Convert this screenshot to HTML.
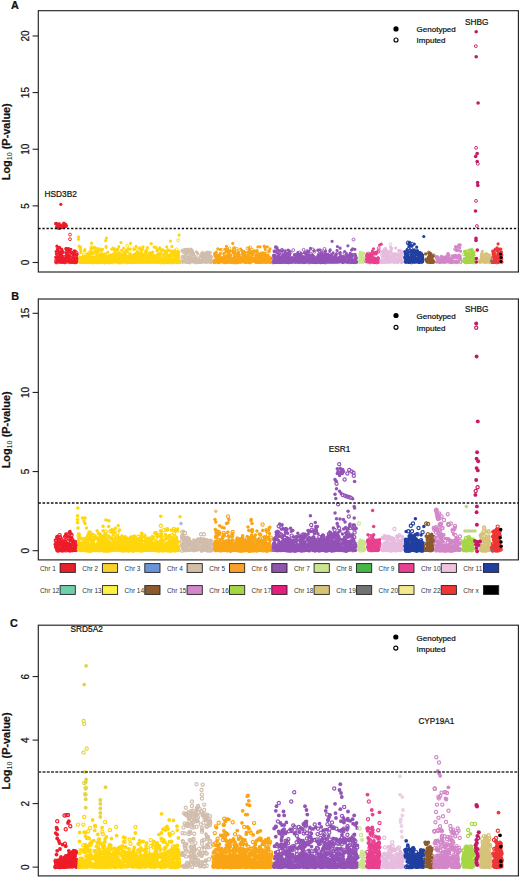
<!DOCTYPE html>
<html><head><meta charset="utf-8"><style>
html,body{margin:0;padding:0;background:#fff;}
svg{display:block;}
text{stroke:#111;stroke-width:0.22px;paint-order:stroke;}
.lg{stroke:none;}
</style></head><body>
<svg width="520" height="878" viewBox="0 0 520 878" font-family="Liberation Sans, sans-serif">
<defs><marker id="r1" markerUnits="userSpaceOnUse" markerWidth="6" markerHeight="6" refX="3" refY="3" overflow="visible"><circle cx="3" cy="3" r="1.45" fill="none" stroke="#ee1c2a" stroke-width="0.9"/></marker><marker id="r1L" markerUnits="userSpaceOnUse" markerWidth="6" markerHeight="6" refX="3" refY="3" overflow="visible"><circle cx="3" cy="3" r="1.6" fill="none" stroke="#ee1c2a" stroke-width="1.15"/></marker><marker id="r2" markerUnits="userSpaceOnUse" markerWidth="6" markerHeight="6" refX="3" refY="3" overflow="visible"><circle cx="3" cy="3" r="1.45" fill="none" stroke="#ffd60c" stroke-width="0.9"/></marker><marker id="r2L" markerUnits="userSpaceOnUse" markerWidth="6" markerHeight="6" refX="3" refY="3" overflow="visible"><circle cx="3" cy="3" r="1.6" fill="none" stroke="#ffd60c" stroke-width="1.15"/></marker><marker id="r3" markerUnits="userSpaceOnUse" markerWidth="6" markerHeight="6" refX="3" refY="3" overflow="visible"><circle cx="3" cy="3" r="1.45" fill="none" stroke="#6a94d8" stroke-width="0.9"/></marker><marker id="r3L" markerUnits="userSpaceOnUse" markerWidth="6" markerHeight="6" refX="3" refY="3" overflow="visible"><circle cx="3" cy="3" r="1.6" fill="none" stroke="#6a94d8" stroke-width="1.15"/></marker><marker id="r4" markerUnits="userSpaceOnUse" markerWidth="6" markerHeight="6" refX="3" refY="3" overflow="visible"><circle cx="3" cy="3" r="1.45" fill="none" stroke="#d1bdac" stroke-width="0.9"/></marker><marker id="r4L" markerUnits="userSpaceOnUse" markerWidth="6" markerHeight="6" refX="3" refY="3" overflow="visible"><circle cx="3" cy="3" r="1.6" fill="none" stroke="#d1bdac" stroke-width="1.15"/></marker><marker id="r5" markerUnits="userSpaceOnUse" markerWidth="6" markerHeight="6" refX="3" refY="3" overflow="visible"><circle cx="3" cy="3" r="1.45" fill="none" stroke="#f9a516" stroke-width="0.9"/></marker><marker id="r5L" markerUnits="userSpaceOnUse" markerWidth="6" markerHeight="6" refX="3" refY="3" overflow="visible"><circle cx="3" cy="3" r="1.6" fill="none" stroke="#f9a516" stroke-width="1.15"/></marker><marker id="r6" markerUnits="userSpaceOnUse" markerWidth="6" markerHeight="6" refX="3" refY="3" overflow="visible"><circle cx="3" cy="3" r="1.45" fill="none" stroke="#9252b6" stroke-width="0.9"/></marker><marker id="r6L" markerUnits="userSpaceOnUse" markerWidth="6" markerHeight="6" refX="3" refY="3" overflow="visible"><circle cx="3" cy="3" r="1.6" fill="none" stroke="#9252b6" stroke-width="1.15"/></marker><marker id="r7" markerUnits="userSpaceOnUse" markerWidth="6" markerHeight="6" refX="3" refY="3" overflow="visible"><circle cx="3" cy="3" r="1.45" fill="none" stroke="#c9e58d" stroke-width="0.9"/></marker><marker id="r7L" markerUnits="userSpaceOnUse" markerWidth="6" markerHeight="6" refX="3" refY="3" overflow="visible"><circle cx="3" cy="3" r="1.6" fill="none" stroke="#c9e58d" stroke-width="1.15"/></marker><marker id="r8" markerUnits="userSpaceOnUse" markerWidth="6" markerHeight="6" refX="3" refY="3" overflow="visible"><circle cx="3" cy="3" r="1.45" fill="none" stroke="#47b648" stroke-width="0.9"/></marker><marker id="r8L" markerUnits="userSpaceOnUse" markerWidth="6" markerHeight="6" refX="3" refY="3" overflow="visible"><circle cx="3" cy="3" r="1.6" fill="none" stroke="#47b648" stroke-width="1.15"/></marker><marker id="r9" markerUnits="userSpaceOnUse" markerWidth="6" markerHeight="6" refX="3" refY="3" overflow="visible"><circle cx="3" cy="3" r="1.45" fill="none" stroke="#e8418f" stroke-width="0.9"/></marker><marker id="r9L" markerUnits="userSpaceOnUse" markerWidth="6" markerHeight="6" refX="3" refY="3" overflow="visible"><circle cx="3" cy="3" r="1.6" fill="none" stroke="#e8418f" stroke-width="1.15"/></marker><marker id="r10" markerUnits="userSpaceOnUse" markerWidth="6" markerHeight="6" refX="3" refY="3" overflow="visible"><circle cx="3" cy="3" r="1.45" fill="none" stroke="#e6bcdf" stroke-width="0.9"/></marker><marker id="r10L" markerUnits="userSpaceOnUse" markerWidth="6" markerHeight="6" refX="3" refY="3" overflow="visible"><circle cx="3" cy="3" r="1.6" fill="none" stroke="#e6bcdf" stroke-width="1.15"/></marker><marker id="r11" markerUnits="userSpaceOnUse" markerWidth="6" markerHeight="6" refX="3" refY="3" overflow="visible"><circle cx="3" cy="3" r="1.45" fill="none" stroke="#213fa0" stroke-width="0.9"/></marker><marker id="r11L" markerUnits="userSpaceOnUse" markerWidth="6" markerHeight="6" refX="3" refY="3" overflow="visible"><circle cx="3" cy="3" r="1.6" fill="none" stroke="#213fa0" stroke-width="1.15"/></marker><marker id="r12" markerUnits="userSpaceOnUse" markerWidth="6" markerHeight="6" refX="3" refY="3" overflow="visible"><circle cx="3" cy="3" r="1.45" fill="none" stroke="#6fcfa8" stroke-width="0.9"/></marker><marker id="r12L" markerUnits="userSpaceOnUse" markerWidth="6" markerHeight="6" refX="3" refY="3" overflow="visible"><circle cx="3" cy="3" r="1.6" fill="none" stroke="#6fcfa8" stroke-width="1.15"/></marker><marker id="r13" markerUnits="userSpaceOnUse" markerWidth="6" markerHeight="6" refX="3" refY="3" overflow="visible"><circle cx="3" cy="3" r="1.45" fill="none" stroke="#fbf142" stroke-width="0.9"/></marker><marker id="r13L" markerUnits="userSpaceOnUse" markerWidth="6" markerHeight="6" refX="3" refY="3" overflow="visible"><circle cx="3" cy="3" r="1.6" fill="none" stroke="#fbf142" stroke-width="1.15"/></marker><marker id="r14" markerUnits="userSpaceOnUse" markerWidth="6" markerHeight="6" refX="3" refY="3" overflow="visible"><circle cx="3" cy="3" r="1.45" fill="none" stroke="#8d5a2c" stroke-width="0.9"/></marker><marker id="r14L" markerUnits="userSpaceOnUse" markerWidth="6" markerHeight="6" refX="3" refY="3" overflow="visible"><circle cx="3" cy="3" r="1.6" fill="none" stroke="#8d5a2c" stroke-width="1.15"/></marker><marker id="r15" markerUnits="userSpaceOnUse" markerWidth="6" markerHeight="6" refX="3" refY="3" overflow="visible"><circle cx="3" cy="3" r="1.45" fill="none" stroke="#d386c8" stroke-width="0.9"/></marker><marker id="r15L" markerUnits="userSpaceOnUse" markerWidth="6" markerHeight="6" refX="3" refY="3" overflow="visible"><circle cx="3" cy="3" r="1.6" fill="none" stroke="#d386c8" stroke-width="1.15"/></marker><marker id="r16" markerUnits="userSpaceOnUse" markerWidth="6" markerHeight="6" refX="3" refY="3" overflow="visible"><circle cx="3" cy="3" r="1.45" fill="none" stroke="#a6d645" stroke-width="0.9"/></marker><marker id="r16L" markerUnits="userSpaceOnUse" markerWidth="6" markerHeight="6" refX="3" refY="3" overflow="visible"><circle cx="3" cy="3" r="1.6" fill="none" stroke="#a6d645" stroke-width="1.15"/></marker><marker id="r17" markerUnits="userSpaceOnUse" markerWidth="6" markerHeight="6" refX="3" refY="3" overflow="visible"><circle cx="3" cy="3" r="1.45" fill="none" stroke="#c41a66" stroke-width="0.9"/></marker><marker id="r17L" markerUnits="userSpaceOnUse" markerWidth="6" markerHeight="6" refX="3" refY="3" overflow="visible"><circle cx="3" cy="3" r="1.6" fill="none" stroke="#c41a66" stroke-width="1.15"/></marker><marker id="r18" markerUnits="userSpaceOnUse" markerWidth="6" markerHeight="6" refX="3" refY="3" overflow="visible"><circle cx="3" cy="3" r="1.45" fill="none" stroke="#d7c27a" stroke-width="0.9"/></marker><marker id="r18L" markerUnits="userSpaceOnUse" markerWidth="6" markerHeight="6" refX="3" refY="3" overflow="visible"><circle cx="3" cy="3" r="1.6" fill="none" stroke="#d7c27a" stroke-width="1.15"/></marker><marker id="r19" markerUnits="userSpaceOnUse" markerWidth="6" markerHeight="6" refX="3" refY="3" overflow="visible"><circle cx="3" cy="3" r="1.45" fill="none" stroke="#727272" stroke-width="0.9"/></marker><marker id="r19L" markerUnits="userSpaceOnUse" markerWidth="6" markerHeight="6" refX="3" refY="3" overflow="visible"><circle cx="3" cy="3" r="1.6" fill="none" stroke="#727272" stroke-width="1.15"/></marker><marker id="r20" markerUnits="userSpaceOnUse" markerWidth="6" markerHeight="6" refX="3" refY="3" overflow="visible"><circle cx="3" cy="3" r="1.45" fill="none" stroke="#f2e98f" stroke-width="0.9"/></marker><marker id="r20L" markerUnits="userSpaceOnUse" markerWidth="6" markerHeight="6" refX="3" refY="3" overflow="visible"><circle cx="3" cy="3" r="1.6" fill="none" stroke="#f2e98f" stroke-width="1.15"/></marker><marker id="r22" markerUnits="userSpaceOnUse" markerWidth="6" markerHeight="6" refX="3" refY="3" overflow="visible"><circle cx="3" cy="3" r="1.45" fill="none" stroke="#ee3636" stroke-width="0.9"/></marker><marker id="r22L" markerUnits="userSpaceOnUse" markerWidth="6" markerHeight="6" refX="3" refY="3" overflow="visible"><circle cx="3" cy="3" r="1.6" fill="none" stroke="#ee3636" stroke-width="1.15"/></marker><marker id="rx" markerUnits="userSpaceOnUse" markerWidth="6" markerHeight="6" refX="3" refY="3" overflow="visible"><circle cx="3" cy="3" r="1.45" fill="none" stroke="#000000" stroke-width="0.9"/></marker><marker id="rxL" markerUnits="userSpaceOnUse" markerWidth="6" markerHeight="6" refX="3" refY="3" overflow="visible"><circle cx="3" cy="3" r="1.6" fill="none" stroke="#000000" stroke-width="1.15"/></marker><marker id="r10p" markerUnits="userSpaceOnUse" markerWidth="6" markerHeight="6" refX="3" refY="3" overflow="visible"><circle cx="3" cy="3" r="1.45" fill="none" stroke="#ebd0e6" stroke-width="0.9"/></marker><marker id="r10pL" markerUnits="userSpaceOnUse" markerWidth="6" markerHeight="6" refX="3" refY="3" overflow="visible"><circle cx="3" cy="3" r="1.6" fill="none" stroke="#ebd0e6" stroke-width="1.15"/></marker><marker id="r2o" markerUnits="userSpaceOnUse" markerWidth="6" markerHeight="6" refX="3" refY="3" overflow="visible"><circle cx="3" cy="3" r="1.45" fill="none" stroke="#e2d444" stroke-width="0.9"/></marker><marker id="r2oL" markerUnits="userSpaceOnUse" markerWidth="6" markerHeight="6" refX="3" refY="3" overflow="visible"><circle cx="3" cy="3" r="1.6" fill="none" stroke="#e2d444" stroke-width="1.15"/></marker><marker id="r16p" markerUnits="userSpaceOnUse" markerWidth="6" markerHeight="6" refX="3" refY="3" overflow="visible"><circle cx="3" cy="3" r="1.45" fill="none" stroke="#bfd585" stroke-width="0.9"/></marker><marker id="r16pL" markerUnits="userSpaceOnUse" markerWidth="6" markerHeight="6" refX="3" refY="3" overflow="visible"><circle cx="3" cy="3" r="1.6" fill="none" stroke="#bfd585" stroke-width="1.15"/></marker><marker id="r3p" markerUnits="userSpaceOnUse" markerWidth="6" markerHeight="6" refX="3" refY="3" overflow="visible"><circle cx="3" cy="3" r="1.45" fill="none" stroke="#b9b3dd" stroke-width="0.9"/></marker><marker id="r3pL" markerUnits="userSpaceOnUse" markerWidth="6" markerHeight="6" refX="3" refY="3" overflow="visible"><circle cx="3" cy="3" r="1.6" fill="none" stroke="#b9b3dd" stroke-width="1.15"/></marker><marker id="r5p" markerUnits="userSpaceOnUse" markerWidth="6" markerHeight="6" refX="3" refY="3" overflow="visible"><circle cx="3" cy="3" r="1.45" fill="none" stroke="#e8c07c" stroke-width="0.9"/></marker><marker id="r5pL" markerUnits="userSpaceOnUse" markerWidth="6" markerHeight="6" refX="3" refY="3" overflow="visible"><circle cx="3" cy="3" r="1.6" fill="none" stroke="#e8c07c" stroke-width="1.15"/></marker></defs>
<rect width="520" height="878" fill="#fff"/>
<path d="M58.4 251.1h0M61 257.9h0M56.1 251.5h0M72 262.5h0M71.2 260.6h0M60.3 258.5h0M73.7 257.5h0M59.5 247.4h0M58.1 259.4h0M70.9 249.3h0M68.3 250.8h0M60.8 253.2h0M59.3 256.9h0M70.1 259h0M66.5 253.6h0M56.4 254.1h0M66.4 248.6h0M66.6 249.4h0M65.5 260.3h0M76.3 262.5h0M73.3 252.2h0M73.1 257.8h0M64.7 262.1h0M67.9 260.8h0M67.2 256h0M59.3 256.5h0M72.8 253.7h0M61 252.4h0M61.4 254.9h0M57.9 249.3h0M60 256.3h0M71.1 261.2h0M76.7 254.6h0M68 259.7h0M56.8 259.7h0M74.5 260.1h0M62.2 250.6h0M74.6 262.2h0M74.3 250.8h0M60 255.2h0M59.7 261.7h0M59.9 259.6h0M70.1 251.6h0M63 252.3h0M75.3 260.9h0M62.9 260.2h0M68.6 248.5h0M56.3 261.9h0M61.3 251.4h0M59.1 260.4h0M76.8 260.3h0M75.3 251.1h0M57.9 260.6h0M76.8 257.9h0M69.9 260.2h0M61.6 249.1h0M69.6 255.5h0M62.4 252.8h0M62.1 259.7h0M69.3 259.9h0M76.1 261.3h0M57.8 257.2h0M75.1 254.3h0M73.7 254.9h0M56.9 246.2h0M67.4 257.2h0M61.1 262.3h0M55.7 257.3h0M69.6 258.3h0M71.4 260.5h0M65.9 260.7h0M67.7 250.3h0M57.1 257.1h0M59 253.2h0M62.3 261.5h0M63.6 261.5h0M68.4 261.2h0M60.9 262.2h0M71.9 262.4h0M71.1 262h0M76.8 261.3h0M61.3 261.2h0M58.5 261.4h0M69.8 261.5h0M62.6 262.3h0M76.3 262.3h0M69.1 261.6h0" stroke="#ee1c2a" stroke-width="3.2" stroke-linecap="round" fill="none"/>
<path d="M69.6,252.7 75.1,262.3 67.2,249.5 60.2,258.7 60.6,260.6 65.5,260.1 73.5,256 66.5,256.6 64,258.3 68.4,258.9 67.2,251.6 66,259.4 65.4,262.3 57.3,262.4 71.9,260.4 69.1,259.4 59,257.2 62.5,258.3 63.9,259 56,262.4 70.2,256.9 60.3,255.7 64.5,260.5 76.4,257.6 66.5,259.2 61.9,257.9 74.4,252.4 72.5,259.6 66,248.8 71.2,261.8 68.5,251.8 58.4,256.8 72.6,253 68.8,253 67.9,260.6 75.6,258.7 72.6,253 70,261.8 74.7,262.2 76.9,259.2 57.7,248.9 76.6,252.7 61,258.1 69.6,262.2 65.3,259.9 62.2,260.5 64,260.1 68.1,256.3 55.9,260.4 67.5,261.9 66.2,252 66.4,253.3 76.9,254.3 61.9,251.6 75.3,262.3 59.4,258.4 71,255.3 65.3,259.1 64.5,257.3 63.2,261.5 61.1,252.7 64.2,256.8 61.5,256 76.3,261.7 59.1,261.4 75.6,261.1 72.9,261.9 64.4,262.3 60.9,261.4 59.6,261.9" stroke="none" fill="none" marker-start="url(#r1)" marker-mid="url(#r1)" marker-end="url(#r1)"/>
<path d="M100.2 260.9h0M106.8 258.4h0M147.7 255.6h0M176.7 258.8h0M164.9 255.9h0M160.1 261.9h0M134 249.4h0M176.7 261.8h0M136.7 260.8h0M123.7 259.7h0M119.4 255.6h0M128.7 257.6h0M99.9 262.5h0M139.2 253.5h0M130.5 243.3h0M162.8 260.1h0M141.4 259.1h0M80 260.3h0M120 253.7h0M152.8 252.1h0M128.7 256.1h0M144.3 258.1h0M142.3 258h0M157.6 254.3h0M160.9 258.3h0M106 256.7h0M133.9 261.7h0M130.5 256.1h0M130.2 249.1h0M119.7 257.2h0M100.4 261.4h0M106.4 262.1h0M131.8 260.4h0M153.1 261.6h0M150.7 254.8h0M140.4 261.3h0M96.8 255.5h0M112.5 261.3h0M169.3 257.9h0M122.6 255.8h0M176.6 259.7h0M152.2 258.2h0M151 260.4h0M103.6 256.5h0M110.1 262h0M85.1 258.4h0M101.2 262.3h0M160.8 249.5h0M148.7 262h0M102.7 254.5h0M137.4 261.4h0M112.5 258.3h0M178.7 262.3h0M165.1 260.7h0M137.5 252.1h0M145.9 262.2h0M92.6 259.6h0M163.4 262.3h0M143.2 256.5h0M163.9 257.6h0M142.5 249.3h0M103.8 262.2h0M138.5 260.6h0M167.3 259.9h0M150.7 256.3h0M154.6 261.1h0M94.7 251.4h0M160.7 259.6h0M177.8 262.3h0M123.8 261.9h0M131.9 262.1h0M88.2 262.3h0M158.8 255.3h0M135.2 260.7h0M157.7 249.8h0M90 257.6h0M178.1 256.5h0M149.5 259h0M160.9 257.8h0M109.3 260.5h0M154.2 259.3h0M94.4 251.6h0M112.3 262.2h0M127.4 251.3h0M176.3 254.6h0M131.8 258.5h0M157.8 257.1h0M115.6 250.5h0M119.7 259.6h0M148.1 258.8h0M98 260.1h0M84.6 262h0M106.1 262h0M86.9 254h0M116.3 254.2h0M107.9 252.2h0M165.9 252.5h0M147 258.9h0M159.2 256.7h0M154.1 255.7h0M128.2 260.1h0M91.6 260.8h0M154.1 247.1h0M136.6 258.9h0M133.6 254.9h0M120.3 258h0M109.7 259.2h0M143.1 246.9h0M136 260.4h0M173 252h0M169.2 250.4h0M117.8 259.6h0M116.8 256.3h0M96.8 261.1h0M138.4 261h0M105.3 259.1h0M148.5 259.9h0M128 256.6h0M82.2 261.2h0M174.5 260.1h0M162.8 262.1h0M178.9 258.7h0M114.2 249.8h0M89.9 258.8h0M146.6 261.9h0M107.4 259.4h0M165.1 255.5h0M88.3 260.2h0M108.9 259.2h0M131.5 260h0M178.5 260.9h0M155.3 260.6h0M80.5 247.2h0M171.9 246.4h0M133.5 259.8h0M163.6 261.3h0M99.1 258.7h0M175.3 258.9h0M94.4 260h0M116.3 259.6h0M140 261.6h0M112.1 257.1h0M160.6 253h0M133.3 257h0M136.2 253.3h0M80 262.4h0M147.5 247.7h0M112.5 261.8h0M82.7 261.8h0M147.4 261h0M111.7 249.1h0M159.7 257.9h0M140 253.8h0M147.3 258.1h0M135.9 259h0M169.2 257.8h0M101 259.8h0M104.6 261h0M116.8 257.7h0M133.9 254.4h0M147.9 262.4h0M147.6 261.7h0M163.5 254.3h0M168.2 261.7h0M139.5 261.1h0M174.5 250.9h0M117.4 258.7h0M125.4 255.5h0M121.7 250.3h0M140 262.3h0M130.3 260.4h0M177.7 251.3h0M160.2 261.2h0M115.3 261.7h0M171 260.7h0M114.1 257.6h0M156.6 262.2h0M117.1 260.9h0M123.6 256.9h0M131.3 262.2h0M168.5 261.6h0M128.2 260.5h0M176.8 262.4h0M151 262h0M176.3 257.5h0M125.6 259.5h0M123.5 258.8h0M87 261.6h0M146.1 255.5h0M95.1 247.9h0M174 262.4h0M142.8 256.6h0M159.7 247.9h0M156.9 250.7h0M97.1 258.5h0M122.2 255.2h0M151.8 256.9h0M157.3 261.9h0M118.2 258.8h0M80.8 250.1h0M107.3 260h0M177.9 256.7h0M132.9 259.7h0M121.2 261.6h0M118.4 261.5h0M115.5 261.7h0M163.8 255.8h0M105 260.5h0M104.8 261.5h0M133.2 261.5h0M166.5 258.5h0M118.6 261.5h0M154 260.3h0M138.5 261.9h0M87 261.2h0M108.1 257.4h0M150.3 260.5h0M125.8 260.9h0M138.7 258.2h0M105 262.2h0M111.1 254.8h0M142.3 262h0M130.2 261.9h0M150.2 254.8h0M171.6 261.8h0M99.7 255.9h0M127.7 258.1h0M143.3 257.5h0M129.7 253.5h0M156.3 260h0M101 254.5h0M147.2 262.3h0M123.6 248.1h0M98.5 259.2h0M99.2 260.4h0M169.9 259.6h0M97.2 261.8h0M108.1 262.3h0M178.4 254h0M178.6 255h0M144 260.2h0M126.5 250.1h0M170.3 259.4h0M138.4 254.3h0M165.8 255.5h0M121 242.6h0M137 261.9h0M81 252.6h0M116.3 258.9h0M137.7 259.5h0M164.1 259.8h0M112 261.4h0M94.4 262h0M130.3 254.5h0M85.9 258h0M106.1 246.3h0M96.6 250.8h0M87.9 261h0M105.8 261.4h0M127.5 256.3h0M166.7 246.8h0M87.1 260.7h0M165.3 261.8h0M111.1 256.1h0M83.7 258.5h0M166.6 259.9h0M138.1 261.9h0M99.2 262.2h0M113 248.1h0M177.5 262.3h0M134.6 262.5h0M132.3 261.4h0M128.5 260.3h0M147.8 260.9h0M81.7 262h0M145.9 250.3h0M121.5 256.9h0M174.5 254.2h0M134.5 259.4h0M147.4 258.6h0M124.5 259.5h0M147 259.1h0M159.9 258.3h0M123.9 256.9h0M149 258h0M123.2 257.7h0M157.9 262.5h0M113.3 258.4h0M91.6 243.2h0M92.4 257h0M140.2 261.3h0M149.4 261.6h0M129.9 258.5h0M108.9 260h0M99.4 250.2h0M178.3 256.1h0M79.7 257.1h0M116.6 258.8h0M130.8 260.7h0M137.8 260.9h0M107.1 262.4h0M88.2 259.4h0M166.4 256.2h0M178.3 261.1h0M102.6 262h0M130.6 261.8h0M85.8 256.6h0M86.2 262.5h0M100.7 261.5h0M135 259.8h0M108.1 260.5h0M123.7 255.1h0M91.5 261.4h0M91.2 248.7h0M101.5 260.9h0M104.7 261.5h0M124.9 252.9h0M141 254h0M122.1 261.2h0M167.1 251.6h0M90.9 262.1h0M167.9 259h0M172.4 255.9h0M125.1 260.5h0M96.4 258.7h0M150.5 261.7h0M140.6 261.3h0M96.7 253.9h0M122.3 258.8h0M171 253.7h0M86.5 261.5h0M115.1 248.9h0M166.4 253.6h0M142.1 257.6h0M106.6 258h0M100.6 261.2h0M112.2 260.1h0M84.5 250.9h0M102.3 260.7h0M169.4 258.9h0M133.6 259.9h0M137.5 259.6h0M100.4 261.7h0M84.5 260.5h0M143.8 261.5h0M136.9 254.6h0M177.8 262.4h0M86.4 260.7h0M136.1 246.4h0M168.4 258.5h0M97.6 260.7h0M162.8 261.2h0M128.2 248.8h0M142.8 262.3h0M172 261.3h0M144.8 258.7h0M140.3 257.5h0M114.7 260.2h0M136.1 253.6h0M124.4 254.2h0M153.5 262.3h0M136.4 257.1h0M158.9 258.8h0M80.9 258.9h0M153.6 261.7h0M84.7 256.7h0M123.2 257.1h0M109.9 262.1h0M115.2 261.7h0M162.6 250.1h0M176.3 261.6h0M80.4 261.3h0M85.5 257.7h0M105.7 240.7h0M97.6 251.8h0M110.3 258.7h0M141 250.3h0M117.5 257.7h0M141.2 259.9h0M151.6 262h0M123.8 261.6h0M176.9 259.7h0M139.2 261.6h0M172.1 261.3h0M85 259.6h0M133.5 259.9h0M94.2 247.5h0M116.9 260.7h0M81 259.5h0M153.5 260.8h0M128.4 259.7h0M133.2 259h0M161.8 250.3h0M143 256.8h0M138.7 259.7h0M103.6 261.4h0M104.1 255.4h0M155.3 260.6h0M113.9 260.4h0M145.5 260.1h0M119.2 257.1h0M97.1 260.2h0M175.3 258.2h0M140.6 260.3h0M108.9 259.8h0M132.8 256.4h0M154.7 261.8h0M133.7 257.9h0M176.1 261.9h0M92.5 261.8h0M158.7 257.1h0M103 259.3h0M171.6 262.1h0M135.9 261.8h0M93.3 252.3h0M86.1 259.5h0M170.2 262.5h0M159.1 255.1h0M151.2 243.7h0M116.6 260.5h0M120.6 260.4h0M81.7 257.5h0M122.5 255.4h0M165.3 257.1h0M169.9 255.4h0M84.3 259.7h0M131.8 258.4h0M163.5 261.2h0M92.6 260.9h0M82.3 262.2h0M177.3 259.9h0M139.7 262h0M146.8 250.8h0M133.9 260.1h0M131.8 259.5h0M123.3 262.2h0M144.8 262.1h0M170.4 261.2h0M140.6 258.7h0M118.7 262.3h0M107.2 257.9h0M106.4 238.1h0M176.4 259.5h0M106.4 261.6h0M130.4 257.5h0M146.1 260.1h0M139.1 259.6h0M176.6 252.1h0M105.4 253.9h0M179.1 235.1h0M124 256.4h0M133.6 261.9h0M133.2 255.8h0M106.1 247.3h0M136 262h0M140 258h0M172.1 259.7h0M132.4 258.4h0M83.9 258.8h0M165.9 262.1h0M148.4 258.7h0M165 261.1h0M81.8 258.3h0M126.9 259.8h0M143.1 255h0M164.3 260.5h0M170.4 241.1h0M102.5 249.3h0M105.3 257h0M131.5 262h0M110.7 255.6h0M178.9 251.8h0M156.2 259.7h0M92.7 253.5h0M167.9 256.9h0M136.9 261.6h0M143.7 258.4h0M122.8 258.7h0M154.9 257.9h0M93.7 261.9h0M106.7 258.2h0M162.3 262h0M94.9 256.8h0M145.5 252.4h0M124.9 256h0M159.7 260.1h0M156 247.6h0M86.9 262.3h0M110.3 258.9h0M139.7 247.8h0M149.5 260.8h0M162.5 260.7h0M80.1 259.5h0M96 258.8h0M164.8 258.1h0M101.1 255.3h0M110.6 261.3h0M130.6 255.1h0M131.8 256.7h0M80.6 250.2h0M101 258.2h0M105.9 260.5h0M82.5 262.5h0M169.9 257.9h0M146.2 262.4h0M82.5 261.3h0M170.7 262.1h0M99 262.5h0M105.4 258.8h0M132.5 259h0M97.5 259.5h0M119.2 253.2h0M138.8 254.8h0M120.6 260.2h0M84 261.5h0M136.4 261.5h0M127.5 262.2h0M168.2 262.4h0M163.2 262.3h0M126.9 261.6h0M136.1 255.2h0M176.3 257.4h0M85.9 260.6h0M130.7 260.3h0M137.7 254.4h0M173.5 260.4h0M136.1 260.3h0M90.2 257.1h0M159.9 262.1h0M138 262.2h0M169.4 257.9h0M173.8 259.7h0M168.2 257.2h0M138.4 256.1h0M92.5 261.6h0M151 256.5h0M117.9 249.3h0M153.4 261.6h0M143.1 255.9h0M160.2 259.6h0M162.7 258.8h0M83.2 260.8h0M166.7 261.2h0M114.1 254.1h0M81.9 259.3h0M178.6 261.3h0M97 262.5h0M141.4 261.7h0M101.7 249.8h0M176.4 259.8h0M139.9 257h0M130.6 261h0M171.9 262.1h0M154.4 261.7h0M162.9 259.3h0M129.8 261.6h0M154.2 260.9h0M150.2 253.4h0M108.1 260.4h0M81.6 257.7h0M167 261.7h0M134.4 257.7h0M85.4 262.3h0M153.5 261.4h0M90.6 252h0M161.1 259.9h0M122.2 256.8h0M84.9 249.6h0M86.3 258.4h0M141.1 252.4h0M156.7 260.9h0M93.4 260.1h0M116.3 261.7h0M123.8 258.3h0M165.3 251.2h0M87.7 258.2h0M171.1 258.7h0M107.4 256.5h0M133.6 261h0M171.4 261.1h0M152 260.8h0M82.2 257h0M108.6 255.7h0M169.9 256.9h0M137.9 256.2h0M167.7 255.4h0M155.3 262.3h0M124.1 257.1h0M121.8 256.3h0M178.7 262.4h0M156.9 258.4h0M172.2 254.8h0M136.5 256.8h0M177 261.1h0M157.3 260.2h0M118.8 246.6h0M169.3 257.4h0M143.6 258.3h0M118.8 260.2h0M142.8 261.1h0M174 259.6h0M83.7 262.1h0M89.2 262.3h0M84 260.1h0M91 253.9h0M176.8 258h0M95.5 258.6h0M165.9 261.6h0M119.3 259.2h0M146.2 260.7h0M107.6 260.8h0M174 255.3h0M143.5 255.9h0M167.9 249.9h0M150.3 262h0M146.6 261h0M155.3 261.4h0M93.6 261.3h0M102.5 253.9h0M92.3 257.3h0M114.2 253.3h0M156.6 261.8h0M88.6 255.1h0M146.1 254.9h0M159.1 261.7h0M163.1 260.7h0M171.7 251.6h0M81.2 262.4h0M159.2 257.2h0M170.2 262.1h0M148.2 260.4h0M98.5 248.5h0M113.4 260.6h0M113.8 258.4h0M173.8 256h0M114.8 262.1h0M163.8 261.3h0M154.8 255.6h0M164.2 260h0M86.4 261.7h0M163.6 259.6h0M128.8 260h0M171.4 251.6h0M101 260.8h0M83.2 260.9h0M104.6 261.5h0M92.9 262h0M107.3 262h0M136.9 261.8h0M108.5 261.3h0M94.5 261.9h0M173.4 261.3h0M137.7 261.1h0M131.7 262.1h0M90.4 261.6h0M114.9 261.9h0M123.8 262.3h0M154 261.3h0M100.5 261.3h0M96 262.4h0M174.8 261.5h0M117.5 261.9h0M179.2 262h0M128.1 262.2h0M88.5 261.3h0M174.1 261.1h0M86.8 261.6h0M101.4 261.4h0M105.5 262.4h0M155 261.5h0M119.4 262.5h0M157.4 261.5h0M121 261.6h0M163.2 262.4h0M88.7 261.8h0M108.8 262.1h0M94.3 261.6h0M101.4 262.3h0M95.8 261.6h0M118.3 262.1h0M117 261.4h0M151.3 261.1h0M164.5 261.9h0M141.2 262.1h0M165.7 262.4h0M80 261.5h0M157.8 261.3h0M121.8 262h0M128 262.2h0M152.1 261.5h0M166.7 262.4h0M90.8 262.2h0M89.2 262h0M160.3 261.2h0M129.8 261.5h0M91.5 261.1h0M80.1 262.1h0M85 262h0M92.3 261.4h0M98.9 261.4h0M101.2 261.9h0M96.9 262.4h0M98.5 261.6h0M134.3 261.1h0M154.5 261.7h0M136.1 261.9h0M137 261.7h0M134.8 262.3h0M153.5 262h0M135.7 261.9h0M179.1 262.4h0M178.3 261.2h0M145.7 261.8h0M95.2 262.2h0M107.7 262.2h0M99.9 261.5h0M90.1 261.8h0M129 261.8h0M122.1 261.1h0M123.1 261.1h0M80.4 261.6h0M144.7 262.2h0M104.7 261.8h0M130.7 262.4h0M120.4 261.1h0M96.4 262.2h0M113.4 261.5h0M161.9 261.3h0M160.1 262.2h0M100.8 262.3h0M178.4 261.4h0M133.8 261.3h0M93.6 261.1h0M115.1 261.3h0M89.1 261.3h0M110.2 262.2h0" stroke="#ffd60c" stroke-width="3.2" stroke-linecap="round" fill="none"/>
<path d="M117.8,261 115.2,259.1 178.1,260.8 127.9,259.6 115,257.6 150.1,254.2 98.5,258 132.1,261.8 128.7,262 113.7,254.2 129,260.3 167.3,255.9 170.7,262.4 169.9,262.3 91.3,262.1 135.5,259.2 114.8,260 164.6,262.3 150.2,253 152.6,260.7 109.9,259.9 162.5,260.9 116.5,259.1 114,258.6 171.6,254.9 132.7,261.6 142.6,259.1 96.9,253.7 179.1,261.1 159,258.5 164.5,259.7 109.4,257.1 134.4,248.5 113.2,259.7 114.9,260 176.5,256.6 92.5,247.4 91.2,253.6 118.1,252.3 168.8,258.8 150,260.1 148.9,261.1 148.8,259 128.8,260.6 93.6,261.1 147.9,261.3 141,262.1 139.5,259.2 156.4,257.3 87.3,256.6 111.2,261 172.7,257.7 85,259.3 126.8,260.1 93.8,252.9 117.7,259.8 159.3,258.3 83.3,257.1 83.8,262 159.6,255 117.8,254.5 156.7,256.6 172,253.9 117.1,262 133.2,260.2 145.6,260.6 144.8,259 127.3,245.8 152.5,260.6 126.2,261.7 87.3,255.5 115.2,254.3 88.4,254.5 142.8,261.2 105,262.5 89.3,254.3 135.4,259.8 171.8,251.3 177.5,255.5 138.3,260.8 160.4,262.5 164.5,258.2 136.8,258.2 115.9,256.3 99.3,261.9 101.5,250.1 88,254.8 144.7,261.5 122.1,259.5 150.2,260.6 110.5,258.2 125.2,252.2 153.6,260.8 166.4,261.4 125.6,253.2 141.2,258.1 118.9,261.4 129.2,257.2 177.2,262.2 112.8,262.4 134.5,261.2 100.6,252.5 120.2,262.4 143.4,256.2 97.2,252.1 158.8,253.4 162.6,261.8 121.8,261.2 126.6,262.4 142.1,261.8 177.8,256.4 91.6,249 80.3,262 116.4,252.9 115.1,259.9 100.1,255.9 147.2,253.8 127.5,262.3 116.2,258.8 121,262.2 145.2,254 103.8,256.3 178.1,240.3 125.3,258.7 158.1,261 80.2,248 123.7,254.1 164.6,262.3 170.6,255.5 135.1,255.5 123.6,252.3 126,259.2 153.5,259.5 102,254.7 124.9,252.8 89.9,262.2 110.8,256 118.9,259 164.7,260.9 163.3,261.4 88.9,260.1 176.6,249.4 95.4,248.3 93.3,260.4 168.1,256.6 83.8,255 90.6,260.1 144.6,257.6 100.1,262.2 141.1,258.7 160.9,255 123.1,261.7 165.9,260.4 90.1,251.7 125,258.4 110.1,262.2 133.6,260.8 86.1,259.7 98.3,262.2 157.8,261.7 93,258.5 98.1,255.8 166.1,260.7 169.2,255.4 148.3,260.3 131,262 141,258 173.7,251.7 82.4,258.6 163.5,261.3 159.7,260.1 146.7,252.7 140.5,260.6 164.4,254 142.2,253.6 157.9,261.8 95.7,261.1 170.2,261.4 87.9,262.2 133.5,261.5 177.1,262.3 124.7,260.8 166.3,261.5 163.1,250.4 93.4,262.4 169.5,261.4 84.8,260.8 86.1,257.2 175,251.4 132.8,261.7 108.2,262.4 141.9,257.7 172.6,262.3 141.2,257.4 168,256.8 159.4,261.2 161.4,262 117.9,261.6 173,260.2 123.1,261 137,249.2 151.3,254.1 100,249.5 149.8,262.3 97.2,262.5 90.1,260.2 114.3,260.1 140.7,255 120.7,261.8 159.7,256.5 105.1,262.5 146.6,255.5 172.4,254.7 81.1,258.6 88.3,253.2 91.3,247.5 141.8,262 109,259.1 100.4,254.2 101.5,259.9 136.1,261.8 114.1,261 138.9,250.6 96.4,261.2 92.5,262.5 131.5,262.5 144.8,261.4 109.2,262.4 105,262.2 79.9,261.9 95.7,261.5 132.5,261.4 120.1,262.5 119.1,261.9 164.6,261.5 139,261.3 151.9,261.8 165.3,261.7 165,261.8 137.4,262.3 105.5,261.4 118.6,261.2 136.3,261.5 117.9,261.5 173.6,261.7 106.4,261.3 99.9,261.5 87.5,261.7 107.8,261.3 102.2,261.9 163,261.8 109.4,262.2 155.2,262 174,261.1 83.2,261.3 163.5,262.2 163.2,262 88.5,261.7 133.5,261.9 115.4,261.1 119.5,261.3 118.9,262.5" stroke="none" fill="none" marker-start="url(#r2)" marker-mid="url(#r2)" marker-end="url(#r2)"/>
<path d="M209.9 260.8h0M182.3 261h0M210.8 262.2h0M197.5 253.2h0M203.3 260.6h0M182.1 250.4h0M189.8 250.8h0M193.3 259.9h0M189.2 256.9h0M205.2 255.9h0M186.2 250.6h0M192.2 250.9h0M207.2 257.7h0M185.8 251.6h0M185.5 262.2h0M206.8 262h0M203.3 255.9h0M185.7 258.4h0M195.2 260.1h0M207.3 258.3h0M205.4 260.6h0M205.9 255.6h0M188.4 251.5h0M208.9 259.9h0M185.4 253.2h0M187.9 252.8h0M205.6 256h0M184.8 252.4h0M209.6 257.2h0M194.7 262h0M189.3 258.5h0M191.5 257.4h0M183.8 251.9h0M191.6 260.5h0M199.2 262.1h0M189.7 255.9h0M203 257.7h0M196.5 251.8h0M204.1 253.3h0M185.6 249.4h0M194.6 262h0M203 261.1h0M188.9 256.8h0M188.3 257.1h0M208.1 259.1h0M183 262h0M182.8 256h0M190.7 249.8h0M190.9 258.8h0M185.3 250.3h0M200.7 260.6h0M190.6 251.7h0M210.8 256h0M187.9 259.7h0M211.6 256.9h0M193.6 253.4h0M189.8 257.3h0M192.3 261.6h0M201.9 261.6h0M193.4 258.8h0M206.8 252.2h0M199.2 260.9h0M208.7 258.7h0M190.8 261.3h0M194.8 256h0M211.5 261h0M208.6 254.7h0M200.5 260.3h0M183.7 251h0M202.2 253.5h0M206.4 254.3h0M203 254.5h0M183.9 261.1h0M199.9 260.4h0M186.2 254h0M201.9 256.2h0M205 258.1h0M185 262h0M190.9 249.2h0M195.3 259.6h0M188.1 249.2h0M209.4 252.3h0M210.9 259.5h0M210.8 262.4h0M198.8 259h0M206.3 262.3h0M199 262.4h0M196.7 260.8h0M206.6 258.5h0M187.4 262.4h0M195.3 257.8h0M209.3 254.8h0M209.6 261.9h0M199.5 259.8h0M207.9 261h0M204.2 260.2h0M183.7 256.9h0M195.1 259.4h0M195.5 261.4h0M196.9 259.2h0M204.2 257.8h0M202.2 258.9h0M185.5 255.4h0M210.4 260.4h0M194.9 261.3h0M200.6 256.4h0M188.5 261.1h0M202.2 253.4h0M191.7 253.4h0M203.5 262h0M184.3 261.2h0M183.6 261h0M202.2 261.5h0M206.6 261.1h0M192.4 261.9h0M201.6 262.3h0M201.9 262.3h0M197.2 262h0M200.3 261.5h0M186.2 262.3h0M201.4 261.1h0M204.8 262.2h0M195.5 262.3h0M187.6 262h0M189.8 262.4h0M193 261.3h0" stroke="#d1bdac" stroke-width="3.2" stroke-linecap="round" fill="none"/>
<path d="M191.7,250.2 189.6,262.4 186.3,261.3 202.6,252.5 189.9,262.4 211,262.4 184.1,249.9 187.2,260.5 192.4,252.2 203.9,259.7 201.8,256.3 202.9,257 189.2,257.6 207.2,258 198.5,261.2 201.4,254 182.4,257.2 191.7,254.5 203.2,259 210.1,252.7 198.5,255.8 195.6,261.9 188.4,250 193.3,259.2 183.7,257.5 194.8,259.4 209.1,260.6 182.6,258.5 193.1,254.1 201.6,256.3 206.3,253.5 205.9,261.2 207.5,259.4 189.2,255.3 183.3,252.1 207.9,259.9 197.5,258.4 202.1,254.4 191,255.4 207.5,261.5 193.5,255.9 181.7,262.3 196.8,262.4 199.8,262.2 195.3,262.4 211.5,261.6 196.7,261.1 208.8,261.6" stroke="none" fill="none" marker-start="url(#r4)" marker-mid="url(#r4)" marker-end="url(#r4)"/>
<path d="M266.4 261.8h0M270 248.8h0M219.9 256.3h0M250.4 262h0M230.8 259.5h0M226 249.4h0M267.2 259.2h0M250.5 261.8h0M256.5 256.6h0M217 255.2h0M218 262.3h0M255.9 259.7h0M264 258.3h0M265.7 261.1h0M243.5 256.6h0M264.2 254.1h0M261.4 253.1h0M225.4 249.2h0M235.9 260.9h0M251.5 260.3h0M270.2 257.5h0M248 260.9h0M253.8 252.6h0M267.3 257.2h0M261.9 259.7h0M264.6 247.2h0M222.2 260.4h0M270.2 262.1h0M245.2 255.4h0M234.2 257.1h0M232.8 250.8h0M214.8 254.7h0M268.4 262.2h0M243.2 261h0M261.4 259.9h0M238.1 261.2h0M219.5 261.3h0M246.5 261.6h0M237.5 259.7h0M242.2 253.4h0M216.7 262h0M230.8 259.6h0M229.1 262.2h0M270 262.4h0M256.3 259.1h0M218.7 259.2h0M243.7 260h0M261.1 255.4h0M232.7 261h0M218.6 261.8h0M264.2 246h0M262.9 260.4h0M257.7 261.6h0M238.2 262.3h0M256.1 255h0M255.1 260.3h0M236.8 260h0M221.7 259.6h0M253.5 259.9h0M248.5 260.9h0M250.9 259.5h0M263.8 261.3h0M252.8 258.6h0M223.8 260.1h0M229.5 258h0M241.4 262.1h0M228.5 259h0M264.4 260.7h0M243.7 259.8h0M217.6 257.3h0M218.8 262.4h0M237.1 261h0M238.6 254.5h0M255.3 262h0M228.8 261.1h0M220.4 253.3h0M235.6 259.9h0M214.6 253.7h0M241.7 261.7h0M226.6 256h0M225.9 251.4h0M259.1 257.3h0M220.1 260.4h0M242.5 260.7h0M218.1 261.1h0M248 256.8h0M220.6 258.8h0M265.5 260.3h0M245.9 258.2h0M247.2 257.9h0M236.5 260.2h0M262.3 259.7h0M238.9 260h0M248.6 259.7h0M263 260.6h0M258.4 261.6h0M245.3 260.2h0M263.7 259.4h0M222.5 261.3h0M225.4 262.4h0M241.9 250.7h0M238 261.3h0M262.8 258h0M243.2 255h0M243.7 258.7h0M235 253.6h0M256.6 256.1h0M219.4 260.6h0M238.1 257.7h0M241.1 261.3h0M256.2 262.1h0M257 251.6h0M224.8 262.3h0M245 252.4h0M260.7 262.4h0M267.7 260.3h0M258 254.8h0M257.7 259.7h0M252.7 251.9h0M249.4 249.9h0M270.3 260.7h0M214.4 261.8h0M249.7 262.5h0M250.9 253.5h0M239.1 260.8h0M242.6 257.2h0M269.1 251.2h0M243.7 261.2h0M242 259.4h0M228.2 256.5h0M255.1 251.1h0M247.4 261.5h0M225.2 259.8h0M219.6 262.1h0M235.1 261.9h0M234.6 261.2h0M264.2 257.9h0M221.2 261.7h0M228 260.8h0M270.7 258.7h0M236.1 262h0M239.9 257.9h0M248 252h0M266.7 259.6h0M242.4 256.5h0M220.9 260.8h0M225.3 261.9h0M238 261.9h0M219.2 260.3h0M236.5 258.4h0M268.8 259.2h0M225.5 259.7h0M232.2 258.7h0M244.1 259.1h0M266.4 261.1h0M228.9 260h0M267.4 262.1h0M265.9 258.1h0M262.5 254.2h0M237.4 256.6h0M224.8 261.8h0M267.3 246.8h0M238 252.5h0M244.6 256.8h0M254.2 251h0M258 262.2h0M240.7 260.6h0M219.4 259.3h0M235.6 261.2h0M251.8 261.1h0M266 255.5h0M238.2 261.3h0M240.6 260.7h0M214.9 255.7h0M258.7 262h0M226.9 258.7h0M252.2 260.2h0M251.7 253.8h0M237.3 259.4h0M217.2 258.9h0M266.3 261.4h0M259.2 261.5h0M237.8 257.6h0M230.7 258.1h0M268.1 255.1h0M253.8 259.4h0M234.5 247.8h0M245 262.4h0M262.9 262.1h0M239.2 262.1h0M259.1 262.3h0M253.2 259.8h0M264.7 253.7h0M215.4 256.6h0M221.7 257.7h0M260.9 258.2h0M232.8 243.4h0M217.8 248.9h0M228.5 255.4h0M249.8 253.1h0M260.4 258.6h0M269.2 262.1h0M261.9 262.2h0M244 258.8h0M257.7 261.8h0M244.9 262.4h0M247.5 261.8h0M239.2 255.1h0M247.7 255.9h0M265.4 249.5h0M226.8 258.2h0M215.9 261.3h0M227.8 250.5h0M250.3 258.4h0M233.1 252.6h0M257.7 262.5h0M215.1 260.5h0M226.6 257.7h0M228 252.3h0M217.4 261.8h0M234.6 251.6h0M223.7 253.5h0M268.5 259.4h0M265.5 261.6h0M226.5 246.3h0M229.4 254.7h0M238.6 252.1h0M230 251.2h0M258.5 259.3h0M225.6 259.3h0M232.1 261.3h0M238.2 259.1h0M266.9 259.2h0M219.6 261.5h0M245.1 261.4h0M256.4 256.6h0M248.3 256.3h0M220.2 258.1h0M230.8 255h0M262.6 252.9h0M262.6 262.1h0M256.1 259.3h0M216.1 260.3h0M240.5 261.5h0M227.4 261.8h0M263.7 253.1h0M252.5 258.1h0M239.8 257.7h0M231.9 261.3h0M256.3 262.3h0M259.4 257.2h0M242.5 259.9h0M269.9 260.1h0M232.2 261.4h0M257.9 246.8h0M259.5 253.8h0M256.9 251.5h0M267.8 259.7h0M217.7 261.5h0M224.3 259.5h0M214.8 260.9h0M224.6 262.4h0M231.1 259.2h0M252 253.2h0M248.5 260.7h0M235.9 262.3h0M223.1 261.7h0M224.4 257.4h0M233.7 248.2h0M266.4 261.4h0M227.8 249.3h0M240.4 260.7h0M269.3 259.5h0M245.9 260.3h0M252.3 254.9h0M228 259.4h0M239.4 262.1h0M217.2 259.7h0M216.2 252.2h0M240.2 259.7h0M237.2 262h0M227.2 262h0M251.8 251.6h0M259.3 260.8h0M222.1 260.8h0M225.3 259.7h0M267.1 262h0M228.5 261.8h0M242.8 260.4h0M241.4 258.3h0M220.4 249.6h0M248.9 247.9h0M247.5 259.9h0M256.2 262.4h0M216.7 259.1h0M259.9 246.8h0M266.4 261.1h0M238.4 259.5h0M235.2 261.2h0M257 262.2h0M230.8 255.5h0M266.5 256.9h0M262.1 257.3h0M265.7 261.5h0M243.8 261h0M254.9 257.8h0M250 256.8h0M258.2 257.4h0M218.5 256h0M238.3 261.3h0M220.6 260.4h0M248.2 254.2h0M219.5 260.8h0M240.7 249.1h0M238.7 258.5h0M233.7 260.9h0M268.5 260.4h0M237.3 260h0M265.9 260.8h0M264.3 260.3h0M221.4 261.3h0M235.3 260.9h0M240.2 258.8h0M265 258.2h0M243.3 252.3h0M255.7 257h0M240.6 258.8h0M246.2 262h0M224.3 256.5h0M264.6 257.8h0M227.3 257.8h0M239.4 257.7h0M259.8 257.8h0M248.7 262.2h0M219.1 255.1h0M243.6 260.9h0M245 261.6h0M222.5 261.8h0M224 261.4h0M214.2 262.4h0M266.4 262.4h0M250.9 261.7h0M224.2 261.7h0M225.2 261.5h0M241.7 262h0M265.9 262.4h0M265.2 261.6h0M244.6 261.7h0M239.1 261.4h0M258.7 261.7h0M231.4 262.1h0M263.4 261.4h0M267.6 261.3h0M254.8 261.5h0M244.8 262.4h0M228.6 261.5h0M233.4 261.2h0M221.6 261.1h0M237.2 262.4h0M269.4 261.9h0M246.5 261.4h0M257 262.3h0M270.6 262.5h0M217.2 261.9h0M260.5 262h0M253.7 261.1h0M236.2 261.4h0M230 262.3h0M249.2 261.7h0M228 261.8h0M245 262.3h0M232.6 261.5h0M226.9 262.4h0M220.5 261.4h0M228.5 261.7h0M215.3 261.6h0M236 261.9h0M239.6 261.8h0M256 261.3h0M218 262.3h0M220.9 262.1h0M219.4 262h0M252.4 261.1h0M250.7 261.6h0M229 261.5h0M215.1 261.5h0M257.9 261.2h0M240.3 261.9h0M215.7 262.1h0M241.7 261.9h0M224.2 262.2h0M230.3 261.1h0" stroke="#f9a516" stroke-width="3.2" stroke-linecap="round" fill="none"/>
<path d="M236.6,251 250.6,260.3 217.7,261.3 264.2,254.1 243.2,260.2 225.6,262 215.2,260.9 238.4,254.4 226.6,256.5 264.3,256.9 233.7,261.8 254.9,259.6 225.9,260.4 222.9,259.5 256.1,259.4 260.8,256.1 235.2,255.4 230,261.8 249.8,261.8 240.8,260.1 267.5,260.6 240.7,259.8 264.7,262 255.7,261.3 219.9,258 222.2,249.8 214.5,260.8 238.1,258.3 236.6,262.4 232,260.9 246.2,261.8 240.8,260.1 257.7,253.6 260.6,259.9 235.5,262.4 241.8,260.8 215.3,262.1 225.4,261.6 234.4,260.5 261.3,258 243.8,252.1 218.6,261.8 224.3,262.4 252.1,249.8 250.4,261.1 214.4,260.5 232.7,262.3 256.6,255.3 249,253.5 240.5,261.8 218.7,262.2 226.2,260.7 229.4,248.4 232.4,262 216.6,257.2 262.8,261.1 248.3,256.7 256.1,260.2 237.1,262.3 256.9,250.7 236.9,249 234.5,254.8 248.6,258.9 266.3,258.1 267.5,257.6 235,259.1 249.2,262.1 238.7,256.4 245.3,259.3 266.8,261.6 237.7,260.4 261.4,254.6 230.5,260.5 254.1,256.3 259.2,261.2 221.9,260.6 236.8,259.4 250.3,247.3 260.2,260.3 240.6,259.6 235.9,254.8 244.1,252 265,260.9 226.2,261.5 227.9,255 221.7,260 268.9,251.4 248.7,257.8 247.4,248.4 261.8,261.3 265.5,253.4 261.8,261.7 241.3,258.5 233.1,260.4 227,257.6 264.3,255.8 224.8,254.9 253.3,260.6 218.7,256.6 250.7,262.3 255.7,261.1 226.1,261.7 249.7,262.3 251.5,259.1 258.3,261.2 253.3,251.5 268.9,258.1 228.3,251.9 246.3,261.1 234.3,262.4 265.7,261.8 263.1,261.7 261,261 246.9,261.9 249.4,262.2 257.6,261.6 218.3,261.9 245.2,261.9" stroke="none" fill="none" marker-start="url(#r5)" marker-mid="url(#r5)" marker-end="url(#r5)"/>
<path d="M355.4 260.9h0M322.1 262.4h0M297.8 259.7h0M335.1 255.5h0M305.2 257h0M341.3 255.8h0M297.9 254.7h0M301.8 261.3h0M299.6 258.8h0M312.8 260.3h0M292.8 259.3h0M349.8 260.1h0M353.4 262.5h0M321 258.6h0M339.6 253h0M325.8 261.4h0M288 259h0M298.1 254.3h0M337.5 259h0M279.1 254.6h0M337.9 261.7h0M277.9 260.5h0M310.5 248.3h0M287.7 259h0M330.1 259.3h0M298.9 261.8h0M317.5 256.6h0M355 260.5h0M302.7 257h0M329.8 257.5h0M276.8 258.8h0M282.3 260.5h0M306.7 259.9h0M316.3 261.1h0M288.4 258h0M327.4 262.1h0M286.7 261.4h0M323.6 262.5h0M274.2 251.5h0M341.1 258.2h0M315.1 259.7h0M280.1 261.4h0M345 260.5h0M281.5 260.2h0M277.9 261.7h0M328.8 259.9h0M295.7 256.9h0M339 258.9h0M293 259.1h0M319.7 256.2h0M318.8 258.3h0M310 258h0M314.5 258.9h0M336.3 257.6h0M341.1 257.6h0M340.5 259.3h0M320.5 255.7h0M311 260.3h0M277.8 262.2h0M334 259.6h0M300.1 254h0M331.9 261.7h0M322.4 257.3h0M304.5 262h0M308.7 260h0M291.9 261.6h0M306.7 253.6h0M289.2 257.8h0M351.9 260.5h0M318.3 254.9h0M293 260.4h0M295.5 261.7h0M338.7 261.4h0M288.2 250.1h0M282.8 255.4h0M321.7 258.2h0M325.4 255.3h0M323.7 261.6h0M289.1 252h0M282.5 258.8h0M295.7 262.5h0M333.1 252.9h0M318.3 260.1h0M284.5 254.5h0M286.5 259.9h0M288.8 252.5h0M341.2 256.5h0M303.1 257.2h0M343.6 256.6h0M327 254.6h0M295.1 259.3h0M325.9 261.2h0M340.2 257.6h0M277.6 256.4h0M328.7 262.2h0M276.3 260.5h0M324.4 258.2h0M346.4 257.5h0M300.4 261.7h0M316.3 260.3h0M349.8 260.6h0M278.3 257.3h0M289.6 255.5h0M324.6 261.7h0M332.2 260.1h0M339.5 257.2h0M301.6 262h0M354.9 249.3h0M327.2 258.4h0M287.3 253.6h0M328.2 257.1h0M309.6 255.6h0M281.2 260h0M316.4 259.7h0M328.9 255h0M289.3 250.8h0M345.2 260.8h0M319.6 260.4h0M300.6 260h0M311.5 261.9h0M282.7 258.7h0M280 260h0M280.4 260.6h0M287.3 258.9h0M327.5 254.4h0M337.1 250.7h0M312.3 261.4h0M289.3 262.2h0M274.4 259.8h0M329 261.4h0M298.5 262.1h0M287.3 261.5h0M319.8 249.8h0M337 250.5h0M335.9 261.3h0M278 261.4h0M330.5 258.2h0M309.9 256.6h0M285.5 260.6h0M336.5 258.6h0M354.9 259h0M315.2 261h0M304.2 261.9h0M355.3 260.7h0M337.4 246.5h0M336.8 262.2h0M312.5 255h0M309.5 259.7h0M280 259.4h0M285.2 250.9h0M340.1 248.2h0M339.7 262h0M329.5 259.9h0M335.5 261h0M352.6 248.9h0M342.8 260.4h0M337.1 261.2h0M287.8 257.9h0M325.8 261.3h0M334.4 261.8h0M312.2 254.9h0M344.7 251.5h0M297.6 261.1h0M292.3 261.9h0M285.1 253.2h0M323.1 258.4h0M317 262.1h0M301.5 259.3h0M354.8 259.3h0M291.8 260.9h0M348.9 261.1h0M325.4 253.4h0M320 262.5h0M298.1 259.6h0M282.6 260.6h0M352.9 261.8h0M329.2 256.5h0M314.1 250.5h0M274.1 258.3h0M333.2 258.7h0M275.7 251.8h0M311 262.3h0M339.8 260.3h0M337.3 262.3h0M288.6 258.5h0M322.8 259.5h0M294.5 254.6h0M292.5 260.7h0M302.3 256.3h0M274.1 251h0M318.9 256h0M297.8 252.7h0M355.7 259h0M321.4 259.2h0M331 258.8h0M312.7 260.6h0M330 262h0M340.7 261.4h0M356.3 261.4h0M355.8 256h0M277.5 262.3h0M346.4 253.5h0M296.4 254.7h0M331.6 262h0M302.3 259.7h0M308.3 257h0M351.4 262.4h0M355.2 254.4h0M288.5 262.1h0M306.5 261.1h0M350.1 253.4h0M307.6 254.4h0M331.3 260.4h0M330.1 259h0M273.8 261h0M275.5 246.9h0M304.1 257.5h0M311.9 257h0M282.4 257.1h0M346.6 261.4h0M309.3 257.1h0M278 262.1h0M352.5 255.7h0M280.2 260.9h0M286.9 258.9h0M289.8 251.5h0M323.1 258.5h0M356.4 257.9h0M320.8 260.3h0M318.2 260.9h0M281.1 259.6h0M306.3 254.9h0M280.3 250.8h0M278.2 261.7h0M306.1 261.5h0M335.1 260.3h0M273.9 255.1h0M297.2 256.7h0M350.2 261.5h0M329.5 262.3h0M314.8 259.5h0M292.1 257.7h0M277.6 249.6h0M277 259.4h0M291.1 262.4h0M355.5 260.2h0M301.1 261.8h0M330.8 257.9h0M350 256.9h0M325.2 260.1h0M336 261.4h0M331.7 254.7h0M301.2 253.4h0M306.8 252.8h0M310.5 262.3h0M339.6 257.1h0M275.9 261.7h0M317.7 259.2h0M322.7 254.7h0M332 256.8h0M293.6 258h0M336.1 255.6h0M303.4 261.8h0M293.2 262.2h0M287.7 262.2h0M276.8 247.8h0M322.2 259.5h0M322.7 262h0M345 259.4h0M336.2 257.4h0M335.1 260.9h0M298 259.5h0M348.7 260.8h0M326.8 260.3h0M332.1 241.3h0M347.9 245.8h0M315.3 261.4h0M294.4 260.2h0M287.7 262h0M309.8 256.8h0M334.9 259.7h0M345.1 259.4h0M293.6 261.3h0M355.6 257.6h0M325.2 256.4h0M285.4 253.4h0M350.2 262.2h0M338.4 261.6h0M332.4 259.8h0M295.2 261.7h0M312.1 258.3h0M324.2 261h0M329.8 250.9h0M321.2 261h0M289.5 253.9h0M285.1 262.4h0M302.5 257h0M309 251.1h0M295.1 260.7h0M298.7 261.8h0M323.4 257.8h0M312.1 256h0M280.5 262.5h0M274.5 255.7h0M349.2 261.5h0M317.6 256.6h0M345.2 260.8h0M325.6 251.2h0M299.9 254.3h0M307.6 251.6h0M282.3 250.5h0M346.6 255h0M315.3 262.5h0M284.5 256.3h0M282.9 260.4h0M317 258.5h0M273.8 262.4h0M355.3 258.2h0M348.5 260h0M340.8 258.1h0M351.5 254.7h0M352.2 259.5h0M285.7 257.5h0M351.5 250.1h0M286.3 259.7h0M347.4 256.1h0M344.9 261.7h0M275.6 261.2h0M279.6 261h0M337 260.4h0M300.2 259.2h0M323.3 261.1h0M304.9 262h0M334.4 257.1h0M327.8 259.7h0M317.5 259.7h0M279.7 257h0M308.9 259.4h0M305.9 258h0M351.4 261.4h0M301.9 256.9h0M281.8 258.6h0M328.4 262h0M286.3 254.9h0M300.3 261.6h0M291.1 258.4h0M276.9 257.4h0M325.9 258.5h0M330.2 249.9h0M319.9 261.2h0M323.4 261.7h0M339.9 253.7h0M287.4 260.5h0M344.7 257.8h0M348.4 255.6h0M322.2 258h0M295.8 258.2h0M320.7 255.9h0M313.5 256.4h0M336.4 253.9h0M278 253h0M277.8 259.5h0M275.2 259.4h0M334.3 259.5h0M299.2 258.4h0M352.1 261.3h0M279 250.6h0M337.1 261.8h0M286.5 257h0M301 254.4h0M303.7 258.2h0M336.5 259.6h0M342.7 261.2h0M355.4 257.6h0M356.6 258.1h0M304.6 252.5h0M299.4 256.7h0M340.4 261.1h0M312.2 256.8h0M353.5 260.6h0M348.2 260.6h0M329.7 257h0M311.9 262.1h0M286.8 260.9h0M351.9 261.6h0M274.3 257.8h0M348.8 260.3h0M300.3 259.7h0M307 253.5h0M341.1 261.3h0M310.6 256.9h0M273.3 261.5h0M282 262.3h0M289.2 257.9h0M340.3 252.5h0M321.2 261.1h0M285.4 262.4h0M321.7 254.3h0M279.9 256.8h0M348.2 261.6h0M354.7 262.4h0M343.9 258.7h0M288.4 262h0M316.6 262.4h0M351.7 256.5h0M289.8 259.5h0M323.7 256.7h0M304.3 259.6h0M278.2 260.7h0M293.8 261.9h0M292.6 260.9h0M347.1 261h0M286 259.2h0M313.1 260.1h0M274.2 257.9h0M277.5 259.9h0M285.3 257.6h0M318.5 256.9h0M337.2 260.4h0M352.7 262.1h0M320.8 261.5h0M273.4 255.6h0M293 260.8h0M348.5 259.1h0M317.8 250.2h0M306.6 262h0M286.2 261.8h0M308.9 261.9h0M316.6 261.1h0M307.1 261.4h0M332.4 262.2h0M302.4 261.5h0M321.6 262h0M291 261.6h0M319.7 261.6h0M297.2 261.7h0M346.2 262h0M287.1 262.2h0M330.8 261.8h0M330.4 262.2h0M343.8 261.4h0M348.3 261.9h0M342.7 262.5h0M310.8 261.1h0M321.6 262.2h0M322.4 261.7h0M296.6 261.7h0M347.6 262.3h0M322.9 261.1h0M287.2 262.2h0M298.7 262.5h0M323.6 262.3h0M346.3 262.1h0M326.5 262.2h0M317 261.9h0M320.3 262.1h0M316.1 261.3h0M284.1 261.7h0M276.1 261.2h0M324.4 261h0M347.4 261.6h0M356.8 262.2h0M290.7 261.7h0M307 261.4h0M314.8 262.3h0M344.9 261.6h0M302.1 262.2h0M286.8 262.1h0M291 262.2h0M290.7 262.5h0M353 261.5h0M343.3 261.6h0M335.9 261.3h0M278.1 261.9h0M339.8 261.9h0M289.5 261.6h0M275.7 262.4h0M306.9 261.7h0M339 261.3h0M335.5 261.2h0M284.8 261.4h0M338.8 261.6h0M305.4 262.5h0M353.7 262.5h0M351.4 262.1h0" stroke="#9252b6" stroke-width="3.2" stroke-linecap="round" fill="none"/>
<path d="M343.1,262.1 345.2,258 328,258.2 324.9,260.8 336.5,259.9 316.5,260.3 273.4,262.5 344.5,253.1 289.2,260.5 301.6,258.4 308.5,256.8 284.9,261.3 321,261.5 341.1,259.3 338.2,259 313.1,261.5 310.6,257.5 323.8,253.3 276.4,249.6 351.6,256.9 325.1,259.6 274.4,260.9 283.5,258.1 281,260 345.2,257.2 287.3,261.6 341.1,257.8 325.6,258.9 354.4,261.3 312.8,256.9 320.7,262.4 312.3,261.3 321.9,252.6 277.1,258.2 299.7,258.8 297.7,259.6 283.1,261.9 282,253.9 317.6,257.6 294.3,256.5 308.9,262.5 317.2,262.2 296.2,257.5 290,258.4 293.3,250.1 301.7,257.1 353.1,254.8 332.7,262 278.5,258.8 299.8,260.4 316.4,260.7 281.6,257.9 350.9,259.9 302.7,262.2 314.7,257.4 278.3,256.9 324.5,248.9 321.8,257.1 329.5,254 283.1,258.9 341.3,257.4 320.9,254 323.6,258.5 335.6,258.1 289.1,255 279,261.5 288.1,261.6 303,254.8 353.6,261.6 302.9,258.6 307.2,251.1 276.5,256.2 289.2,258.3 311.1,254 350.8,254.4 282.4,259.4 295.7,255.1 328.5,259.6 319.1,254 301.1,257.2 287,260.9 290.6,252.7 324.4,262 355.3,260.6 299.5,252.4 300.1,262.1 276.9,254.8 344.5,261.6 303.2,261.6 349.6,262.3 289.3,258.9 275.1,259.5 287.1,262.2 313,262.2 273.3,258.3 303.6,249.8 315.2,262.3 278.2,259.2 281.5,252.5 309.5,259.1 325.5,262.5 349.9,260 276.5,247.5 333.6,257.7 337.2,258.8 314.4,251.7 282.3,261.8 334.8,258.7 308.2,253.3 355.3,261.2 287.3,257.6 297.4,256.3 282,249.7 292.9,258.3 301,256.3 315.9,261.9 355.6,261.5 299.8,255.9 330.2,259.6 304.7,260.8 314,257.4 352.9,261.7 295.4,259.1 354.8,262.3 312.8,249.4 332.6,261.1 329.2,259.2 339.4,258.4 287.8,261.8 307,258.6 350.7,256.4 341.5,257 275.3,261 324.7,260 280,261.7 319.7,251.6 355.1,262.1 334.4,258.4 321.7,251.3 277.7,261.1 314.2,261.1 346.8,261.2 289.5,261.6 314.7,262.1 279,262 276.1,261.4 304,262.3 279.8,262.2 276.4,261.2 338.3,261.2 323.7,261.5 325.5,261.5 340.1,261.3 298.6,261.8 298.4,261.9 318.6,262.1 285.6,261.5 341.6,261.5 354.8,261.2 316.5,261.7 314.4,261.1 288.4,262.4 334.9,262" stroke="none" fill="none" marker-start="url(#r6)" marker-mid="url(#r6)" marker-end="url(#r6)"/>
<path d="M359.6 261h0M361.8 253.2h0M363.1 259.8h0M360.2 261.8h0M363.1 253h0M363.5 253.2h0M362.9 257.3h0M363.2 257.7h0M360.1 252.1h0M363.7 260.2h0M360.1 258.7h0M360.1 259.8h0M363 260.3h0M360.7 259.3h0M362.3 261.4h0M360.3 255.6h0M362 255.7h0M361.5 254.3h0M363.7 261.5h0M363 262.3h0M362.4 259.1h0M359.7 254.1h0M363 259.2h0M359.5 262.2h0M360.2 262.2h0M362.8 262.2h0M362.4 262h0" stroke="#c9e58d" stroke-width="3.2" stroke-linecap="round" fill="none"/>
<path d="M363,257.6 361.1,256.5 362.3,259.6 363.4,253.8 359.5,257.7" stroke="none" fill="none" marker-start="url(#r7)" marker-mid="url(#r7)" marker-end="url(#r7)"/>
<path d="M368 257h0M378.5 260.5h0M375.8 253.7h0M370.7 254.7h0M371.9 254.3h0M378.5 262.2h0M370 261.8h0M366.6 255.8h0M372.1 258.3h0M371.6 259.2h0M367.3 254.6h0M371.2 261.7h0M375.9 259.6h0M372.3 251.2h0M375.5 262.4h0M375.3 252.3h0M368.8 256.7h0M373.1 252.8h0M375.2 261.7h0M378.3 258.1h0M373.2 261.1h0M369.1 260.2h0M375.6 261.5h0M371.2 255.6h0M375.2 262.2h0M370.8 262.2h0M375.3 258.4h0M373.1 258.6h0M369.4 262h0M376.1 260h0M366.9 257.3h0M371.3 260h0M372.3 256.5h0M366.4 259.1h0M370.8 258.9h0M374.5 253.3h0M375.1 262h0M367.3 261.6h0M369.6 258.5h0M366.4 256h0M367.7 257h0M376.8 252h0M375.3 261.1h0M376.8 260.1h0M377.9 260.6h0M375.9 259.5h0M375.6 261.2h0M373.2 262.1h0M371.1 259.4h0M373.8 261.3h0M369.9 257.9h0M370.4 261.2h0M373.5 262.4h0M375.9 261.1h0M378.4 262.5h0M376.1 261.1h0M377.8 261.7h0M373.7 262.1h0" stroke="#e8418f" stroke-width="3.2" stroke-linecap="round" fill="none"/>
<path d="M376.3,260.4 376.2,253.6 378.1,258.1 368.5,253.5 378.3,251.9 368.8,259 376.6,261.4 370.5,254 378.7,250.5 368.9,259.3 369.8,262.5 371.6,254.3 374,262.3 375.6,259.4 367.3,254 373,256.2 378.7,248.1 370.8,257.8 366.2,261.5 367.8,258.9 374.4,261.2 367.5,261.6 376.5,262.5" stroke="none" fill="none" marker-start="url(#r9)" marker-mid="url(#r9)" marker-end="url(#r9)"/>
<path d="M388.8 254.4h0M382.3 260.3h0M391.1 257h0M384.3 250.3h0M397.6 254.2h0M394 254.5h0M398.7 250.3h0M388.2 261.6h0M382.1 251.7h0M396.4 261.3h0M393.7 262.1h0M387.8 257.2h0M396 259.5h0M387.1 256.9h0M386.4 251h0M387.7 255.9h0M391.7 248.3h0M397.4 258.7h0M393.3 256.4h0M400.9 257.7h0M387.9 251.4h0M385.9 249.4h0M388.7 256.3h0M384.8 250h0M390.9 259.1h0M390 257.1h0M391 250h0M384.2 262.4h0M398.4 259.8h0M400.1 258.1h0M391.5 257.4h0M388.4 257.5h0M385 255.3h0M400.7 258.6h0M388.5 256.5h0M383.6 255.5h0M381.5 260.6h0M382.9 256.3h0M385.6 248.6h0M390.9 257.1h0M386.1 259.3h0M394.7 259.8h0M385.6 259h0M388.9 257h0M393.9 260.2h0M385.1 256h0M391.9 252.9h0M385.3 251.1h0M399.6 260.4h0M386.3 253.5h0M400.4 255.8h0M399 256.3h0M395.2 253.6h0M400.7 260.9h0M392.4 256.3h0M384.2 251.1h0M389.6 258.3h0M385.3 256.1h0M389.2 262.1h0M401.6 261.8h0M394.3 262.5h0M396.9 259.8h0M402.1 253.4h0M382.7 256.7h0M383.8 255h0M394.5 257.3h0M394 260.9h0M390.6 247.3h0M385.3 250.2h0M390.4 261.8h0M384.5 251.4h0M390.4 252.1h0M401.7 254h0M397.2 260.1h0M383 252.1h0M400 250.7h0M399.3 258.6h0M396 255.4h0M397.9 253.8h0M382 259.6h0M394.3 256.6h0M384.3 262h0M390.4 262.2h0M397 260.4h0M401.7 255.1h0M400.8 259h0M383.5 252.6h0M389.7 256h0M396.4 259.8h0M394.6 255.1h0M395.6 248h0M390.8 260.8h0M382.3 261.2h0M382.2 261.8h0M390.7 262.1h0M399 261.2h0M397.6 261.4h0M384.9 262.2h0M400.6 262h0M397.9 262.3h0M388.5 261.4h0" stroke="#e6bcdf" stroke-width="3.2" stroke-linecap="round" fill="none"/>
<path d="M384.8,249.4 387.7,255.5 386.1,261.2 389.1,257.2 385.1,254.2 386.7,255.5 397.3,255.9 381.9,255.5 387.9,260.8 383.8,256 394.5,256 389.4,258.3 384.1,254.9 383.7,255.5 381.6,261.4 399.2,258.3 387.2,259.6 393,256.3 391.4,256.2 384.5,249.5 384.7,260.3 388,262 402.2,252 399.9,251.4 386.2,253.5 391.2,259.8 381.2,261.5 394.2,260.9 394.7,258.6 394.6,256.4 402.2,258.9 402,258.3 385.2,258.4 387.2,260.7 384.2,261.7 391.6,258 385.5,260.9 400.4,254.8 386.8,262 385.7,255.1 381.7,254.9 384.5,255 399.3,260.3 381.9,260.3 399.4,255.5 382.2,252.7 401.6,252.3 401.3,262.2 402,262.2 386.5,261 382.2,262.3 395.2,261.1 381.5,262.2 393.1,261.6 397.3,261.9 396.5,261.9 385.8,261.5 396.8,261.2" stroke="none" fill="none" marker-start="url(#r10)" marker-mid="url(#r10)" marker-end="url(#r10)"/>
<path d="M407.6 257.4h0M407.8 258.2h0M409.5 242.3h0M411.1 258.2h0M407.7 254.6h0M407.9 255.5h0M416.9 254.4h0M415.5 250.8h0M417.4 250.5h0M421.1 256.6h0M406.6 260.6h0M420.7 260.9h0M412.2 255h0M419.9 254.9h0M414.3 244.1h0M418.3 258.7h0M411.7 258.1h0M418.8 255.1h0M413 260.4h0M411.5 250.6h0M414.1 262.2h0M406.1 254.1h0M405 256.8h0M422.6 256.8h0M416 259h0M407.1 249.5h0M418.7 257.7h0M420.4 260.1h0M419.2 262.4h0M422.6 261.5h0M422.7 258.2h0M412.3 253.2h0M405.4 254.4h0M406.8 257.9h0M417.5 259.9h0M411.2 256.8h0M406.2 254.7h0M410 261.8h0M406.6 252.8h0M414.3 249.9h0M418.7 261.1h0M419 252.4h0M414.1 261.5h0M408.9 244.3h0M409.4 244.3h0M409.4 262h0M413.1 258.1h0M421.2 254.3h0M412.1 259.4h0M414.9 255.4h0M405.6 259.7h0M408 259.2h0M411.6 260.2h0M411.2 251.9h0M409.8 246.1h0M412.7 252.8h0M408.4 257.8h0M414.8 261.3h0M405.3 254.2h0M417.9 254.7h0M422.3 255h0M418.4 260.5h0M420.3 252.7h0M409.7 262.1h0M409 246.5h0M417 259.2h0M422.7 255.9h0M406.4 255.4h0M417.1 253.3h0M421.6 253.7h0M419.3 255.4h0M413.3 252.6h0M415.4 252.5h0M406.9 261.3h0M415.9 261.1h0M420.1 255.3h0M411.4 255h0M416.8 253.2h0M413.5 257.3h0M405.6 253.9h0M414.2 257.4h0M405.5 262h0M418.5 254.1h0M415.4 257.8h0M411 256.7h0M419.3 261.6h0M405.2 261.5h0M412.1 246h0M422.7 259h0M404.9 251.6h0M408.4 252.1h0M410.5 259.6h0M416.7 247.2h0M406 255.6h0M407.6 257.1h0M408.7 262.4h0M405.9 257.3h0M406.8 256.2h0M421 261.2h0M420.3 260.5h0M422.1 257.5h0M409.8 251.8h0M414.6 256.3h0M414.8 260.1h0M411.3 261.3h0M415.4 262.2h0M419.3 262.2h0M420.1 262.2h0M418.4 262.3h0M413 261.3h0M413 262.2h0M406.3 262h0M410.6 261.8h0M413 261.2h0M408.6 262.4h0M421.1 261.2h0M418.4 261.9h0M421.4 262.2h0M416.3 262h0" stroke="#213fa0" stroke-width="3.2" stroke-linecap="round" fill="none"/>
<path d="M409.1,253.3 416.8,259.3 411.4,262.5 406.2,255 406.6,257 419.6,254.2 410.7,259.7 410,244 407.9,242.4 409.5,258.4 420.5,258 421.9,258.3 408.6,258 407.7,243.3 413.4,256.7 408.3,248.9 416.8,261.3 418.1,258.5 409.8,250.2 411.4,249 418.6,260.8 415.5,257.8 405,257.6 422.2,260.1 418.7,256 420.2,259.9 412,243.7 414.8,258.1 405.8,258.5 419.4,262 409.1,255.4 421.2,256.6 422.1,255 410.3,261.3 405.9,262.1 422.2,261.8 407.3,261.2 409.7,262" stroke="none" fill="none" marker-start="url(#r11)" marker-mid="url(#r11)" marker-end="url(#r11)"/>
<path d="M426.1 259.3h0M433.6 262.1h0M433.2 262.1h0M429.1 256.1h0M430.7 255.5h0M432.1 256.8h0M432.1 259.5h0M426.4 259.5h0M428.5 257.1h0M430.3 256.6h0M425.7 259.7h0M430.3 256.7h0M430.3 262.1h0M429.2 255h0M430.4 253.3h0M431.6 261.2h0M433.3 256.2h0M430.9 255.3h0M428.4 258.9h0M428.8 261.7h0M431.2 262.4h0M429.9 258.9h0M428.7 262.1h0M428.8 262.1h0M429.5 253.2h0M430.1 261.8h0M433.3 261.9h0M432.9 260.7h0M430.9 253.8h0M426.2 259.2h0M430.6 260.1h0M426.3 260.4h0M433 262.4h0M425.6 253.9h0M429.7 262.4h0M431.4 261.8h0M433.3 261.5h0M426.6 261.3h0M427.7 262.2h0" stroke="#8d5a2c" stroke-width="3.2" stroke-linecap="round" fill="none"/>
<path d="M431.3,257.8 428.1,258.9 433.7,255.4 429.3,253.2 430.6,256.4 432.9,260.4 432.6,261.6 428.7,252.6 431.5,256.3 431,261.1 427.4,261.6" stroke="none" fill="none" marker-start="url(#r14)" marker-mid="url(#r14)" marker-end="url(#r14)"/>
<path d="M447.7 256.9h0M452.5 262.4h0M437.4 258.3h0M447.9 258.5h0M437.8 256.9h0M439.7 262.2h0M442.4 258.2h0M448.3 254.3h0M444.3 257.5h0M443 260.3h0M438.3 261.4h0M438.3 261.6h0M448.4 257h0M448.9 261.2h0M447.7 257.9h0M441.4 261.8h0M445.8 257.3h0M459.6 247.8h0M449.5 257.9h0M460.7 251.2h0M456.3 256.4h0M458.8 244.9h0M444.9 259h0M444.3 258.3h0M444.8 261h0M459.9 256.9h0M446.9 260.3h0M457.9 250.3h0M454.5 262.1h0M452.1 260.6h0M450 261h0M446.2 261.2h0M457.3 247h0M445.4 261.5h0M440.9 261h0M459 255.1h0M451.6 259h0M454.9 261.5h0M441.5 260h0M450.5 261.5h0M452.3 256.2h0M460.4 259.1h0M444.5 261.5h0M436.4 256.5h0M437.6 257.5h0M443.2 261h0M449.2 260.4h0M441.4 256.4h0M443.9 261.3h0M450.1 262.1h0M455.8 255.4h0M455.7 249.5h0M446.8 256.8h0M450 259.2h0M456.9 257.3h0M448.9 254.9h0M442.6 258.9h0M454.2 257.3h0M452.3 262.1h0M450.8 262.5h0M439.8 262.4h0M456.4 250.4h0M447.3 257.4h0M457.7 261.6h0M437.8 262h0M460.2 244.9h0M436.6 258h0M440.5 261.7h0M458.3 247.1h0M443.2 259.5h0M454.7 255.5h0M443.2 257.1h0M443.8 262.5h0M442.9 257.7h0M455.6 246.5h0M437.7 261.9h0M456.3 257.5h0M445 258.5h0M449.4 260h0M439.6 259.3h0M436.9 256.8h0M438.1 258.8h0M445.7 257.5h0M449 262.2h0M437.8 257.4h0M456 262.4h0M436.4 262.1h0M456 261.1h0M458.3 262h0M436.8 261.6h0M449.9 262.2h0M447 261.5h0M440.1 261.8h0M447.5 261.4h0M444.5 262.2h0M438.7 261.5h0M455.3 262h0M444.3 262.1h0M438.4 262.2h0" stroke="#d386c8" stroke-width="3.2" stroke-linecap="round" fill="none"/>
<path d="M445.3,257.4 445.1,257.9 437.4,258.9 441.1,258.6 439.8,261.2 459.8,256 459.1,260.1 445.1,259.1 440.7,262 447.7,257.6 455.1,249.1 451.3,262.1 446.8,261.2 456.8,261.5 459.6,258.6 444.8,257.9 459.7,257.6 453.2,256.3 460.6,262.1 447.9,253.8 443.8,261.1 446.7,256.5 446.3,262 443.4,261.6 455.1,256.9 440.3,258.3 446.2,259.2 446,258.7 460.6,261.8 453.9,261.2 440.3,261.8 457.3,262.2" stroke="none" fill="none" marker-start="url(#r15)" marker-mid="url(#r15)" marker-end="url(#r15)"/>
<path d="M467.4 253.4h0M464.5 260.5h0M468.5 253h0M470.9 255.2h0M472.7 262.2h0M464.4 260h0M474.1 255.2h0M474.4 259.3h0M474.1 252.2h0M465 261.9h0M470.6 257.2h0M468.6 253.7h0M464.2 258.5h0M474.1 258.8h0M466.6 259.7h0M471.7 262.4h0M468.3 258.4h0M472.6 260.3h0M466.8 261.8h0M474.3 261.2h0M463.2 260.9h0M467.1 260.1h0M472.1 250.4h0M465.4 258.4h0M471.9 255.2h0M469.6 261.7h0M464.6 251.3h0M464.9 251.9h0M471.5 258.6h0M465.9 260.9h0M472.6 252.4h0M472.5 256.4h0M473 259.6h0M466.3 261.5h0M472.8 259h0M472 249.5h0M467.9 256.4h0M470.9 261h0M469.8 260.2h0M466.7 256.3h0M467.2 262.5h0M470.3 258.1h0M472.2 260.7h0M472.6 259.1h0M464.6 262.2h0M473.2 258.8h0M468.5 259.8h0M474.4 258.5h0M471.2 249.9h0M474.3 259.8h0M470.9 262.1h0M469.1 260.9h0M465.9 251.8h0M467.6 253.8h0M465.7 251.2h0M471.6 253.3h0M469.5 250h0M465.5 254.7h0M472 262.5h0M464.2 261.3h0M469.9 262.5h0M469 262.5h0M474.7 261.9h0M468.7 261.8h0M468.4 262.2h0" stroke="#a6d645" stroke-width="3.2" stroke-linecap="round" fill="none"/>
<path d="M470.6,261.9 468.4,250.8 467.7,256.9 463.9,254.3 466.7,262.3 472.6,258.9 470.8,252.9 470.5,250.7 472.6,257.2 469.8,260.9 469.4,258.8 465.7,262.4 472.1,261.1 474.4,262.5 470.7,261.7" stroke="none" fill="none" marker-start="url(#r16)" marker-mid="url(#r16)" marker-end="url(#r16)"/>
<path d="M479.2 261.6h0M484.8 254.9h0M486.4 253.6h0M481.1 259.4h0M482.7 257.1h0M489.8 260.9h0M481.3 261.2h0M487.9 261.4h0M482.3 251.4h0M483.9 258h0M481.2 259.7h0M485.4 262.2h0M485.5 259.2h0M487.6 258.1h0M488.8 254.8h0M489.6 260.3h0M490.6 259.3h0M482.3 257.6h0M481.2 256.5h0M490 256.5h0M479.6 261.4h0M484.5 262.4h0M490.6 257.4h0M483 257.4h0M489.9 260.3h0M489.6 261.7h0M481.6 253.8h0M487.2 260.2h0M485.6 259.4h0M484 262h0M484.4 260.1h0M480.5 262h0M482 261.6h0M480.8 261.6h0M490.2 262.3h0M490 261.1h0" stroke="#d7c27a" stroke-width="3.2" stroke-linecap="round" fill="none"/>
<path d="M484.2,254.6 479.9,260.6 490.7,255.5 486.7,257.2 487.2,262.3 486.7,258 480.9,261.2 480.2,262.1 485.8,258 488.4,259.9 487.5,258.4 482.4,261.3 485.7,260.2 489.1,259 483,261.2 484.5,261.4 488.2,256.5 483.8,259.7 481.8,255.3 482.4,257.6 489.9,262.5 490,261.5" stroke="none" fill="none" marker-start="url(#r18)" marker-mid="url(#r18)" marker-end="url(#r18)"/>
<path d="M498.2 259.1h0M500.3 259.1h0M499.3 262.1h0M492.7 251h0M497 247.9h0M499.3 262h0M498.2 261.1h0M498.5 252.4h0M492.5 261h0M498.5 260h0M500.5 256.7h0M501.4 258.4h0M496.1 258.2h0M493.2 253.7h0M501.5 256.9h0M495.9 257.4h0M496.8 256.7h0M493.3 251.8h0M501.1 255.1h0M500.6 255.8h0M498.1 243.9h0M498 254.3h0M498.1 251.4h0M496.9 258.3h0M495.1 262.2h0M498.1 256.8h0M498.1 261.2h0M496.3 261.4h0M495.3 249.7h0M501.1 261.7h0M501.8 255.1h0M496.2 259.2h0M494.1 254.3h0M498.5 262.1h0M496.3 260.6h0M492.7 251.3h0M501 259.1h0M494.7 256.2h0M493.6 257.6h0M499.3 249.1h0M500.8 249.2h0M495.3 256.6h0M498.3 258.9h0M501.7 258.2h0M493.3 256h0M494.5 255.1h0M495 258.8h0M497.4 251h0M501.5 252h0M498.6 255.4h0M499.3 258h0M499.2 262h0M492.4 262.4h0M493.6 261.3h0M498.4 262.4h0" stroke="#ee3636" stroke-width="3.2" stroke-linecap="round" fill="none"/>
<path d="M501.1,253.2 497.8,261.4 501.3,259.2 495.3,249.6 499.7,251.9 494.1,253.1 495.5,254.8 495.3,251 492.7,258.7 495.9,260.1 495.3,260.4 495.7,257 500.1,258.6 495,261.4 499,253.3 493.4,262.1 492.8,262.3 493.6,261.8 501.7,262.2 494.5,261.2 495.8,262.1 496.7,262.4" stroke="none" fill="none" marker-start="url(#r22)" marker-mid="url(#r22)" marker-end="url(#r22)"/>
<path d="M66 226.2h0M55.8 223.5h0M57.2 224.4h0M57.8 224.3h0M57.3 226.9h0M60.4 226h0M64 223.9h0M63 225.5h0M64.9 224.6h0M63.9 226.2h0M64.3 225.3h0M56.2 223.4h0M62 226.1h0M60.6 226.3h0M58.2 227.3h0" stroke="#ee1c2a" stroke-width="3.2" stroke-linecap="round" fill="none"/>
<path d="M56.9,227 55.9,223.8 59.9,224.3" stroke="none" fill="none" marker-start="url(#r1)" marker-mid="url(#r1)" marker-end="url(#r1)"/>
<path d="M60.8 204.3h0" stroke="#ee1c2a" stroke-width="3.2" stroke-linecap="round" fill="none"/>
<path d="M58 226.5h0" stroke="#ee1c2a" stroke-width="3.2" stroke-linecap="round" fill="none"/>
<path d="M59.5 225h0" stroke="#ee1c2a" stroke-width="3.2" stroke-linecap="round" fill="none"/>
<path d="M61.5 225.5h0" stroke="#ee1c2a" stroke-width="3.2" stroke-linecap="round" fill="none"/>
<path d="M63.5 224.5h0" stroke="#ee1c2a" stroke-width="3.2" stroke-linecap="round" fill="none"/>
<path d="M65.5 224h0" stroke="#ee1c2a" stroke-width="3.2" stroke-linecap="round" fill="none"/>
<path d="M66.5 225.5h0" stroke="#ee1c2a" stroke-width="3.2" stroke-linecap="round" fill="none"/>
<path d="M58.5 228.5h0" stroke="#ee1c2a" stroke-width="3.2" stroke-linecap="round" fill="none"/>
<path d="M60.5,228" stroke="none" fill="none" marker-start="url(#r1)" marker-mid="url(#r1)" marker-end="url(#r1)"/>
<path d="M64 227h0" stroke="#ee1c2a" stroke-width="3.2" stroke-linecap="round" fill="none"/>
<path d="M58.5 223.8h0" stroke="#ee1c2a" stroke-width="3.2" stroke-linecap="round" fill="none"/>
<path d="M63.8 223h0" stroke="#ee1c2a" stroke-width="3.2" stroke-linecap="round" fill="none"/>
<path d="M62 227.5h0" stroke="#ee1c2a" stroke-width="3.2" stroke-linecap="round" fill="none"/>
<path d="M65.5 226.5h0" stroke="#ee1c2a" stroke-width="3.2" stroke-linecap="round" fill="none"/>
<path d="M70,234.6" stroke="none" fill="none" marker-start="url(#r1)" marker-mid="url(#r1)" marker-end="url(#r1)"/>
<path d="M70,239.2" stroke="none" fill="none" marker-start="url(#r1)" marker-mid="url(#r1)" marker-end="url(#r1)"/>
<path d="M78.5 236.9h0" stroke="#ffd60c" stroke-width="3.2" stroke-linecap="round" fill="none"/>
<path d="M78.5 239.2h0" stroke="#ffd60c" stroke-width="3.2" stroke-linecap="round" fill="none"/>
<path d="M79.2 246.2h0" stroke="#ffd60c" stroke-width="3.2" stroke-linecap="round" fill="none"/>
<path d="M353.5,239.6" stroke="none" fill="none" marker-start="url(#r6)" marker-mid="url(#r6)" marker-end="url(#r6)"/>
<path d="M379.6 245h0" stroke="#e8418f" stroke-width="3.2" stroke-linecap="round" fill="none"/>
<path d="M381.2 244.2h0" stroke="#e8418f" stroke-width="3.2" stroke-linecap="round" fill="none"/>
<path d="M373.5 248.8h0" stroke="#e8418f" stroke-width="3.2" stroke-linecap="round" fill="none"/>
<path d="M390.4,244.2" stroke="none" fill="none" marker-start="url(#r10)" marker-mid="url(#r10)" marker-end="url(#r10)"/>
<path d="M423.8 236.5h0" stroke="#213fa0" stroke-width="3.2" stroke-linecap="round" fill="none"/>
<path d="M476.2 31.8h0" stroke="#c41a66" stroke-width="3.6" stroke-linecap="round" fill="none"/>
<path d="M475.8,46.1" stroke="none" fill="none" marker-start="url(#r17)" marker-mid="url(#r17)" marker-end="url(#r17)"/>
<path d="M476.2 56.7h0" stroke="#c41a66" stroke-width="3.6" stroke-linecap="round" fill="none"/>
<path d="M478.1 103h0" stroke="#c41a66" stroke-width="3.6" stroke-linecap="round" fill="none"/>
<path d="M476.1,147.8" stroke="none" fill="none" marker-start="url(#r17)" marker-mid="url(#r17)" marker-end="url(#r17)"/>
<path d="M477.2 153.5h0" stroke="#c41a66" stroke-width="3.6" stroke-linecap="round" fill="none"/>
<path d="M475.7 156.4h0" stroke="#c41a66" stroke-width="3.6" stroke-linecap="round" fill="none"/>
<path d="M477.2 161.5h0" stroke="#c41a66" stroke-width="3.6" stroke-linecap="round" fill="none"/>
<path d="M477.8,163.8" stroke="none" fill="none" marker-start="url(#r17)" marker-mid="url(#r17)" marker-end="url(#r17)"/>
<path d="M477.6 182.6h0" stroke="#c41a66" stroke-width="3.6" stroke-linecap="round" fill="none"/>
<path d="M477.8 185.4h0" stroke="#c41a66" stroke-width="3.6" stroke-linecap="round" fill="none"/>
<path d="M476,200.9" stroke="none" fill="none" marker-start="url(#r17)" marker-mid="url(#r17)" marker-end="url(#r17)"/>
<path d="M475.5 211h0" stroke="#c41a66" stroke-width="3.6" stroke-linecap="round" fill="none"/>
<path d="M476.9,226" stroke="none" fill="none" marker-start="url(#r17)" marker-mid="url(#r17)" marker-end="url(#r17)"/>
<path d="M476 238.4h0" stroke="#c41a66" stroke-width="3.6" stroke-linecap="round" fill="none"/>
<path d="M476 240.5h0" stroke="#c41a66" stroke-width="3.6" stroke-linecap="round" fill="none"/>
<path d="M477.3 250.1h0" stroke="#c41a66" stroke-width="3.6" stroke-linecap="round" fill="none"/>
<path d="M476.4 262h0" stroke="#c41a66" stroke-width="3.6" stroke-linecap="round" fill="none"/>
<path d="M476.4 258.5h0" stroke="#c41a66" stroke-width="3.6" stroke-linecap="round" fill="none"/>
<path d="M491.5 261h0" stroke="#727272" stroke-width="3.2" stroke-linecap="round" fill="none"/>
<path d="M500.5 254h0" stroke="#000000" stroke-width="3.2" stroke-linecap="round" fill="none"/>
<path d="M501 257.5h0" stroke="#000000" stroke-width="3.2" stroke-linecap="round" fill="none"/>
<path d="M501 261.5h0" stroke="#000000" stroke-width="3.2" stroke-linecap="round" fill="none"/>
<path d="M57.1 536.6h0M69.2 546.2h0M64.3 546.8h0M75.9 543.6h0M63.2 541.7h0M62.1 549.6h0M73.8 540.9h0M74.1 542h0M62.7 540.9h0M58.7 539h0M64.9 544.5h0M74.5 545.9h0M62.7 542.1h0M64.9 544h0M74.1 548.1h0M61.8 541.1h0M65.8 543.8h0M65.9 535.2h0M57 537.1h0M74.1 548.9h0M75.1 550.5h0M55.8 547.4h0M58.6 548.4h0M63.3 550.3h0M71.2 537.5h0M71 533.7h0M65.1 548.2h0M73.4 549.3h0M75.2 548.7h0M64 550.5h0M58.7 549.5h0M65.9 534.1h0M60.6 543.6h0M68.6 547.7h0M66.1 535.3h0M61.7 542.3h0M65.4 548.3h0M74.7 550.1h0M72.9 542h0M69.7 550.4h0M71.4 538.2h0M62.8 546.7h0M60.9 545h0M75.1 543.6h0M69.4 532.1h0M56.8 549.6h0M61.5 548.6h0M69.4 543.9h0M57.7 542.7h0M71 549.4h0M70.1 547h0M75.9 545h0M70 531.4h0M70.8 539.2h0M73 548.1h0M63.7 544.2h0M68.5 550.5h0M70.1 533.2h0M72.2 550.5h0M70.4 540.5h0M73.6 549.7h0M71.2 547.9h0M67.5 548.2h0M60.6 544.1h0M55.5 544.1h0M69 537h0M70.9 548.3h0M71.6 544.8h0M58.7 545.6h0M61.5 550.6h0M75.3 547.9h0M63.3 546.7h0M61.8 544.7h0M72.4 550.3h0M72.7 550.6h0M63.5 549.9h0M62 550.6h0M71.8 550.4h0M68.4 550.1h0M62.5 549.4h0M65.8 549.7h0M70.7 549.6h0" stroke="#ee1c2a" stroke-width="3.5" stroke-linecap="round" fill="none"/>
<path d="M75.1,542 67.9,541.5 64.6,548 56,544.2 66.9,547.6 76,546 70.3,543 62.1,544.5 67.5,546.4 56.6,540.8 60.1,537.8 66.2,536.8 59.7,537.3 70.2,550.3 58.9,540.8 58.5,550.3 68.1,537.9 62.3,550.5 61.9,549.9 63.5,545.9 58.3,550 75.9,549.2 71.9,539.2 64.1,545.5 56.1,545.1 70.3,547.2 59.1,547.9 66.1,544.4 75.2,544.6 65.9,542.6 64,545.6 57.3,537.4 61.4,539.5 55.8,540.4 55.7,544.6 56.9,546.9 59.4,542.9 64.9,541.1 57.9,549.2 72.6,547 65.5,547.7 72.2,549.5 76,549.8 75.8,546 64.9,542 58.4,544.6 67.7,534.6 65.9,544.2 65.1,536.8 58.2,541.5 59.6,535.1 69.3,545.7 65.8,550.4 71.6,534.9 66.5,535 71.8,549.7 71.8,549.8 60.2,550 61.1,549.3 72.3,550.1 58.8,550.1 73.8,549.3 68.6,549.3 57.5,550.4 69.4,550.2" stroke="none" fill="none" marker-start="url(#r1L)" marker-mid="url(#r1L)" marker-end="url(#r1L)"/>
<path d="M172.7 540.2h0M107.8 542.6h0M174.9 547.2h0M168.5 549h0M91.2 550.5h0M114.6 533.1h0M155.2 546.5h0M102.3 536.6h0M92.7 548.9h0M120.8 548.4h0M103.2 548.4h0M112.3 546.9h0M84.6 549.5h0M131.1 539.8h0M155.8 544h0M178.9 546.7h0M140.8 547.9h0M138.6 544.4h0M177.7 529.1h0M124.2 547.1h0M83.1 549.8h0M91.3 533.8h0M170.6 550h0M145.9 550h0M143.9 550.3h0M102.7 545.2h0M98.5 533.8h0M131.1 543.2h0M83.8 548.8h0M141.2 538.8h0M150.7 546.4h0M94.8 549.8h0M141.6 548.9h0M108.4 545.9h0M118.5 538.3h0M135.1 546.1h0M149.3 543.7h0M98 543.9h0M141.4 541.7h0M126.3 550.3h0M161.4 537.9h0M174.7 530.1h0M161.5 541.6h0M169.4 544.1h0M120.3 540.8h0M144.9 549.7h0M112 544.6h0M156.2 542.4h0M123.5 546.6h0M126.4 549.2h0M140.5 543.3h0M166.1 548.9h0M110.5 548.2h0M113 546h0M162.4 550.6h0M91.7 549.4h0M116.3 550.1h0M170.6 542.7h0M108.6 526.6h0M98.9 541.4h0M138 542.4h0M145.5 549.6h0M117.8 546h0M117.9 545.5h0M100.1 548.6h0M160.8 549.9h0M146.4 550.3h0M129.8 545.7h0M137 542.4h0M100.7 550.5h0M91.4 549.5h0M132.6 544.2h0M173.4 549.8h0M87.1 542.4h0M92.5 547.8h0M126.1 537.4h0M112.7 533.2h0M89.2 539.8h0M173.9 542.9h0M168.7 545.1h0M81 547.4h0M79.2 542.5h0M132.9 544.3h0M82.9 543.8h0M161.8 542.2h0M157.8 536.4h0M170 549.7h0M79 546.7h0M130.6 545.6h0M170.6 549.6h0M124.7 547.5h0M136 545.5h0M122.5 537.5h0M143.7 549.4h0M149.5 538.2h0M135.8 548.6h0M125.2 546.9h0M100.5 539.9h0M108.9 535.9h0M133.6 544.9h0M103.3 540.4h0M163.8 545.8h0M134.5 545.3h0M174.4 540.2h0M129.3 538.6h0M138.7 543.8h0M175.5 530.9h0M140.5 541.2h0M115 538.4h0M93.2 542.5h0M119.6 545.1h0M159.9 546.6h0M135.9 546.9h0M157.4 536.5h0M124.2 549.8h0M114.9 543.3h0M96.4 537.8h0M86.5 543.8h0M80.3 550.5h0M150.4 550.4h0M126.6 538.8h0M166.6 542.9h0M109 536.3h0M151.6 546.7h0M102.8 537.3h0M165.4 543.9h0M94.7 546.6h0M149 538.7h0M97 546.7h0M79.4 536.7h0M175 549.1h0M167 545.9h0M84.7 549.4h0M85.9 539h0M168.1 548.8h0M91.1 544h0M98.4 550.4h0M140.8 543.7h0M88.8 540h0M171.3 530.3h0M140.3 547.5h0M152.2 549.2h0M80.5 550.6h0M150.9 541.1h0M92.2 540.9h0M146.6 546h0M84.8 543.3h0M90 538.7h0M108.7 543.7h0M132.4 550h0M122.5 547.1h0M162.4 547.5h0M147.4 547.3h0M155.6 548.8h0M145.1 544h0M132.5 548h0M102.4 545.6h0M89.2 548.6h0M118.1 544h0M104.5 543.9h0M101.2 549.4h0M93.6 549.8h0M121.4 550.6h0M78.6 539.8h0M110 549.3h0M130.6 540.7h0M120.4 545.4h0M159.6 547.9h0M131.5 544.9h0M85.7 550.6h0M162.9 545.3h0M160.5 540.9h0M122.1 536.9h0M130.4 542.3h0M135 537.8h0M108.9 520.7h0M158.2 536.2h0M136.3 539.8h0M104.1 547.9h0M81 543.3h0M170.2 550.3h0M98.1 547.6h0M174.9 542.7h0M97 550.3h0M176.6 546h0M167.1 550.3h0M120.5 548.6h0M147.1 549.6h0M158 546.5h0M115.3 528.3h0M154.9 546h0M169.8 543.4h0M151 541.3h0M104.1 550.5h0M145.3 543.2h0M119.9 548.5h0M169.5 541.2h0M102.9 548.6h0M146.9 549.3h0M78.5 533.9h0M143.4 548.3h0M107 549.9h0M135.4 543.5h0M156.5 534h0M126.3 543.8h0M114.1 529.9h0M178.9 546.3h0M88.4 544.8h0M124.9 544.6h0M93.7 549h0M137.8 546.1h0M90 548h0M89.7 544.4h0M141.6 535.7h0M153.4 549.3h0M150.4 546.3h0M105.4 538.5h0M156 548h0M79 549.8h0M177.6 545.7h0M137.5 539.2h0M168.4 548.1h0M121 538.1h0M178.5 548.1h0M166.4 547h0M101 536h0M127.4 543.8h0M160.3 545.9h0M151.5 544.1h0M166.6 538.7h0M144.8 545.4h0M90.4 548h0M167.5 529.5h0M148 538.8h0M106.3 540.7h0M122 542.7h0M99.3 537.9h0M122.1 545.4h0M99.4 548.2h0M173 548.8h0M131.2 546h0M174.2 550.4h0M131.6 543.7h0M161.1 549.9h0M140.5 549.5h0M90.9 549.1h0M157.3 543.8h0M141.7 547h0M103.6 543.3h0M149.3 550.3h0M84.6 540h0M139.4 542.4h0M120.4 547.6h0M103.2 548.1h0M112.9 540.8h0M125.3 541.5h0M78.8 538.1h0M152.8 538.3h0M121.4 543.9h0M106.7 539h0M143.4 548.9h0M87.7 536h0M146.5 548.1h0M161.3 548.3h0M133.9 541.3h0M135.5 545.5h0M134.4 546.6h0M118.2 525.8h0M89.1 546.8h0M147.2 550.1h0M123.9 540.3h0M128.5 545.6h0M167.9 548.9h0M79.3 538.3h0M81 538.7h0M144.7 541h0M103.4 541.6h0M105.5 546.7h0M80.6 549.1h0M135.9 541.4h0M109.7 548h0M175.6 542.1h0M120 550.1h0M92.9 544.8h0M118.8 541h0M168.1 545.3h0M147.3 539h0M116.4 548.2h0M108.5 548.6h0M97.1 530.8h0M173.4 550.1h0M131.8 547.8h0M164.5 548.6h0M127.4 546.2h0M156.5 547.6h0M124.4 550.5h0M131.8 549.2h0M138.5 545.4h0M91.8 548.2h0M156.8 542.3h0M131.1 539.6h0M137.2 546.6h0M159.2 542.3h0M136.6 550.6h0M151.7 539.4h0M134.2 547.7h0M138.8 541.3h0M111 543.6h0M147.5 544.6h0M160 550.5h0M95.2 549.1h0M148.6 549.1h0M120.8 541.7h0M134.8 547.4h0M100.2 541.6h0M106.6 549h0M129.2 545.4h0M81.1 544.6h0M109.6 550.7h0M141.7 533.3h0M93.4 544.9h0M138.3 550.4h0M128 547.3h0M153.4 550h0M148.6 541.5h0M176.9 540.6h0M162.6 543.4h0M138.2 541.4h0M124.6 541.5h0M153.1 538.2h0M99.7 550.3h0M120 549.4h0M152.1 542.4h0M112.1 550.4h0M102.8 544.1h0M102.6 541.2h0M132.2 547h0M130.9 550.5h0M102.5 547.1h0M117 542.9h0M102.9 537.8h0M126.7 541.5h0M122.5 546.7h0M140.5 548.1h0M80.7 538.7h0M90.5 550.3h0M99.2 533.6h0M141.7 547.6h0M84.8 544.4h0M79.1 536.9h0M94.5 550.4h0M87.1 545.4h0M95.3 535.9h0M154.9 548.6h0M171.3 547.8h0M99.3 550.1h0M133.7 543.2h0M114.9 539.6h0M93 544h0M133.4 549.4h0M120.4 546.6h0M90.8 545.2h0M119.5 530h0M128.3 548.1h0M85.5 539.9h0M145 536.5h0M104.9 544.5h0M161 543.2h0M161 544.6h0M175.8 539.9h0M142.7 545.4h0M157.3 548h0M93.4 544.8h0M100.4 534.8h0M103.7 543.1h0M135.3 545.5h0M128.9 542.8h0M113.3 541.9h0M103.9 550.2h0M139.8 545.6h0M156 546.2h0M134.4 536h0M123 542h0M133.4 545h0M105.9 520.1h0M150 547.4h0M107.2 549.1h0M147.1 548.1h0M134.8 550.2h0M178.7 541.9h0M90.6 544.8h0M148.7 539.4h0M89 532.1h0M167.9 543.5h0M139.1 542h0M174.5 540.3h0M124.4 545.3h0M125.3 536.8h0M79.3 545h0M169.5 546h0M136.8 549.4h0M165.6 534.6h0M89.1 544.5h0M111.7 546.9h0M148 538.4h0M154.8 544.6h0M128.4 546.6h0M159 549h0M132.8 550.2h0M167.1 546.2h0M105.7 548.9h0M122.5 544h0M97.9 539.7h0M119.4 549h0M146.9 541h0M113.6 544.4h0M117.6 550.6h0M169.1 545.6h0M83.6 544h0M142.8 547.4h0M98.8 548h0M120.5 546.4h0M132 541.7h0M174.9 543.6h0M166.2 530.2h0M105.2 538.3h0M138.1 547.8h0M163.8 540.5h0M104.1 544.3h0M111.8 546.9h0M177.8 530.9h0M144.6 541.1h0M100 543h0M95.2 546.1h0M116.1 542.4h0M81.2 538.7h0M82 543.3h0M134.8 550h0M149.9 549.1h0M150.9 548.6h0M122 536h0M97 538.9h0M159.3 549.8h0M90 550.4h0M115.1 550.2h0M79.2 534h0M81 545.7h0M176.6 537.5h0M138.4 548h0M93.4 545h0M165.2 549.4h0M118.1 549.1h0M157.8 547h0M150.6 544.9h0M79.3 548.1h0M147.1 543.3h0M105.6 533.7h0M171.8 543.4h0M166.3 530.1h0M173.6 546.5h0M104.6 546.8h0M151 539.5h0M93.9 540.1h0M119.4 545.5h0M132.4 543.5h0M112 530.6h0M133.6 537.6h0M165.2 544.8h0M157.1 548.5h0M159.1 545.5h0M173.8 550.6h0M166.9 550.3h0M107.1 546.8h0M148.7 548.9h0M133.1 539.9h0M152.2 545.4h0M141.6 547.5h0M170.2 548.2h0M99.9 536.4h0M134.8 543h0M142.5 547.7h0M169.5 544.7h0M114.8 545.9h0M110.5 538.3h0M99.1 546.6h0M130.4 550.4h0M96.8 545.7h0M103.4 549.7h0M100 549.3h0M157.1 541.7h0M162.7 550.6h0M165.3 547.1h0M84.3 542.3h0M140.4 540.2h0M118 538.1h0M170.2 540.8h0M142.6 548.8h0M160.8 548.6h0M90.9 534.6h0M164.1 549.1h0M101.3 541h0M130.6 548.7h0M103.1 526.3h0M136.1 547.9h0M169.1 535.6h0M107.6 549.9h0M98.7 547.5h0M103.5 548.9h0M104.5 543.4h0M104 543.4h0M114.9 547.5h0M124.4 538.5h0M133.8 548h0M124 541.2h0M160.5 548.7h0M108.9 547.4h0M88.6 545.1h0M90.3 532.2h0M112.1 539.8h0M152.9 548.4h0M150.9 545.5h0M101.1 549.8h0M87.2 547.5h0M152.8 544.3h0M157.6 543.5h0M122.6 546.6h0M89.1 537.7h0M148 550.2h0M93.5 547.6h0M172.1 545.7h0M154.4 550.5h0M132.9 539.9h0M133.8 550.6h0M158.5 544.5h0M146.5 547.1h0M169.6 546.2h0M103.1 530.7h0M78.5 543.2h0M143.7 549.8h0M173.1 544.1h0M119.1 547.1h0M133.8 550.1h0M160.5 540.5h0M99.4 548.3h0M120.6 539.2h0M89.5 538.3h0M125.8 545.1h0M147.8 548.8h0M151.5 547.9h0M125.4 550.7h0M165.8 549.1h0M150.9 550.1h0M106.3 545.3h0M122.1 548.7h0M152.4 536.6h0M82.2 538.5h0M105.9 535.3h0M127.9 546.9h0M105.3 549.6h0M94 543.7h0M138.6 544.4h0M149.9 542.6h0M161.5 533.7h0M88 534.6h0M178.3 546.7h0M123.7 550.2h0M139.7 545.2h0M161 543.4h0M118.5 537.8h0M162.1 536.5h0M169.3 550.6h0M110.5 544h0M178.4 549.9h0M155.3 532.7h0M151.8 544.7h0M163.4 545.2h0M136.4 546.9h0M141.2 545h0M126.1 547h0M90.7 550.1h0M133.5 550.5h0M91.4 549h0M80.3 548.9h0M161.2 539.6h0M129.9 540.8h0M171.2 550.4h0M146.5 550h0M114.7 550h0M82 550.6h0M81.2 550h0M104.5 549.7h0M94 550.3h0M178.2 550.1h0M86.2 550.3h0M107.6 550.1h0M165.1 550.4h0M147.8 549.3h0M153.8 549.8h0M126.1 550.4h0M141.3 550.5h0M124.6 550.1h0M115.3 550.2h0M107.9 549.5h0M147.3 549.4h0M141.7 550.7h0M169.4 549.6h0M156.7 550.5h0M105.2 549.5h0M82.6 549.9h0M125 550.7h0M112.2 550h0M94.6 549.6h0M165.2 549.5h0M142.3 550.1h0M176.4 549.8h0M170.8 550.7h0M174.4 550.4h0M89.2 550.1h0M94.1 550.4h0M139.8 549.9h0M144.7 549.3h0M132 549.4h0M171.3 550.1h0M118.6 550.5h0M149.6 549.5h0M84.3 549.8h0M131.5 550.3h0M164.8 550.6h0M123.9 550.1h0M165.5 550.6h0M171 550.1h0M159.2 549.7h0M150.5 549.9h0M102.2 550.1h0M78.5 549.7h0M102.6 549.5h0M155.5 549.8h0M144.7 550.3h0M160.4 550h0M161.5 550h0M92.3 550.2h0M126.4 550h0M116.9 549.9h0M114.5 549.7h0M150.2 550.1h0M178.3 549.7h0M83.6 549.7h0M94.3 549.6h0M98.8 550.7h0M177.1 550.2h0M91.6 549.6h0M107.2 549.5h0M149.9 549.9h0M124.5 550h0M128 549.8h0M178.8 550.5h0M104.4 549.7h0M111 549.5h0M153.6 549.3h0M136.5 550.6h0M166.3 549.5h0M86.3 550.2h0M139 550.4h0M128 549.6h0M104.2 550.4h0M157.2 549.5h0M125.6 549.9h0M112.4 550.1h0M88.3 549.6h0M164.9 549.6h0M104.1 549.8h0M153.8 550.3h0M174 549.3h0" stroke="#ffd60c" stroke-width="3.5" stroke-linecap="round" fill="none"/>
<path d="M115.4,546.6 107.1,542.2 110.3,531.3 121.7,541.3 158.8,550.6 113.7,549.1 92.4,545.3 92.5,545.5 90.1,549.8 155.5,533.2 81.5,544.5 82.2,549 142.5,545.1 125.2,548.3 105.8,531.7 131.4,537.5 126.1,548.6 136.2,548 139.4,538.7 147.2,548 162.8,547.9 159.1,535 102.1,548.7 118.9,544.8 150.5,541.4 120.7,539.3 169.6,550.4 85.2,548.6 106.7,541.9 91.3,547.3 161.2,543.3 144.2,535.5 145.7,547 171,546 100.9,543.1 129.2,545 163.6,530.3 101.1,543.6 114.9,549.1 140.4,540.6 99.6,541.3 86.9,539.9 136,546.1 158.9,548.1 157.4,549.4 143.4,539.2 171.3,550.5 113.9,536.8 136,540.9 112.1,549.9 144.2,547.6 174.8,542.5 132.9,537.9 162.5,541.2 172.4,537.8 147.9,539.8 105.2,548.2 155.7,533.2 167.8,545.8 142.8,549.4 129.6,538.7 85.5,538.8 100.6,538.8 108.3,541.8 175.9,543.9 88.8,550.6 167.8,550.4 172.1,535.1 81.7,548.1 166.7,548.9 157.8,548.5 128,549.2 82.7,547.8 101.9,542.7 144.1,546.6 112.5,547.7 78.6,535.8 172.8,540.1 163,550.4 171,537.9 87.1,542.2 160.8,547.5 165.6,549.2 143.3,538.8 167.1,538.1 92.1,543 104,538.7 128.6,547.7 88.8,548 162.1,549.2 138.4,543.8 99.8,543.6 104,550.6 171.2,547.4 170.8,538.4 105.1,534.5 167.9,543.8 88.7,546.6 170.6,546.3 142.3,550.3 159.7,548.7 147.2,543 109.6,543 166.4,548.9 124.2,547.8 83.6,548.2 142.1,548.9 103,536.6 119.7,546.1 111.9,530.3 93.3,535.1 118.8,537.6 116.4,539.2 108.6,549.4 99.5,541.3 82.4,548.5 138.3,541.3 143.4,545.3 162.9,547.8 92.6,548.2 148.5,541.6 174.1,545.9 105.1,541.6 162.7,545.6 81.6,549.5 123.8,546.2 151.9,549.6 158.5,547.7 120.3,548.8 102.8,539.6 140.2,542.1 167.2,529.2 117.5,542.7 108,550.6 149,542.4 130.2,545.1 90,542.4 109.5,548.1 174.1,533.3 149.1,538.6 164.5,545.8 139.6,550 151.4,546.2 84.1,541.7 128.4,548.4 177.8,546.8 127.7,543.8 98.4,548 167.4,545.5 121.6,549.4 117.5,537.1 132.5,541.5 138.2,536.7 106.6,538.5 167.7,547.6 111.4,548.4 124.6,540.3 108.4,548.3 160.3,543.7 131.3,537.4 97.7,544 137.5,540.3 175.5,537.2 155.5,541.5 168.1,543.6 136.9,543.8 134.4,539.8 122,542.6 119.6,549.2 93.8,535.9 173.9,528.9 93,539.3 149.6,546.5 91.4,538 103.7,544.1 113.2,536.9 86.3,542.5 120.8,546.6 146.8,546 91.8,545.6 146.4,549.8 83.4,542.6 113.7,547.7 120.9,549.7 134.6,538.4 173,542.9 155.8,537.7 166.1,537.5 157.7,536 103.7,550 117.6,533 146.6,546.9 108.2,549 137.1,542.1 120.2,548.7 87.3,545.6 127.5,545.9 79.2,547.5 157.4,550.1 84.5,550.1 132.8,550 174.3,550.3 96,550.1 122.5,550.5 124.6,550.2 175.6,550.2 127.1,549.4 128.6,550.6 110.7,550 174.1,549.4 136,549.6 106.8,550.6 149.3,549.9 133.1,550.7 104.5,549.3 87.2,550.4 140.9,550.3 106.3,550 162.1,550.3 140.7,550.2 170.9,550.1 136.3,549.6 111.1,550 153.4,549.5 104.6,550 90.6,550.7 148.8,549.9" stroke="none" fill="none" marker-start="url(#r2L)" marker-mid="url(#r2L)" marker-end="url(#r2L)"/>
<path d="M187.6 545.7h0M199.1 541.9h0M187 545.9h0M211.9 548.4h0M202.8 546.3h0M207.7 543.3h0M192.8 543h0M202 545.9h0M188.8 540.9h0M194.5 550.3h0M199 543.9h0M183.5 542.8h0M210.8 541.2h0M206.6 550.6h0M183 544.3h0M198.1 547.1h0M194.1 549.8h0M190.6 541.6h0M203.7 543h0M202.5 550.4h0M203.7 540.3h0M208.5 547.8h0M183.9 546.9h0M183.9 538.7h0M190.3 545h0M210.5 550.1h0M200.9 541.8h0M200.9 549.3h0M207.9 550.5h0M206.5 545.7h0M185.4 537.3h0M182.8 548.7h0M209.6 543.7h0M194.7 547.7h0M209.6 541.5h0M210.8 549.5h0M185 542.5h0M204.2 543.7h0M207.1 546.2h0M195.3 543.1h0M206.4 547.9h0M196.9 546.8h0M208.1 550.5h0M186.8 549.9h0M191.5 547.2h0M192.6 550.1h0M192.9 543.1h0M183.4 531.3h0M199.6 549.4h0M202.1 539.6h0M201.9 548.9h0M202.6 548.4h0M190.4 550.1h0M209.4 544h0M193.8 540h0M195.4 545.7h0M202.3 540.6h0M206.9 546.1h0M185 540.6h0M182 546.7h0M192.6 545.2h0M198.7 539.3h0M196.6 543.7h0M182.9 535.3h0M197.8 539h0M204.2 547.3h0M181.6 537.7h0M207.4 547h0M200 548.1h0M185 537.4h0M182.9 539.5h0M183.4 531.6h0M183.7 545.1h0M191.5 544.2h0M206.2 546.3h0M194.9 546.7h0M195.1 541.8h0M186.3 546.7h0M188.7 539.1h0M200.6 541.9h0M202.6 539h0M200.7 538.6h0M207.2 549.9h0M198 542.3h0M203.3 549.8h0M197.8 543.1h0M197.1 540.5h0M189.4 549.8h0M209.2 547.8h0M202.4 539.6h0M184 543.4h0M187.8 543.2h0M209.5 547.7h0M208.7 545.3h0M205.8 543.2h0M202.9 550.2h0M196.4 545.1h0M211.7 544h0M181.7 544.5h0M207.4 540.1h0M203.5 545.7h0M188.1 538.1h0M208.8 542.5h0M188.8 541.4h0M187.9 542.2h0M189.3 545h0M199.4 542.1h0M190.6 543.1h0M185.4 540h0M204.3 539.4h0M187.4 537.2h0M202.6 549.9h0M208.1 550.6h0M185.6 549.8h0M206.2 549.6h0M187.5 550h0M194.9 549.5h0M201.3 549.6h0M183.4 549.8h0M202 550.6h0M196.6 550.3h0M204.2 549.9h0M195.5 549.8h0M202.5 549.3h0M185.8 550h0M186.5 550.2h0M185.2 549.7h0M189.6 550.4h0" stroke="#d1bdac" stroke-width="3.5" stroke-linecap="round" fill="none"/>
<path d="M201.6,550.6 211.1,546 185.2,540 201.2,545.1 187.5,540.2 207.9,541.2 194.9,541.3 184.5,547 188.8,549.6 186.6,540.8 198.9,549 208.5,543.7 184.1,549.4 209.8,541.3 212.2,546.7 183.8,548.9 203.8,543.3 205.8,540.3 204.5,539.7 182.1,536 184.2,545.7 209.8,550.5 183.7,545.6 193.6,549.3 197.9,542.8 204,544.3 211.3,550.3 211.6,549.3 190.3,542.2 187.5,539.6 188.7,545.6 192.2,547.2 196.6,547 205.1,543.3 187.2,543.7 182.1,540.8 209.7,548.3 207.4,547.1 194.5,544.2 188.9,539 182.4,544.7 210.8,546.1 190.3,547 210.8,540.6 192.9,545.2 201.3,543.8 182.3,550.6 191.2,549.3 185.5,550.3 193.8,550.2 203.1,549.6 207.5,550.4" stroke="none" fill="none" marker-start="url(#r4L)" marker-mid="url(#r4L)" marker-end="url(#r4L)"/>
<path d="M260.1 550.1h0M229.7 549.8h0M237.1 547.9h0M248.5 539h0M228.7 542.6h0M251 550.2h0M238.4 543.2h0M222 538.7h0M227.6 542.9h0M217.1 542.9h0M241.8 549.4h0M265.2 548h0M234.9 547.3h0M242.3 538h0M251.2 542.1h0M216.5 548.6h0M237 546.7h0M231.2 547.1h0M217.7 534.9h0M270.8 549h0M263.4 546.4h0M262.6 530.6h0M229.3 541.9h0M248.6 547h0M249.8 537.5h0M247.1 540.9h0M256.9 546h0M249.5 548.4h0M215.8 549.3h0M221.8 544.1h0M249.4 549h0M269.8 546.2h0M265.1 539.7h0M251.1 548.5h0M216.5 547.5h0M222 549.1h0M244.4 550.7h0M248.6 548.4h0M229.1 544.4h0M245.3 549.9h0M247.8 544.2h0M232.7 545.2h0M256.4 549.4h0M267.1 546h0M229 547.7h0M244.1 549.4h0M227.7 548.8h0M216.2 549h0M250.6 548.7h0M252.6 549.8h0M243.9 548.5h0M222.2 545.9h0M225.1 546.6h0M262.1 544.6h0M247.7 545.9h0M216.5 536.2h0M245.9 548.3h0M242.6 548.4h0M266.1 529.7h0M220 547.2h0M226.8 546.2h0M241 547.5h0M254 546h0M257.3 540.3h0M225.1 541.3h0M249.4 544.2h0M254.1 548.3h0M266.4 531.3h0M265.2 541.8h0M248.5 549.7h0M260.6 548.8h0M221.9 548.3h0M217.8 547.2h0M244.4 540.4h0M228.8 536.5h0M260.1 549.8h0M234.1 546.1h0M257.3 545h0M247.3 549.1h0M259.3 548.8h0M229 540.8h0M219 548.4h0M229.1 548.5h0M254.1 537.1h0M216.4 542.8h0M267.2 550.5h0M262.4 550.3h0M245.7 543.1h0M218.5 544h0M248.6 548.1h0M222.4 549.8h0M256.9 531h0M266.3 544.9h0M237.9 546.5h0M216.8 542h0M253.4 550.5h0M264.7 544.2h0M256 548.8h0M264.9 546h0M231.9 541.7h0M258.5 550.2h0M269.5 533.6h0M232.4 534h0M224.4 548.6h0M229.3 547.8h0M231.9 544h0M251.6 534.9h0M240.1 539h0M263.3 545.4h0M233.1 549.3h0M228.9 548.3h0M219.2 541h0M237.2 537.9h0M234 549.9h0M253 537.4h0M218.5 545.8h0M266.1 544.9h0M219.9 533h0M246.4 540.8h0M257.1 543.7h0M259.4 545.9h0M243.6 548.8h0M263.1 548.1h0M232.4 550h0M249.9 548.2h0M269.2 527.7h0M237.4 540.5h0M217.7 550h0M266.3 537.4h0M231 548.8h0M239.9 539.9h0M268.7 530.1h0M243.3 550.3h0M243.6 540.7h0M248.8 546.7h0M222.6 537.2h0M259.4 533.9h0M225.8 546.8h0M260.1 534h0M264.7 547.6h0M228.8 539.8h0M217.1 544.1h0M235.6 549.8h0M260.1 535h0M221.8 549.6h0M241.9 549.1h0M264.8 548.8h0M252.4 545.9h0M257.6 548.9h0M270.5 550.5h0M227.9 532h0M239.4 544.1h0M251.7 530.7h0M251.2 542.6h0M270.2 544.9h0M226.4 542h0M233.5 547.6h0M254.7 537.6h0M259.7 541.8h0M220.7 539.4h0M252.1 531.8h0M237.3 549.7h0M240.9 541.6h0M263.2 545.6h0M232.2 533.6h0M264.2 537.3h0M235.4 548.9h0M263.7 541.7h0M236.2 548.3h0M222.8 549.9h0M247.4 547.4h0M233 548.4h0M227.5 550.6h0M218.8 548.6h0M264.6 538.2h0M267.1 544.1h0M222.3 538.7h0M250.5 548.8h0M241.6 538.5h0M252.1 550.6h0M255.4 540.7h0M258.3 544.6h0M221.5 547h0M265.7 537.7h0M224.7 550.3h0M238.8 544.9h0M257.3 550.3h0M232.4 548h0M268.4 547.6h0M271.1 549.8h0M218.5 549.7h0M249.3 547.3h0M270.5 549.5h0M248.3 541.3h0M230.7 544h0M245.6 544h0M224.1 534.8h0M244 550.2h0M257.7 550.3h0M228.5 536h0M224.1 549h0M217.6 546.9h0M219.8 547.5h0M235.9 548.1h0M269.5 543.4h0M229.3 547.4h0M252.8 538.4h0M227 546.8h0M248.4 545.7h0M218.9 549h0M255 547.4h0M224 550.5h0M222.5 538.2h0M239.8 550.3h0M215.8 543.7h0M250.4 550h0M220.7 549.5h0M268 548.9h0M251.5 544.9h0M252.5 550.2h0M236.1 541.9h0M241.7 542.5h0M218.1 543.6h0M262 550.5h0M233.4 546.7h0M228.9 549h0M267.5 547.2h0M236.9 549.2h0M252.1 529.4h0M242.6 544h0M269.7 550.3h0M236.7 545.3h0M224.7 548.7h0M225 546.7h0M242.2 548.5h0M241 549.4h0M246.2 542.4h0M234.9 543.5h0M258.5 546h0M256.6 545.8h0M267.9 547.5h0M255.4 534.9h0M235.7 548.9h0M260.7 534.8h0M218.6 545.2h0M246.6 548.1h0M266.6 549.8h0M216 543.4h0M221.8 543.3h0M238.4 545.9h0M262.7 530.5h0M251.6 542.8h0M254.5 547h0M231.4 545.3h0M244.1 544.4h0M240.5 545.8h0M239.6 546.4h0M250.8 548.8h0M222.1 549h0M252.9 546.6h0M243.3 542.3h0M266 546.9h0M263.1 542.1h0M247.5 540.8h0M214.9 544.2h0M248.7 550.6h0M271 547.7h0M223.6 543.3h0M242.4 548.7h0M226.9 549.9h0M270.4 548.7h0M224.3 541.6h0M240.5 542.7h0M260.3 548.7h0M269.1 539h0M271 546h0M258.6 539.2h0M233.1 540.2h0M221.6 548.8h0M217.3 550h0M266.8 550.7h0M231.8 546.7h0M237.4 548.5h0M242.8 545.7h0M221.1 547.6h0M219.2 534.6h0M241.9 545.6h0M216 536.5h0M246.4 550.4h0M239.9 547.8h0M241.8 547.3h0M270 540.5h0M269.9 527.2h0M225.9 542.2h0M251.2 545.9h0M245.8 543h0M250.7 548h0M239.2 543.6h0M253.7 542.5h0M259.6 548.8h0M229.5 542.3h0M268.7 537.4h0M220.1 548.7h0M258.6 540h0M232 548.6h0M261.7 541.7h0M261.5 549h0M235.7 548.6h0M261.2 540.2h0M216 532.6h0M268.9 539.2h0M241.1 540.8h0M236.7 539.3h0M252 549.3h0M241.7 550.7h0M231.9 536.9h0M217.4 532h0M250.8 545.9h0M244.4 548.5h0M258.8 549.8h0M261.9 548.7h0M262.8 550.1h0M262.2 547.3h0M225.7 549h0M224.7 546.4h0M243.4 548.9h0M241.3 543.2h0M232.3 540.3h0M226.2 542.6h0M261.9 550.3h0M257.9 549.6h0M215.1 550.6h0M228.7 549.8h0M239.3 550.7h0M252.8 549.9h0M245.8 550.3h0M240 550.6h0M261 550.1h0M226.6 550h0M243 549.7h0M240.8 550.7h0M266.7 549.6h0M270.7 549.4h0M226.8 550h0M221.7 550.7h0M237 549.6h0M243.2 550.6h0M219.9 550.6h0M263.3 550.1h0M219.9 550h0M229.6 549.4h0M229.1 549.4h0M237.9 550.1h0M215.8 549.8h0M252.2 549.9h0M244.4 550.3h0M251.5 549.5h0M218.7 550h0M231.1 550.5h0M214.7 549.3h0M251.9 550.5h0M264.8 550.4h0M240.6 549.9h0M258.7 549.7h0M248.4 550.3h0M215.4 550.5h0M244.2 549.9h0M240.7 550.3h0M220.3 550.1h0M262.1 550.6h0M241.6 550.7h0M242.3 549.5h0M251.8 550.4h0M216.3 550.5h0M269.8 549.7h0M250.6 549.5h0M260.1 550.4h0M257.8 549.4h0M264.7 549.7h0M234 550.3h0M226 550.5h0M219.2 549.7h0M218.9 549.5h0" stroke="#f9a516" stroke-width="3.5" stroke-linecap="round" fill="none"/>
<path d="M238.6,547.5 241.1,548.3 222.3,547.2 249.8,543.6 215.9,544.8 260.3,543.6 227.1,550.3 229.7,542.1 256.2,548.8 215.5,542.4 249.1,550.7 223.8,533 258.8,546.1 271.1,549.4 268.1,541.4 253.9,546 255,545.4 231,546.9 226.4,534.8 228,544.1 219.9,548.2 237.9,541.2 215.2,546.2 218.4,548 249.1,539.4 242.3,546.6 225,545.8 251.4,541 257,548.8 234.6,545.5 267.2,547.7 243,547.6 257.4,545.4 216.2,536.4 223.3,545 227,541.3 264.8,537.3 255.7,547.8 242.2,548.8 247.4,547.9 218.8,532.1 250.2,547.4 252.7,544 251,538.7 268,534.8 234.2,548.4 257.5,548 227.4,545.7 257.6,540.3 232.3,535.5 222.3,548.9 241.3,546.2 220.7,543.7 263,538.2 245.3,543.7 253.4,550.4 270,545.7 235.3,545.2 224.7,549.8 255.8,547.8 231.3,547.8 215.9,541.6 247,539.1 221.4,541 263.1,550.4 235.7,544.2 223.5,535.8 218.3,548.9 254.8,549.8 246.4,548.8 266.9,550.7 245.8,545.4 240.6,547.5 216.1,546.7 233.8,550 229.9,543.5 236.1,550 255.4,542.1 270.8,537.6 266.6,544.2 244.2,543.5 263.6,546.7 270.5,546.9 249.2,544.3 260,538.6 217.7,534.3 257.1,544.9 238.6,550.4 227.1,544.7 222.1,548.9 239.1,539.7 263.7,546.3 223.3,543 244,547.4 238.1,545.9 262.6,524.5 264,541.4 248.4,542.1 261.4,548.6 217.4,531.8 218.4,534.1 240.3,550.2 240.3,541.9 225,544 265.6,546.6 252.1,530.8 267.1,549.2 256.8,550.6 259.9,544.7 227.1,549.6 266.5,545 223.1,544.2 266.5,548.1 217.6,547.8 216.2,537.3 255.5,546.6 242.6,545.4 218.5,540.2 215.4,542.6 242.4,538 246.6,550 237.6,549.8 220,550.2 269.5,549.9 240.3,550 250,550.7 246.1,549.7 260.1,549.3 224.2,549.8 230.4,550.7 267.6,549.6 242.1,550.6 216.3,549.6 226.8,549.6" stroke="none" fill="none" marker-start="url(#r5L)" marker-mid="url(#r5L)" marker-end="url(#r5L)"/>
<path d="M281.1 546.5h0M282.6 544.5h0M274.3 547.7h0M344 541.6h0M297.8 533.2h0M321.3 539.8h0M282.6 549.9h0M335.7 533.8h0M300.4 543.6h0M290.3 548.8h0M296.8 543.7h0M325.8 549.9h0M329.8 532.1h0M306 548h0M299.1 548.6h0M336.7 547.1h0M302.4 538.5h0M285.1 543.3h0M335.9 542.4h0M296.9 545.8h0M301.2 538.7h0M338.7 536.6h0M282.1 524.8h0M312.8 548.3h0M317.4 549.4h0M345.7 550h0M328 540.3h0M306.7 550.1h0M320.4 550.3h0M338 542.7h0M353.1 539h0M311.7 540.8h0M352.3 534.7h0M291.8 548.1h0M331.3 541.3h0M283.4 528.7h0M352.9 547.2h0M286.8 550.6h0M351.3 544.2h0M348 546.6h0M300.1 541h0M310.6 545.2h0M318.2 546h0M351.5 546.4h0M304 549h0M327.8 539.8h0M291.3 549.9h0M287 537.5h0M301.7 546.9h0M350.6 547.4h0M302.1 544h0M346.7 550.3h0M281.3 546.2h0M281.2 544h0M348.1 544.5h0M292.8 548.6h0M334.1 533.2h0M345.7 533.1h0M302.9 544.2h0M314.8 548.9h0M346.1 548.4h0M332.4 549.3h0M311.6 543.7h0M286 528.6h0M347 529.5h0M294.4 545.4h0M353.8 540.9h0M347.3 531.2h0M351.4 542.1h0M306.3 547.4h0M330.3 543.7h0M292.8 530.4h0M281.7 529.2h0M330.7 532.7h0M277.2 548.6h0M284.2 549.3h0M307.1 549.5h0M353.5 549.4h0M307.7 540.1h0M295.2 550h0M294.1 541.4h0M289.4 546.2h0M298.4 550.6h0M325.1 548.4h0M303.4 538.3h0M332.3 548.4h0M332.5 545.2h0M345.9 543.7h0M331.2 548.8h0M312 545h0M323.4 541h0M336.8 547.4h0M273.6 547.4h0M334.9 542.1h0M313.5 530.7h0M300.6 537.9h0M312.1 547.1h0M320.1 547h0M286.9 547.7h0M345 549.5h0M284.1 540.7h0M288.6 542h0M297.5 536.8h0M352 549.3h0M354.1 549.7h0M316.4 550.1h0M302.4 536.6h0M337.9 532.8h0M310.1 549.6h0M319.9 547.7h0M350.2 535.4h0M300.5 545.4h0M321 549.4h0M305.7 535.7h0M286.3 531.7h0M303 546.5h0M320.6 547.7h0M324.2 541.2h0M283.1 544.7h0M284.9 541.9h0M289.8 547.5h0M317.9 549.5h0M302.1 541.2h0M340 531.1h0M308.2 534h0M325.6 547.2h0M274.1 546.2h0M337.1 534.2h0M355.2 529h0M278.6 547.5h0M284.2 549.7h0M351.8 550.1h0M285.3 532.4h0M328.7 535.8h0M320 548.4h0M278 550.4h0M348.6 534.9h0M308.7 530.9h0M276.1 532.3h0M325.1 547.5h0M338.5 541h0M348.5 545.3h0M319.7 539.2h0M332.1 544.8h0M287.5 544.4h0M293.7 541.7h0M330.1 538.3h0M329.7 544.3h0M343.9 547.6h0M336.2 548.2h0M340.7 544.5h0M318.5 541.2h0M347.5 543.2h0M286.1 530.5h0M344.5 537.3h0M310 546.1h0M312.3 531.2h0M303.1 541.9h0M307.1 540.1h0M332.9 541.1h0M279 542.1h0M346.7 547h0M310.8 547.2h0M282.4 538h0M322.6 548.2h0M308.9 542.4h0M280 546.7h0M323 537.9h0M273.9 549.1h0M291.4 540.3h0M354.6 544.8h0M317.9 533.7h0M355.2 543.5h0M283.1 549.7h0M331.5 539.6h0M318.6 550.4h0M323.5 541.2h0M315.3 522.5h0M276.4 545.8h0M330.4 534.6h0M322.4 546.3h0M291.9 548.1h0M293.6 544.4h0M311.1 548.4h0M341.3 544h0M309.9 546.4h0M331.8 542.4h0M325.2 550.4h0M335.2 544.4h0M330.1 548.7h0M308.5 543.9h0M326.9 537.2h0M306.2 546.1h0M352.8 545.6h0M338.5 537.7h0M338.5 541.4h0M330.1 543.3h0M290.5 550.7h0M298.2 547.1h0M312.5 540.6h0M323.1 544.8h0M284.4 548.4h0M281.6 549.8h0M296 541.6h0M285.3 530.5h0M325.3 547.4h0M309.2 537.6h0M283 550.1h0M336 546.1h0M290 542.6h0M349.2 544.3h0M314 542.6h0M284.7 539.8h0M287.2 545h0M284.4 548.2h0M284.3 546.9h0M347.1 541.2h0M277.9 548.1h0M314 537.6h0M290.5 550.6h0M336.4 549.4h0M320.8 549.8h0M292.1 545.7h0M296.3 550.5h0M345.7 527.5h0M273.8 544.6h0M353.3 525.1h0M354.1 541.2h0M273.9 539.5h0M349.7 525.3h0M354.6 547.8h0M291.1 545.6h0M346.5 534h0M309.8 546h0M292.2 544.7h0M310.8 540.5h0M284.6 543.7h0M319.7 546.2h0M349.3 542.6h0M289.8 549.8h0M337.2 550.3h0M347.9 548h0M353 550.7h0M293.8 548.9h0M352 536.8h0M286.5 540.5h0M333.2 549.2h0M283.9 545.6h0M340.6 545h0M302.6 540h0M303.7 546.9h0M274.6 543.1h0M342.6 550.4h0M291 544.7h0M338.8 546.5h0M289.1 546.8h0M339.9 539.3h0M352.9 549.3h0M297.9 550.6h0M330.6 542.4h0M326.5 550.3h0M316.3 544.1h0M298.7 547.9h0M293.8 548.4h0M298.7 546.2h0M316.8 549.6h0M324.5 545.2h0M286.6 549.3h0M311.8 547.5h0M316.3 530.1h0M275.9 549.6h0M349.8 541.2h0M278.5 540.5h0M277 547.8h0M284.8 550.6h0M311.5 547.2h0M280 542.4h0M347.5 547h0M280.7 543.9h0M284.1 543.8h0M329.8 550.2h0M326.7 546.8h0M308.7 546.7h0M316.3 548.6h0M278.7 547.4h0M290.6 528.2h0M353.5 540.6h0M301.1 542.2h0M326.5 550.6h0M346 543.2h0M315 541h0M283.4 544.1h0M303.9 545.2h0M286.5 547.9h0M334.5 550.6h0M316.1 528.3h0M308.6 548h0M288.1 543.4h0M278.7 532.1h0M334.1 536.6h0M339.8 548.7h0M354.8 546.2h0M293.5 537.1h0M337.2 548.1h0M314.3 549.2h0M336.2 545.9h0M322.8 535h0M337.8 534.8h0M341.7 549.3h0M307.2 549.5h0M297.9 550.1h0M307 549.8h0M277.8 549.5h0M341.1 550.2h0M279.3 550.1h0M317.8 543.2h0M327.7 544.6h0M301.8 547.6h0M354 546.7h0M278.7 550.1h0M283.4 549.6h0M277.9 547.4h0M309.4 548h0M301.6 539.6h0M295.8 549.4h0M301.4 545.9h0M300.4 543h0M324.6 545.1h0M324.6 548.1h0M304.2 547.8h0M274.5 547.4h0M347.4 547.9h0M281.6 548.6h0M291.8 550.3h0M324.5 540h0M330 542.6h0M285.3 545.5h0M284.5 548h0M307.8 550.4h0M282.6 544.6h0M284.1 543.1h0M309.5 538.9h0M310.8 531.5h0M322.1 539.1h0M334.2 537.7h0M339.6 547.6h0M327.1 543h0M330.5 537.7h0M355.7 550.3h0M346.8 535.9h0M291.2 549.7h0M298.9 548.5h0M317.1 526.7h0M322.4 544.6h0M301 545.9h0M309.5 548.8h0M344.6 544.4h0M304.2 549.2h0M345 543.9h0M347 549.1h0M337.8 542.4h0M288.6 538.7h0M331.3 548.9h0M301.1 538.9h0M328.3 548h0M281.7 542.4h0M349.9 547.1h0M282.4 550.4h0M342.7 539.8h0M348.6 547.4h0M311.9 537.9h0M274.8 538.3h0M309.9 546.9h0M332.1 534.7h0M291 549.7h0M321.5 538.4h0M346 542.6h0M279.3 550.2h0M321.8 536.9h0M315.3 539.8h0M317.4 526.6h0M279.6 524.1h0M313.7 547.9h0M300.2 546.1h0M324.8 543.1h0M293.8 541.5h0M353.7 547.9h0M280.5 548.1h0M309.4 549.6h0M299.3 549.3h0M330.1 536.5h0M285.1 544.9h0M278.2 535.2h0M315.5 530.4h0M323.2 547.3h0M331.7 550.5h0M302.2 547.9h0M348.1 528.5h0M294 550.2h0M321.5 545.2h0M309.2 548.1h0M334.7 547.1h0M275.6 539.7h0M293.9 540.4h0M295.5 547.5h0M338.2 546h0M333.8 545.6h0M296.2 540.3h0M301.6 550.1h0M354.4 549.4h0M299.7 545.1h0M325.5 550.3h0M291.3 531.3h0M278.9 545.3h0M302 545.3h0M325.6 543.5h0M345.8 538.1h0M293.9 549.9h0M285.1 545.7h0M344.9 549h0M334.5 549.9h0M329.3 548.6h0M327.1 544.7h0M328.3 542.1h0M338 526.3h0M335.4 545.7h0M295.2 548.5h0M347.9 544.8h0M290.8 549.5h0M311 545.6h0M284.3 535.6h0M287.1 529.2h0M320.2 539.9h0M348.9 545.5h0M322.6 543.9h0M349.9 526.2h0M285.6 533.1h0M294.6 549.9h0M336.4 535.5h0M333.7 542.7h0M283.6 549.7h0M280.1 548.2h0M282.7 541.4h0M320.8 550.5h0M283.6 545.7h0M276.9 539.1h0M278 550h0M317.7 547h0M338.2 545h0M342.4 533.9h0M287.7 549.8h0M332.4 537h0M298.3 549.5h0M289 541.7h0M353.9 550.6h0M279 547.6h0M274.4 546.8h0M315.3 544.2h0M335.5 543.5h0M328.6 548h0M310.2 547.1h0M278.7 536.5h0M304.2 546.1h0M280.7 549.3h0M309.5 549.1h0M305.2 534.6h0M304.6 542.4h0M276.3 547.9h0M303.7 538.2h0M288.7 548.8h0M274.1 543.1h0M309 547.7h0M278.9 541.1h0M305.1 542.7h0M303.3 547.3h0M296.6 536.9h0M282.7 541.2h0M328.3 542.1h0M289.5 550.1h0M336.2 549.7h0M304.4 546.7h0M316.5 543h0M343.6 529h0M329.5 549.9h0M277 533.5h0M342.4 547.6h0M316.5 531.5h0M307.1 545.2h0M288.4 543.5h0M303 543.3h0M277.4 547.6h0M287.9 545h0M350.2 540.9h0M278.7 543.7h0M293.6 548.1h0M310.3 547h0M353.2 528.9h0M331.7 540.2h0M344.4 538.2h0M321.4 550.2h0M330.4 545h0M324.4 548h0M333.8 549.8h0M300.1 535.8h0M290.6 550.6h0M286.2 544.3h0M301.8 544.9h0M279.8 550.3h0M352.5 541.5h0M314.7 530.3h0M288 550.4h0M351.9 537h0M355.8 546.6h0M290.3 550.1h0M274.9 548h0M287.7 533.3h0M345.5 540.7h0M296.8 540.5h0M309.1 541.4h0M299.8 550.3h0M276.4 534.7h0M348 542.5h0M331.9 544.9h0M346.2 546.3h0M314.4 533.7h0M285.6 540.1h0M305.9 550h0M343.7 543h0M352 547.2h0M338.2 543.9h0M348.5 536.9h0M291.8 541.5h0M324.8 543.9h0M349.9 541.5h0M348.2 536.3h0M284.8 546.9h0M334.9 545.1h0M313.2 537h0M327 550.4h0M277.3 548.4h0M346.8 548.9h0M323.6 548.4h0M280.4 550.5h0M343.8 549.8h0M285.7 550.2h0M301.6 550.3h0M295.3 550h0M280.7 550.4h0M342.1 550.2h0M320.1 549.5h0M291.7 549.4h0M319.8 550.4h0M290.9 550h0M278.3 550.5h0M307.8 549.9h0M342.9 550.7h0M304.3 550h0M337.4 549.2h0M306.9 549.3h0M277.1 550.7h0M349.1 550.2h0M283.9 549.4h0M294.4 550.3h0M275.4 549.9h0M283.3 550.2h0M332.3 550h0M288.1 550.2h0M354.4 550.2h0M348.9 549.4h0M292.8 549.5h0M337 549.7h0M353.4 550.6h0M339.4 550.6h0M352.8 550.3h0M355.3 549.5h0M348.5 549.8h0M278 550.2h0M343.5 550h0M329 549.3h0M335 549.6h0M323.6 550.5h0M312.7 550.6h0M317.7 550h0M286.3 550.4h0M304 549.8h0M312.4 550.1h0M281.9 549.7h0M312.5 550h0M353.5 550.5h0M322.1 549.8h0M344.4 550.6h0M334.6 550.4h0M340.1 549.5h0M318.8 549.9h0M330.4 550.5h0M328.7 549.8h0M323.9 550.6h0M347.5 550.5h0M284.9 550.1h0M339.3 549.6h0M318.7 549.8h0M285.9 550.4h0M289.5 550.2h0M355 550.1h0M302.1 549.9h0M348.4 549.5h0M276.1 550.1h0M287.6 550.6h0M333.7 549.7h0M278 550h0M316.5 549.3h0M321.5 549.7h0M354.3 549.8h0M331.9 550.2h0M308.8 550.6h0M288.5 550.2h0M292.4 549.4h0M287.9 550h0M293.7 550.6h0M329.8 550.3h0M290 550.4h0M322.2 549.7h0M296.2 549.8h0M319.5 550.1h0M315.8 549.7h0M287.4 549.6h0M284.9 549.6h0" stroke="#9252b6" stroke-width="3.5" stroke-linecap="round" fill="none"/>
<path d="M328.1,539.9 277.4,531.7 328.2,547.1 312.4,546.7 349.8,542.6 316.7,548.2 308.5,539 311.7,541.9 323.1,545.7 328.7,546.6 338.8,545 281.2,527.6 299.2,538.3 305.4,546.8 303.9,541.5 334.6,530 302.7,546.5 331.8,550.5 351.7,548.5 325,546.5 322.1,546.5 291.3,550.5 336.5,540.7 327.2,550.4 280.5,547.8 323.6,549.2 335,550 285.1,546.7 301.3,550.6 274.3,543.5 303.8,536.6 275.7,538 291.3,547 349,544 340.3,549.5 304.4,536.8 331.2,545.9 289.2,539.5 319.4,537 278.7,526.2 313.4,542.9 350.5,548.8 291.6,544 289.4,550.1 346.3,546.2 322.7,541.5 344.5,542 321.1,549.9 328.9,534 308.1,546.6 346.4,550.1 291.7,549.3 319.1,542.3 291.8,548.3 275.5,545.4 318.4,542.6 300,547.1 305.5,549.7 295.3,546.5 286.3,548.3 320,541.9 318.2,541.4 298.2,548.1 277.6,548.3 349.5,548.8 354,525.5 279.7,533.9 323.1,535.7 291.6,535.6 274.3,547.3 354.2,526.6 302.4,543 284.3,542.9 304.6,549.6 324.8,540.5 282.1,536.7 349.9,528.1 308.4,548.7 325.6,544.4 352.6,538.9 301,541.3 340.9,548.6 326,543 293.2,546.2 290.2,548.9 354.3,537.3 317.1,540.2 349.5,549.2 304,534.4 354.6,532.5 304.7,544.3 338.4,539.2 303.6,550.4 315.4,550.4 347.2,545 296,537.3 339,542.8 288.2,549.2 287.7,544.1 322.6,536.2 306.7,549.8 351.3,545.9 311.8,529.7 315.4,545.9 325.2,539.7 313.1,540.1 348.3,546.6 285.2,548.4 335.7,541.8 346.5,536.5 297.3,547.6 335.6,537.1 325.6,546.7 348.4,533.4 343.2,543.6 319.3,546.8 320.1,541.2 345.2,543 338.3,549.3 353,544.5 317.5,539.7 297.7,549.5 334.5,535.6 324.5,540.8 328.7,548.3 334.5,548.6 273.8,547.1 346.4,550.6 312.3,542.2 335.2,544.9 338.4,537.8 353.7,547.6 317.8,545.1 353.8,548.1 297.4,546.5 273.6,549.9 319.6,548.8 348,543.4 339.8,546.8 335.6,545.2 355.7,545.7 342.6,545.5 306.5,536.5 318.2,543.7 287.8,549.5 349,535.3 281.2,534.8 302.3,548.4 333.4,548.9 347.6,543.8 317.9,544.4 343,540.3 303.3,548.7 346.9,549.7 325,544.9 302.6,546.2 309.2,550.2 313,540.4 329.5,533.6 327.3,545.1 306.8,546.8 303.6,543 339.1,528.2 314.1,546.9 304.4,548.5 329.8,546.7 302.6,534.7 343.4,540 294.6,550.7 289.2,550.5 330.1,549.9 300,549.4 326.4,550.1 351.7,549.2 345.8,550.6 280,550 336.7,549.4 314.5,550.3 318.7,549.6 294.3,549.3 323.5,549.9 333.1,550.3 276.1,549.8 296.1,550.4 287.2,550.2 319.1,550.4 334,549.8 325.8,550.4 342,549.3" stroke="none" fill="none" marker-start="url(#r6L)" marker-mid="url(#r6L)" marker-end="url(#r6L)"/>
<path d="M362.3 547.4h0M363.1 541h0M359.7 549.3h0M363.6 549.1h0M362.7 550.2h0M358.4 549.2h0M360.3 539.9h0M358.6 548.4h0M359.5 545.4h0M362 543.6h0M362.5 546.4h0M359.6 549.7h0M360.4 549h0M359.1 546.6h0M360.5 543.2h0M364.5 543.7h0M362.1 545.4h0M364.5 548.8h0M359.1 542.2h0M360 543.3h0M359 549.7h0M362.2 546h0M359.8 547.7h0M361.1 544.3h0M362.2 549.2h0M363 545.4h0M363.6 550.5h0M363 550.5h0M364.6 549.8h0M359.7 549.5h0" stroke="#c9e58d" stroke-width="3.5" stroke-linecap="round" fill="none"/>
<path d="M361.2,545.4 359.2,548.8 360.2,546.2 361,543 363.5,542.5 359.7,548.1 363.7,544.9 359.2,544.8 364.4,542.7 360.2,550.5" stroke="none" fill="none" marker-start="url(#r7L)" marker-mid="url(#r7L)" marker-end="url(#r7L)"/>
<path d="M375.9 548.7h0M371.6 543h0M377.6 545.8h0M378 540.5h0M370.8 544.9h0M377 548.5h0M371.7 536.2h0M373.9 550.3h0M368.3 545.1h0M375.3 541.4h0M374.1 541.7h0M379.8 543.2h0M372.7 536.4h0M368.8 547h0M370 550h0M377.5 548.2h0M368.8 549h0M372.7 538.2h0M367.7 547.1h0M372.9 550.2h0M369.2 546.7h0M367.6 547.3h0M378.4 550.2h0M370.1 545.9h0M374.7 543.7h0M372 544.7h0M373.7 534.7h0M372.4 545.8h0M379 549.2h0M372.6 549.9h0M376.3 540.2h0M368 534.8h0M371.1 543h0M367.7 540.3h0M374.9 550.4h0M367.8 547.2h0M375.6 549.9h0M377.5 546.9h0M371.4 550.7h0M368.2 546.1h0M373.7 539.8h0M373.5 542.6h0M376.1 543.5h0M368.2 543h0M372.6 539.2h0M369.8 544h0M370.4 540.6h0M371.8 546.4h0M375.1 546.4h0M378.2 540.3h0M373.4 550.6h0M371.3 549.7h0M367.5 541.5h0M379.6 539.8h0M371.4 550.3h0M371.6 549.7h0M376.7 550.1h0M378.1 549.6h0M371.4 549.6h0M376.8 550.4h0M373.7 550h0M374.9 550.2h0M369.7 549.8h0M371.5 550.3h0" stroke="#e8418f" stroke-width="3.5" stroke-linecap="round" fill="none"/>
<path d="M375.8,541.3 371.9,549.8 377.3,547 374.2,549.6 368.9,540.2 378.9,545.9 377.2,548.3 378.7,541.3 374.2,543.4 376.8,549.5 375.9,544.3 376.8,548 373.5,544.2 376.6,548.5 376.7,546.1 373.1,546.5 370.2,536.3 377.1,543.7 369,547.6 371.3,547.5 373.6,548.9 372.6,542.9 376.2,543.4 370.1,543 378.5,545.5 369,549.8" stroke="none" fill="none" marker-start="url(#r9L)" marker-mid="url(#r9L)" marker-end="url(#r9L)"/>
<path d="M399.5 549.2h0M396.6 544.1h0M397.7 545.4h0M402.5 536.8h0M391 543.2h0M390.6 545.7h0M401.3 546.4h0M392.5 547.2h0M385.9 546.9h0M392.7 540.8h0M394.1 547.4h0M398 546h0M385.4 549.7h0M398.5 542.2h0M390.7 537.6h0M393.9 544h0M389.1 544.9h0M382.3 537.7h0M384.2 542.9h0M396.2 547.5h0M398.2 543.8h0M396.1 549.3h0M385.1 538.1h0M396 543.9h0M396.9 536h0M385.1 544.8h0M397.4 545.6h0M382.7 550.6h0M391.7 548.1h0M384.1 550.5h0M399.9 544.9h0M382.6 545.1h0M386.8 537.2h0M401.8 543.6h0M399.4 536h0M389.8 537.3h0M393.6 539.9h0M382.5 549.8h0M387.1 547.3h0M394 548.7h0M390.2 543.2h0M388.3 536.3h0M397.6 537.1h0M385 549.1h0M397 546.6h0M386.8 536.5h0M390.2 549.1h0M385.4 538.3h0M390.9 544.5h0M390.7 548.9h0M392.4 539.7h0M389.7 538h0M399 548.4h0M397.7 539.2h0M398.1 546.8h0M391.8 548.1h0M389.1 550.5h0M393.2 549.6h0M388.1 539.9h0M396.8 544.9h0M402.8 539.5h0M386.5 550.3h0M390.7 547.9h0M389.2 536.4h0M399.2 540.9h0M397.7 539.4h0M388.4 537h0M401.4 548.5h0M392.5 537.9h0M385.9 536.3h0M400.5 543.2h0M390.8 549.2h0M392 537.7h0M400.8 542.9h0M401.1 544h0M393.4 540.1h0M384.1 548.3h0M386.7 543.9h0M398.6 546.8h0M393.5 546.5h0M395.4 542.8h0M390.2 544.4h0M388.9 536.6h0M386.5 544.6h0M387.7 548.2h0M388 543.4h0M387.4 540.9h0M383.8 549.1h0M384.8 536.8h0M385.7 544.3h0M385.6 542.3h0M397.3 548.9h0M402 539.6h0M384.4 535.7h0M393.7 538.5h0M390 546.6h0M401.6 541.2h0M393.2 541.5h0M397.7 536.4h0M388.1 550.6h0M401.7 545.7h0M385.2 543.5h0M397.9 547.9h0M387.5 546.9h0M401.7 540.1h0M396.4 549.5h0M400.2 550.6h0M384.3 549.9h0M400.3 549.8h0M397.6 549.4h0M398.3 550.2h0M384.4 549.2h0M386.7 550h0M383.6 550.7h0M400.2 550.5h0" stroke="#e6bcdf" stroke-width="3.5" stroke-linecap="round" fill="none"/>
<path d="M402.1,549.1 389.2,539.2 398.4,548.5 385.7,545.9 391.7,546.7 399.4,535.2 386.9,547 400.5,546 386.6,543.3 383.8,538.2 393.8,543.3 387.8,548.1 391.5,550.1 396,538.6 390.4,537.9 390.7,550 393.5,543.4 395.2,550 400.6,544.8 386.1,537.5 396.6,544.2 383.9,548.6 387.6,539 383.1,548.1 392.8,545.4 400.2,549.3 382.3,549.8 391.4,550.6 398.8,549.4 382.8,549.9 384.5,549.8 394.4,549.8 399.7,549.9 395.6,550.4 392.2,549.6" stroke="none" fill="none" marker-start="url(#r10L)" marker-mid="url(#r10L)" marker-end="url(#r10L)"/>
<path d="M413.6 539.9h0M421.4 549.7h0M416.3 539h0M420 550.4h0M415.8 539.8h0M406.6 549.4h0M414.6 544.7h0M420.6 547.2h0M414.4 546.7h0M410.1 544.7h0M423.2 548.1h0M406.5 546.8h0M414.2 550.3h0M418.7 548h0M414.7 546.2h0M422.3 545.5h0M405.5 546.4h0M415.8 548.4h0M413.5 548.3h0M407.7 550h0M418.3 546.1h0M409 547.5h0M408.3 546.9h0M412.8 544.1h0M410.3 546h0M415.5 545.9h0M405.4 541.8h0M421.5 550.5h0M418.3 550.5h0M423.1 542.7h0M412.1 547.2h0M408 540.5h0M422.3 545h0M408.3 545.4h0M417.4 546.6h0M423 545.1h0M423 546.3h0M408.2 545.5h0M421.3 542.2h0M411.6 546.7h0M410 547h0M405.8 547.5h0M414.4 547.5h0M419.7 545.1h0M414.1 537.2h0M418.9 542.6h0M415.8 543.7h0M421.8 550.2h0M422.2 547.3h0M411 549.5h0M420.7 546.1h0M415.2 544.2h0M421.6 545.9h0M417.5 540.2h0M412.3 544.6h0M414.5 549.5h0M418.4 542h0M415.3 534.8h0M421.1 535.1h0M421.4 541.1h0M408.1 542.6h0M421.4 548.2h0M415.6 540.5h0M417.7 549.8h0M409.3 544.2h0M412.9 543.9h0M409.6 546h0M421.2 542.7h0M413.1 535.8h0M411 547.6h0M421.6 545.2h0M406.8 546.5h0M420.8 546.6h0M411.1 537.3h0M415.4 534.4h0M417 534h0M410.3 546.4h0M407.7 548.9h0M416.2 543.4h0M416.1 545.4h0M407.5 539.3h0M405.5 539.2h0M418 547.1h0M406.1 531.6h0M409.9 547.1h0M410 534.9h0M414 544.7h0M409.4 537.9h0M413.5 548h0M409.1 536h0M405.9 548.7h0M411.9 550.3h0M423.1 543h0M412.3 540.2h0M406.5 549.9h0M417.6 549.9h0M412 549.3h0M411.9 549.5h0M413.6 550.5h0M407.1 550.2h0M414.3 549.9h0M423.1 549.3h0M405.8 549.3h0M406.9 549.4h0M410.2 549.9h0M419.8 549.5h0M405.4 549.6h0M420.3 550.3h0M414.5 550.4h0M416.3 550.4h0M406.7 550.7h0M415.5 550.2h0M419.7 549.8h0M410.7 550.4h0" stroke="#213fa0" stroke-width="3.5" stroke-linecap="round" fill="none"/>
<path d="M419.2,545 414.5,547.3 414.6,548.8 413.5,549.2 410.7,550 419.7,548.9 415.7,541.5 412.9,543.5 405.9,543.8 410.4,545.1 414.4,537.7 418.7,544.1 411.2,541.8 411.3,549.5 411.6,539.8 406.6,545 422.6,532.2 412.7,544.7 408.8,550.5 407.3,550.1 417.6,543.2 414.2,547.3 407.3,545.2 409.3,549.8 413.8,538.3 406.6,545.4 412.9,545.7 415.8,548 407.1,548.3 417.3,543.6 414.3,549.7 406,547 410.6,535.3 413.4,544 413.2,549.3 407,550.5 421.1,540.1 410,546.8 418.7,550.1 419.2,549.5 408,550.4 413.4,549.3 417.6,544.3 416.9,550.2 410,547.9 414.7,547.2 411.9,549.9 417.5,534.3 410.2,537.7 422,550.6 409.6,550.4 423,550.3 405.4,546.1 408.7,550.4 418.6,546.6 405.8,550.6 416.7,547.4 418.1,542.8 412.2,543.7 421.8,547.8 413.3,549.7 412,531.3 409.7,542.6 410.8,549.3 416.4,550.7 420.6,550.2" stroke="none" fill="none" marker-start="url(#r11L)" marker-mid="url(#r11L)" marker-end="url(#r11L)"/>
<path d="M433.6 536.4h0M427.4 542.7h0M428.6 546.6h0M432 547.4h0M433.2 542.7h0M426.7 536.7h0M426.8 549.8h0M428.9 537.3h0M427.3 547.9h0M426.4 549.8h0M428.8 546.4h0M432.6 545.8h0M430.1 546.1h0M427.2 539.6h0M429.1 536.4h0M431.8 540.5h0M432.3 546.5h0M431.9 545.6h0M433.1 544.1h0M433.6 542.2h0M432.9 540.5h0M432.6 542.9h0M430.9 550.1h0M431.6 545.4h0M426.2 536.2h0M428.6 536.3h0M430.4 541.4h0M430.6 549.3h0M427.4 547.2h0M427.3 545.7h0M429.7 550.2h0M432.4 544h0M431.7 534.2h0M429.6 545.1h0M427.9 543h0M427.5 544.7h0M426.7 544.5h0M430.6 536h0M430.3 540.3h0M428.8 546.6h0M429.2 550.6h0M433 549.8h0M432 549.9h0M427.9 549.6h0M429.8 550.4h0" stroke="#8d5a2c" stroke-width="3.5" stroke-linecap="round" fill="none"/>
<path d="M432.2,539.9 430.8,550.2 427.4,543.1 428.1,543.6 428.4,545.6 429.5,543.3 425.8,546 431.4,545.5 428.8,547.4 429.8,544.6 427.9,549.3 432.1,549.5 431.6,544.6 432.5,539.2 432.8,538.6 433.6,540.5 432.2,547.5 432.4,545.2 431.5,547.3 431.5,539 427.9,534.2 429.7,536.6 431.4,549.3 425.8,549.7 427.1,549.8 426.5,549.6" stroke="none" fill="none" marker-start="url(#r14L)" marker-mid="url(#r14L)" marker-end="url(#r14L)"/>
<path d="M442.7 548.9h0M460.3 549.1h0M441 536.9h0M456.1 544.4h0M436.9 546.5h0M456.4 549.3h0M437.7 542.4h0M454.1 540.7h0M451.8 546.1h0M436.9 550.4h0M458.1 543.7h0M458.9 548.7h0M448.9 545h0M450.9 545.1h0M456 538.2h0M442.5 540.8h0M451.2 542.1h0M447.7 550.2h0M457.4 542.5h0M450.7 545.6h0M450.4 550.6h0M440.5 545.8h0M437.2 546.6h0M436.7 548.6h0M437.9 549.1h0M446.3 545.5h0M439.9 550.5h0M440.3 544.1h0M450.6 547.2h0M441.4 549.2h0M449.5 549.8h0M445.5 538.7h0M460.2 543.2h0M441.7 549.3h0M440.3 537h0M454.7 545.3h0M450.2 550.6h0M451.2 543.1h0M437.5 541.3h0M456 549.7h0M449.5 547.4h0M444.9 550.1h0M459.9 550.3h0M443.1 550.6h0M441.6 539.5h0M440.6 549.8h0M446.7 546h0M456.8 538.7h0M443.8 547.1h0M436.9 547.9h0M442.1 536.4h0M441.4 545.3h0M451.3 550.5h0M438.7 550.2h0M451.7 542.8h0M446.2 538.4h0M445.8 545.6h0M435.3 537.5h0M448.4 539.7h0M456.1 547.9h0M455.4 542.6h0M450 543.9h0M439.7 550h0M444.5 549.9h0M453.8 550.4h0M436.2 550h0M443.3 549.4h0M445.4 549.8h0M448.3 549.4h0M458.4 549.8h0M455.4 549.7h0M458.5 549.2h0" stroke="#d386c8" stroke-width="3.5" stroke-linecap="round" fill="none"/>
<path d="M453.2,548.6 442.5,543.8 444.5,546.5 442.6,537.1 459.8,540.7 442.7,549.5 454.7,548.1 450.4,549.9 438.9,550 447.6,548.6 442.9,549.4 455.6,547.6 453.9,548.8 442.3,547.6 451,548 457.7,541.6 446.7,548 443.4,550.1 446.6,545.8 438.4,545.2 457.2,549.5 452.4,543.8 448.2,539.2 444.7,547.7 453.3,549.5 435.7,537.8 446.2,550.1 445.3,550.3 449.5,550.5 439.9,550.5 435.4,543.7 447.9,542.4 450.1,545.8 446.6,548.8 446.3,550.2 447.4,548.3 456.3,545.4 444.7,550.6 450,549.2 451.5,541.6 439.9,547.8 456.9,542 439.6,540.7 454.6,550 449,547.7 442.1,546.1 456.9,545.9 450.1,544.1 455.8,541.4 455.3,540.6 443.8,547 455.3,548.5 436.1,548.6 440.5,537.4 449.2,547 447.9,548.1 441,541.6 440.3,548.6 450.9,540.8 457.4,538.8 443.5,543 436.3,543.4 439.9,547.2 455.2,548.3 458.6,549 439.1,546.5 459.5,549.8 458.7,544.4 448,550 448.8,547.6 437.1,545.6 446.9,550.2 440.2,543.4 450.5,541.1 447.7,549.9 440.1,549.3 436.2,550.4 450.1,549.7 441.8,550.2 452.3,550.6 451,550.1 458.3,549.6 453.8,549.3 450.9,550.4 453.1,549.5" stroke="none" fill="none" marker-start="url(#r15L)" marker-mid="url(#r15L)" marker-end="url(#r15L)"/>
<path d="M467.2 541.1h0M465.9 547.7h0M471.1 547h0M471.9 547.4h0M463.7 541h0M464 545.9h0M468.4 544.4h0M472.2 547.8h0M472.4 549.9h0M469.1 550h0M471.1 547.3h0M470.8 546.7h0M468.5 545.6h0M466.6 545.3h0M462.9 543.8h0M471.7 548.4h0M465.5 540h0M469.4 545.6h0M465 546.9h0M471.2 541.3h0M463 544.9h0M472.6 549.2h0M472.5 547.8h0M463.6 542.7h0M468.2 544.4h0M472.8 545.2h0M466.2 543.4h0M472.7 541.9h0M464 550.5h0M468.4 538.1h0M472.1 548.1h0M471.2 541.2h0M468.7 546.9h0M468 537h0M473.3 539.3h0M466 548.4h0M464.4 550.1h0M470.1 550.2h0M464.2 549.5h0M472.7 549.9h0M463.8 550.2h0M470.4 550.4h0M466.9 550.1h0M471.8 550.7h0M467.7 549.8h0" stroke="#a6d645" stroke-width="3.5" stroke-linecap="round" fill="none"/>
<path d="M469.3,542.3 469,537.3 466.3,544 466,550.1 465.1,549.4 467.5,545.8 471.8,549.1 472.8,548.9 467.3,546.9 464.6,543.1 463.9,547.4 465.8,538.2 467.6,546.3 469.9,542.2 467.7,540.7 470.2,544.4 472.8,541.7 470.9,539.5 465.7,548.5 471.4,540.7 469,539.6 465.8,549.8 463.8,550.1 469.3,547.7 469.7,549.4 466.5,550.4 471.7,549.4 466.3,549.5 464.1,549.3" stroke="none" fill="none" marker-start="url(#r16L)" marker-mid="url(#r16L)" marker-end="url(#r16L)"/>
<path d="M484.6 550.3h0M483.7 538.8h0M484.4 549.6h0M488.7 550.2h0M488.8 541.2h0M482.7 546.1h0M488 550.3h0M487.6 546.3h0M486 536h0M488.5 548.3h0M487 550.7h0M481.4 540.7h0M486.9 543.9h0M481.3 545.9h0M481.3 547.7h0M488.9 549.3h0M487 542.1h0M485.1 538.7h0M487 536.8h0M483 545.4h0M482.2 550h0M488.5 546.3h0M480.9 546.1h0M489 537.9h0M486.5 531.4h0M488.2 538h0M484.2 542.3h0M489.2 543.9h0M487.9 548.2h0M487.6 539.5h0M482.9 547.7h0M487.5 549.4h0M488.7 542.3h0M482.8 544.8h0M489.1 542.5h0M483.5 548.6h0M483.7 547.5h0M482.3 534.8h0M487.2 538h0M481.2 548.3h0M487.1 549.5h0M484.6 550h0M489.3 543.3h0M488.9 548.6h0M485.9 540.5h0M481.1 534.3h0M487.7 549.9h0M488.9 536.6h0M480.8 536.8h0M482.3 534.6h0M482.9 549.9h0M480.9 545.2h0M487 546h0M483.9 533.5h0M480.3 535.3h0M487.3 540.6h0M484.8 549.6h0M483.7 533.3h0M482.7 533.1h0M489.2 546.1h0M483 549.9h0M488.1 544.9h0M487.4 549.2h0M484.9 540.5h0M488.6 548.2h0M488.8 550.6h0M483.4 550.4h0M484.7 549.9h0M483.5 549.9h0M485.7 550.7h0M481.4 550.3h0M482 550.6h0" stroke="#d7c27a" stroke-width="3.5" stroke-linecap="round" fill="none"/>
<path d="M488.4,531.3 486.9,548.1 484.1,527.4 487.4,549.6 481.9,538.4 486.2,547.5 489,546.9 487.1,538 481.7,536.6 485.3,546.2 487.6,541.3 488,542.5 485.5,540.8 480.6,541.3 484.3,528.4 485.8,541 483.7,531.5 488.7,532.5 488.8,541.2 481.1,549.7 480.6,546 485.1,550.6 482.6,550.6 482.1,550.1 483.5,549.7 487.4,549.4" stroke="none" fill="none" marker-start="url(#r18L)" marker-mid="url(#r18L)" marker-end="url(#r18L)"/>
<path d="M498.7 539.5h0M497.6 540.6h0M493.9 538.4h0M497.6 549.8h0M495.7 544.6h0M499.6 536.6h0M496.7 547.8h0M496.7 537.9h0M495.8 536.5h0M499.2 534.1h0M498.1 546.7h0M496 550.6h0M494.8 548.4h0M497.4 547.7h0M495.4 543.1h0M498.4 545.2h0M499.1 531.5h0M495.6 533.4h0M497.2 543.5h0M496.9 546.8h0M492.9 531.8h0M492.9 544.9h0M500.4 542.1h0M499.8 547.8h0M495.9 531.4h0M494.4 549.5h0M494.7 540.1h0M498.3 549.7h0M494.9 536.7h0M494.4 535.6h0M499.5 544.8h0M498.3 529.4h0M494.1 544.2h0M499.7 535.5h0M493 545.6h0M491.9 547.2h0M494.4 541.6h0M497 549.6h0M494.4 548.2h0M493.6 539.1h0M498 549h0M496.2 545.2h0M499 545.7h0M496.2 538.4h0M494.8 541.6h0M493.2 536.7h0M496.9 547.5h0M497.8 540.2h0M495.9 541.1h0M493.4 550.3h0M492.6 536.5h0M498 542.3h0M500.5 549h0M494.4 548h0M499.2 546.6h0M495.9 539h0M496.6 547.7h0M494.1 548h0M492.6 548.9h0M493.9 530.9h0M498.7 537.4h0M497.6 549.7h0M497.8 549.7h0M495 544.1h0M497.3 529.3h0M497.3 534.9h0M493.8 534.5h0M497.1 537h0M495.2 532.2h0M498.5 549.3h0M497.6 549.6h0M498 549.3h0M496.3 549.7h0M498 550h0M493.7 549.7h0M496.3 549.7h0M499.4 549.2h0M492.7 550.5h0" stroke="#ee3636" stroke-width="3.5" stroke-linecap="round" fill="none"/>
<path d="M498.4,550.3 496.6,549.9 496.6,529.8 492,548 496.2,534.9 493.6,549.5 493.1,543.6 499.3,531.4 498.4,542 494.6,548 496.6,530.2 495.2,548 497.7,526.6 497.9,540 498.3,546.5 496.3,543.6 498.1,539.7 496.4,539.4 499.6,535.5 494,539.6 499.5,531.7 492.8,550.6 495.9,550.5 497.4,550.3 500.7,549.6" stroke="none" fill="none" marker-start="url(#r22L)" marker-mid="url(#r22L)" marker-end="url(#r22L)"/>
<path d="M436.8 509.9h0M437.1 510.3h0" stroke="#d386c8" stroke-width="3.5" stroke-linecap="round" fill="none"/>
<path d="M436,510.9 439.6,518.3 440.3,524.2 437.7,514.8 439.9,525.3 441,523.8 437.4,513.8 441.6,528.2 439.8,524.5 436.8,513.5 442.5,527.9 437.7,517.7 438.4,517.8 437.3,516" stroke="none" fill="none" marker-start="url(#r15L)" marker-mid="url(#r15L)" marker-end="url(#r15L)"/>
<path d="M436.4 529.6h0M439.7 536.9h0M443.9 534.8h0" stroke="#d386c8" stroke-width="3.5" stroke-linecap="round" fill="none"/>
<path d="M436.4,529.5 438.4,532.9 438.8,534.6 435.9,527.3 439,529.6 433.8,527.9 437.3,529.3 439,533.8 439.3,535.6 436,532.3 436.6,529.6 441,534.2 439.8,530.6 441.3,535.2 440.9,535.4 435.1,528.5 440.5,536.5 434.4,529.9 436.1,529.5" stroke="none" fill="none" marker-start="url(#r15L)" marker-mid="url(#r15L)" marker-end="url(#r15L)"/>
<path d="M453.6 534.2h0M454.4 529.5h0M452.2 529.8h0" stroke="#d386c8" stroke-width="3.5" stroke-linecap="round" fill="none"/>
<path d="M448.6,524.5 448.3,523.9 448.4,524.9 452.8,531.1 455.5,535.2" stroke="none" fill="none" marker-start="url(#r15L)" marker-mid="url(#r15L)" marker-end="url(#r15L)"/>
<path d="M77.8 508h0" stroke="#ffd60c" stroke-width="3.5" stroke-linecap="round" fill="none"/>
<path d="M77.5 515.8h0" stroke="#ffd60c" stroke-width="3.5" stroke-linecap="round" fill="none"/>
<path d="M77.5 519.6h0" stroke="#ffd60c" stroke-width="3.5" stroke-linecap="round" fill="none"/>
<path d="M77.5 522.7h0" stroke="#ffd60c" stroke-width="3.5" stroke-linecap="round" fill="none"/>
<path d="M78 528h0" stroke="#ffd60c" stroke-width="3.5" stroke-linecap="round" fill="none"/>
<path d="M82.6 518h0" stroke="#ffd60c" stroke-width="3.5" stroke-linecap="round" fill="none"/>
<path d="M85 518h0" stroke="#ffd60c" stroke-width="3.5" stroke-linecap="round" fill="none"/>
<path d="M84 521h0" stroke="#ffd60c" stroke-width="3.5" stroke-linecap="round" fill="none"/>
<path d="M85 523.5h0" stroke="#ffd60c" stroke-width="3.5" stroke-linecap="round" fill="none"/>
<path d="M86.5 528h0" stroke="#ffd60c" stroke-width="3.5" stroke-linecap="round" fill="none"/>
<path d="M160.8 516.2h0" stroke="#ffd60c" stroke-width="3.5" stroke-linecap="round" fill="none"/>
<path d="M160.8,525.8" stroke="none" fill="none" marker-start="url(#r2L)" marker-mid="url(#r2L)" marker-end="url(#r2L)"/>
<path d="M160.5 530.7h0" stroke="#ffd60c" stroke-width="3.5" stroke-linecap="round" fill="none"/>
<path d="M180 516.8h0" stroke="#ffd60c" stroke-width="3.5" stroke-linecap="round" fill="none"/>
<path d="M181 523.5h0" stroke="#b9b3dd" stroke-width="3.5" stroke-linecap="round" fill="none"/>
<path d="M201,534.2" stroke="none" fill="none" marker-start="url(#r4L)" marker-mid="url(#r4L)" marker-end="url(#r4L)"/>
<path d="M204,534.2" stroke="none" fill="none" marker-start="url(#r4L)" marker-mid="url(#r4L)" marker-end="url(#r4L)"/>
<path d="M182.3,532" stroke="none" fill="none" marker-start="url(#r4L)" marker-mid="url(#r4L)" marker-end="url(#r4L)"/>
<path d="M185,533" stroke="none" fill="none" marker-start="url(#r4L)" marker-mid="url(#r4L)" marker-end="url(#r4L)"/>
<path d="M215.8 511.2h0" stroke="#e8c07c" stroke-width="3.5" stroke-linecap="round" fill="none"/>
<path d="M215 519.6h0" stroke="#f9a516" stroke-width="3.5" stroke-linecap="round" fill="none"/>
<path d="M215.8 522h0" stroke="#f9a516" stroke-width="3.5" stroke-linecap="round" fill="none"/>
<path d="M215.3 529.6h0" stroke="#f9a516" stroke-width="3.5" stroke-linecap="round" fill="none"/>
<path d="M216.5 531h0" stroke="#f9a516" stroke-width="3.5" stroke-linecap="round" fill="none"/>
<path d="M219.6 525.8h0" stroke="#f9a516" stroke-width="3.5" stroke-linecap="round" fill="none"/>
<path d="M222 527.3h0" stroke="#f9a516" stroke-width="3.5" stroke-linecap="round" fill="none"/>
<path d="M224.2 528h0" stroke="#f9a516" stroke-width="3.5" stroke-linecap="round" fill="none"/>
<path d="M228,516.5" stroke="none" fill="none" marker-start="url(#r5L)" marker-mid="url(#r5L)" marker-end="url(#r5L)"/>
<path d="M228.8 519.6h0" stroke="#f9a516" stroke-width="3.5" stroke-linecap="round" fill="none"/>
<path d="M228 522.7h0" stroke="#f9a516" stroke-width="3.5" stroke-linecap="round" fill="none"/>
<path d="M226.5 523.5h0" stroke="#f9a516" stroke-width="3.5" stroke-linecap="round" fill="none"/>
<path d="M232.7,532" stroke="none" fill="none" marker-start="url(#r5L)" marker-mid="url(#r5L)" marker-end="url(#r5L)"/>
<path d="M242.7 535.8h0" stroke="#f9a516" stroke-width="3.5" stroke-linecap="round" fill="none"/>
<path d="M248.8 530.4h0" stroke="#f9a516" stroke-width="3.5" stroke-linecap="round" fill="none"/>
<path d="M251 520.4h0" stroke="#f9a516" stroke-width="3.5" stroke-linecap="round" fill="none"/>
<path d="M252 523.5h0" stroke="#f9a516" stroke-width="3.5" stroke-linecap="round" fill="none"/>
<path d="M247.3 536.5h0" stroke="#f9a516" stroke-width="3.5" stroke-linecap="round" fill="none"/>
<path d="M251.2 519.6h0" stroke="#f9a516" stroke-width="3.5" stroke-linecap="round" fill="none"/>
<path d="M248 527h0" stroke="#f9a516" stroke-width="3.5" stroke-linecap="round" fill="none"/>
<path d="M310.4 515.8h0" stroke="#9252b6" stroke-width="3.5" stroke-linecap="round" fill="none"/>
<path d="M311.2,525" stroke="none" fill="none" marker-start="url(#r6L)" marker-mid="url(#r6L)" marker-end="url(#r6L)"/>
<path d="M315.8 526.5h0" stroke="#9252b6" stroke-width="3.5" stroke-linecap="round" fill="none"/>
<path d="M308 530.4h0" stroke="#9252b6" stroke-width="3.5" stroke-linecap="round" fill="none"/>
<path d="M339.2,464.2" stroke="none" fill="none" marker-start="url(#r6L)" marker-mid="url(#r6L)" marker-end="url(#r6L)"/>
<path d="M337.3 468.8h0" stroke="#9252b6" stroke-width="3.5" stroke-linecap="round" fill="none"/>
<path d="M340.4 468.5h0" stroke="#9252b6" stroke-width="3.5" stroke-linecap="round" fill="none"/>
<path d="M342.7 469.6h0" stroke="#9252b6" stroke-width="3.5" stroke-linecap="round" fill="none"/>
<path d="M338.1 471.5h0" stroke="#9252b6" stroke-width="3.5" stroke-linecap="round" fill="none"/>
<path d="M341.2 471.5h0" stroke="#9252b6" stroke-width="3.5" stroke-linecap="round" fill="none"/>
<path d="M343.5 471.5h0" stroke="#9252b6" stroke-width="3.5" stroke-linecap="round" fill="none"/>
<path d="M337.3 473.5h0" stroke="#9252b6" stroke-width="3.5" stroke-linecap="round" fill="none"/>
<path d="M340 473.8h0" stroke="#9252b6" stroke-width="3.5" stroke-linecap="round" fill="none"/>
<path d="M342.3 473.5h0" stroke="#9252b6" stroke-width="3.5" stroke-linecap="round" fill="none"/>
<path d="M339.6 475.4h0" stroke="#9252b6" stroke-width="3.5" stroke-linecap="round" fill="none"/>
<path d="M349.2,470" stroke="none" fill="none" marker-start="url(#r6L)" marker-mid="url(#r6L)" marker-end="url(#r6L)"/>
<path d="M347.3,473.5" stroke="none" fill="none" marker-start="url(#r6L)" marker-mid="url(#r6L)" marker-end="url(#r6L)"/>
<path d="M351.5,471.5" stroke="none" fill="none" marker-start="url(#r6L)" marker-mid="url(#r6L)" marker-end="url(#r6L)"/>
<path d="M353.5,472.7" stroke="none" fill="none" marker-start="url(#r6L)" marker-mid="url(#r6L)" marker-end="url(#r6L)"/>
<path d="M353.8,475.8" stroke="none" fill="none" marker-start="url(#r6L)" marker-mid="url(#r6L)" marker-end="url(#r6L)"/>
<path d="M344.6,479.5" stroke="none" fill="none" marker-start="url(#r6L)" marker-mid="url(#r6L)" marker-end="url(#r6L)"/>
<path d="M335 479.6h0" stroke="#9252b6" stroke-width="3.5" stroke-linecap="round" fill="none"/>
<path d="M336.2 481.2h0" stroke="#9252b6" stroke-width="3.5" stroke-linecap="round" fill="none"/>
<path d="M336.5,483.8" stroke="none" fill="none" marker-start="url(#r6L)" marker-mid="url(#r6L)" marker-end="url(#r6L)"/>
<path d="M354.6 481.5h0" stroke="#9252b6" stroke-width="3.5" stroke-linecap="round" fill="none"/>
<path d="M336.5 488.8h0" stroke="#9252b6" stroke-width="3.5" stroke-linecap="round" fill="none"/>
<path d="M339.6 491.2h0" stroke="#9252b6" stroke-width="3.5" stroke-linecap="round" fill="none"/>
<path d="M341.2 493.5h0" stroke="#9252b6" stroke-width="3.5" stroke-linecap="round" fill="none"/>
<path d="M342.7,495" stroke="none" fill="none" marker-start="url(#r6L)" marker-mid="url(#r6L)" marker-end="url(#r6L)"/>
<path d="M345,495.8" stroke="none" fill="none" marker-start="url(#r6L)" marker-mid="url(#r6L)" marker-end="url(#r6L)"/>
<path d="M346.9,496.5" stroke="none" fill="none" marker-start="url(#r6L)" marker-mid="url(#r6L)" marker-end="url(#r6L)"/>
<path d="M348.8,497" stroke="none" fill="none" marker-start="url(#r6L)" marker-mid="url(#r6L)" marker-end="url(#r6L)"/>
<path d="M350.8,497.7" stroke="none" fill="none" marker-start="url(#r6L)" marker-mid="url(#r6L)" marker-end="url(#r6L)"/>
<path d="M352.7 498.8h0" stroke="#9252b6" stroke-width="3.5" stroke-linecap="round" fill="none"/>
<path d="M335 494.2h0" stroke="#9252b6" stroke-width="3.5" stroke-linecap="round" fill="none"/>
<path d="M335.8 498.5h0" stroke="#9252b6" stroke-width="3.5" stroke-linecap="round" fill="none"/>
<path d="M338.1,504.2" stroke="none" fill="none" marker-start="url(#r6L)" marker-mid="url(#r6L)" marker-end="url(#r6L)"/>
<path d="M354.2 506.5h0" stroke="#9252b6" stroke-width="3.5" stroke-linecap="round" fill="none"/>
<path d="M354.6 508h0" stroke="#9252b6" stroke-width="3.5" stroke-linecap="round" fill="none"/>
<path d="M348.1 511.2h0" stroke="#9252b6" stroke-width="3.5" stroke-linecap="round" fill="none"/>
<path d="M335 513.1h0" stroke="#9252b6" stroke-width="3.5" stroke-linecap="round" fill="none"/>
<path d="M336.5 518.8h0" stroke="#9252b6" stroke-width="3.5" stroke-linecap="round" fill="none"/>
<path d="M337.2 523.5h0" stroke="#9252b6" stroke-width="3.5" stroke-linecap="round" fill="none"/>
<path d="M333.4 528h0" stroke="#9252b6" stroke-width="3.5" stroke-linecap="round" fill="none"/>
<path d="M343.4 519.6h0" stroke="#9252b6" stroke-width="3.5" stroke-linecap="round" fill="none"/>
<path d="M340 519h0" stroke="#9252b6" stroke-width="3.5" stroke-linecap="round" fill="none"/>
<path d="M348.8,516.5" stroke="none" fill="none" marker-start="url(#r6L)" marker-mid="url(#r6L)" marker-end="url(#r6L)"/>
<path d="M354.2 518h0" stroke="#9252b6" stroke-width="3.5" stroke-linecap="round" fill="none"/>
<path d="M356.2 528.5h0" stroke="#9252b6" stroke-width="3.5" stroke-linecap="round" fill="none"/>
<path d="M345 522h0" stroke="#9252b6" stroke-width="3.5" stroke-linecap="round" fill="none"/>
<path d="M350 524h0" stroke="#9252b6" stroke-width="3.5" stroke-linecap="round" fill="none"/>
<path d="M358.8,523.5" stroke="none" fill="none" marker-start="url(#r7L)" marker-mid="url(#r7L)" marker-end="url(#r7L)"/>
<path d="M372.6 510.4h0" stroke="#e8418f" stroke-width="3.5" stroke-linecap="round" fill="none"/>
<path d="M373.7 526.5h0" stroke="#e8418f" stroke-width="3.5" stroke-linecap="round" fill="none"/>
<path d="M394.4,529" stroke="none" fill="none" marker-start="url(#r10L)" marker-mid="url(#r10L)" marker-end="url(#r10L)"/>
<path d="M415.4 518.8h0" stroke="#213fa0" stroke-width="3.5" stroke-linecap="round" fill="none"/>
<path d="M413,523.5" stroke="none" fill="none" marker-start="url(#r11L)" marker-mid="url(#r11L)" marker-end="url(#r11L)"/>
<path d="M410.8,525.8" stroke="none" fill="none" marker-start="url(#r11L)" marker-mid="url(#r11L)" marker-end="url(#r11L)"/>
<path d="M418.5,528" stroke="none" fill="none" marker-start="url(#r11L)" marker-mid="url(#r11L)" marker-end="url(#r11L)"/>
<path d="M423.8 526.5h0" stroke="#213fa0" stroke-width="3.5" stroke-linecap="round" fill="none"/>
<path d="M408.2,531.2" stroke="none" fill="none" marker-start="url(#r11L)" marker-mid="url(#r11L)" marker-end="url(#r11L)"/>
<path d="M426.2,523.5" stroke="none" fill="none" marker-start="url(#r14L)" marker-mid="url(#r14L)" marker-end="url(#r14L)"/>
<path d="M428,524" stroke="none" fill="none" marker-start="url(#r14L)" marker-mid="url(#r14L)" marker-end="url(#r14L)"/>
<path d="M436.2,509.6" stroke="none" fill="none" marker-start="url(#r15L)" marker-mid="url(#r15L)" marker-end="url(#r15L)"/>
<path d="M439.2,513.5" stroke="none" fill="none" marker-start="url(#r15L)" marker-mid="url(#r15L)" marker-end="url(#r15L)"/>
<path d="M441.5,516.5" stroke="none" fill="none" marker-start="url(#r15L)" marker-mid="url(#r15L)" marker-end="url(#r15L)"/>
<path d="M447.7,514.2" stroke="none" fill="none" marker-start="url(#r15L)" marker-mid="url(#r15L)" marker-end="url(#r15L)"/>
<path d="M450.8,523.5" stroke="none" fill="none" marker-start="url(#r15L)" marker-mid="url(#r15L)" marker-end="url(#r15L)"/>
<path d="M454.6,528" stroke="none" fill="none" marker-start="url(#r15L)" marker-mid="url(#r15L)" marker-end="url(#r15L)"/>
<path d="M455,526" stroke="none" fill="none" marker-start="url(#r15L)" marker-mid="url(#r15L)" marker-end="url(#r15L)"/>
<path d="M460,536.5" stroke="none" fill="none" marker-start="url(#r15L)" marker-mid="url(#r15L)" marker-end="url(#r15L)"/>
<path d="M444,520" stroke="none" fill="none" marker-start="url(#r15L)" marker-mid="url(#r15L)" marker-end="url(#r15L)"/>
<path d="M438,519" stroke="none" fill="none" marker-start="url(#r15L)" marker-mid="url(#r15L)" marker-end="url(#r15L)"/>
<path d="M466.3 506.4h0" stroke="#bfd585" stroke-width="3.5" stroke-linecap="round" fill="none"/>
<path d="M465 531h0" stroke="#bfd585" stroke-width="3.5" stroke-linecap="round" fill="none"/>
<path d="M467.5 531h0" stroke="#bfd585" stroke-width="3.5" stroke-linecap="round" fill="none"/>
<path d="M470 531h0" stroke="#bfd585" stroke-width="3.5" stroke-linecap="round" fill="none"/>
<path d="M472.5 531h0" stroke="#bfd585" stroke-width="3.5" stroke-linecap="round" fill="none"/>
<path d="M475 531h0" stroke="#bfd585" stroke-width="3.5" stroke-linecap="round" fill="none"/>
<path d="M476.2 323.5h0" stroke="#c41a66" stroke-width="3.9" stroke-linecap="round" fill="none"/>
<path d="M476.2,327.8" stroke="none" fill="none" marker-start="url(#r17L)" marker-mid="url(#r17L)" marker-end="url(#r17L)"/>
<path d="M476.6 356.5h0" stroke="#c41a66" stroke-width="3.9" stroke-linecap="round" fill="none"/>
<path d="M477.8 421.4h0" stroke="#c41a66" stroke-width="3.9" stroke-linecap="round" fill="none"/>
<path d="M477.1 452.2h0" stroke="#c41a66" stroke-width="3.9" stroke-linecap="round" fill="none"/>
<path d="M476.6 458.8h0" stroke="#c41a66" stroke-width="3.9" stroke-linecap="round" fill="none"/>
<path d="M478.2 461.3h0" stroke="#c41a66" stroke-width="3.9" stroke-linecap="round" fill="none"/>
<path d="M476.6 468.1h0" stroke="#c41a66" stroke-width="3.9" stroke-linecap="round" fill="none"/>
<path d="M477.8 470.4h0" stroke="#c41a66" stroke-width="3.9" stroke-linecap="round" fill="none"/>
<path d="M476.2 480h0" stroke="#c41a66" stroke-width="3.9" stroke-linecap="round" fill="none"/>
<path d="M477.6,487.2" stroke="none" fill="none" marker-start="url(#r17L)" marker-mid="url(#r17L)" marker-end="url(#r17L)"/>
<path d="M475.7,491" stroke="none" fill="none" marker-start="url(#r17L)" marker-mid="url(#r17L)" marker-end="url(#r17L)"/>
<path d="M475.4 494.9h0" stroke="#c41a66" stroke-width="3.9" stroke-linecap="round" fill="none"/>
<path d="M476.9 506.4h0" stroke="#c41a66" stroke-width="3.9" stroke-linecap="round" fill="none"/>
<path d="M476.6 512.2h0" stroke="#c41a66" stroke-width="3.9" stroke-linecap="round" fill="none"/>
<path d="M476.9 524.7h0" stroke="#c41a66" stroke-width="3.9" stroke-linecap="round" fill="none"/>
<path d="M475 541h0" stroke="#c41a66" stroke-width="3.9" stroke-linecap="round" fill="none"/>
<path d="M477.5 542h0" stroke="#c41a66" stroke-width="3.9" stroke-linecap="round" fill="none"/>
<path d="M480 541.5h0" stroke="#c41a66" stroke-width="3.9" stroke-linecap="round" fill="none"/>
<path d="M476 544.5h0" stroke="#c41a66" stroke-width="3.9" stroke-linecap="round" fill="none"/>
<path d="M478.5 545h0" stroke="#c41a66" stroke-width="3.9" stroke-linecap="round" fill="none"/>
<path d="M477.1 551.2h0" stroke="#c41a66" stroke-width="3.9" stroke-linecap="round" fill="none"/>
<path d="M476.5 548h0" stroke="#c41a66" stroke-width="3.9" stroke-linecap="round" fill="none"/>
<path d="M492 550.2h0" stroke="#727272" stroke-width="3.5" stroke-linecap="round" fill="none"/>
<path d="M500.7 529.5h0" stroke="#000000" stroke-width="3.5" stroke-linecap="round" fill="none"/>
<path d="M500.2 537.7h0" stroke="#000000" stroke-width="3.5" stroke-linecap="round" fill="none"/>
<path d="M501.2 546.3h0" stroke="#000000" stroke-width="3.5" stroke-linecap="round" fill="none"/>
<path d="M501 542h0" stroke="#000000" stroke-width="3.5" stroke-linecap="round" fill="none"/>
<path d="M60.5 862.9h0M60.4 859h0M73.3 860.4h0M58.6 862.3h0M66.6 858.9h0M56.8 861.3h0M61.8 866.9h0M65.5 859.7h0M70.7 853.7h0M72.5 860.9h0M60 859.5h0M68.8 863.6h0M63.7 864h0M67.9 855.9h0M75.3 853.4h0M69.8 865.2h0M76 852.2h0M70.7 864.5h0M61.7 860.5h0M70.8 862.9h0M76.4 859.6h0M62 866.5h0M56.1 865.7h0M74 862.8h0M74.6 861.8h0M66.5 860.2h0M67.4 860.1h0M66.3 862.7h0M60.5 864.8h0M68.8 861.6h0M62.9 860.7h0M55.9 866.7h0M76 863.6h0M68.1 863.5h0M62.1 864.1h0M61.8 864h0M56 862.8h0M62 865.3h0M60.5 865.7h0M62.5 859.6h0M69.3 855.3h0M60.2 866.2h0M59.5 860.9h0M59.3 865.1h0M58.2 865h0M61.2 864.4h0M64.4 863.3h0M58.7 867.1h0M74.2 850.9h0M71.4 854.8h0M60.3 866.6h0M74.7 856.6h0M74.6 852.6h0M61.8 861.5h0M64.3 857.6h0M62.7 865h0M65.6 858.9h0M59.6 863.1h0M59.1 861h0M61.2 865h0M64.5 862.6h0M58.1 866.6h0M73.7 866h0M62.2 864.5h0M69.2 859.8h0M67.3 858.9h0M57.1 865.8h0M68.3 857.4h0M72.5 858.1h0M63.4 862.6h0M64.4 860.3h0M60.6 862.9h0M56.9 864h0M74.2 852h0M65.3 866h0M69.6 855.1h0M69.7 857.4h0M57.4 866.4h0M59.2 866.9h0M58 860.5h0M73.3 851.9h0M72.5 866.6h0M62.3 862.3h0M68.6 857.7h0M63.3 863.6h0M64.3 866.4h0M76.2 861.1h0M58.8 861.8h0M69.8 860.6h0M57.5 861.4h0M66.5 862.5h0M70.5 861.8h0M55.9 863.5h0M72 865.3h0M65.7 861h0M73.3 854.5h0M65.7 859.6h0M64 860.1h0M70.8 857.8h0M60.9 865.7h0M73.9 862.8h0M73.2 863.2h0M62.6 863.4h0M59.9 862.7h0M75.5 861.8h0M71.6 863.2h0M71.5 852.4h0M66.9 866h0M62.9 860.6h0M67.5 865.2h0M68.9 865.1h0M69.4 865.7h0M58.4 864.7h0M68.2 860.6h0M56.9 861.6h0M67 858.7h0M61.1 864.1h0M64 862h0M59.4 864h0M72.9 855.9h0M72.6 853.3h0M63.6 862h0M69 854h0M61.8 859.6h0M71.9 857.6h0M66.7 866.7h0M69.2 861.7h0M73.8 858.3h0M72.7 852.4h0M64.8 859.5h0M59.7 865.9h0M70.4 860.1h0M69.3 863.5h0M74.6 856.1h0M63.3 862.3h0M72.2 866.9h0M57.8 866.9h0M56.7 867.1h0M65.6 866.9h0M71 866.7h0M60.7 866.7h0M70 865.7h0M76.2 866.4h0M61.9 866.2h0M57.3 866.7h0M71.2 866h0M67.2 865.7h0M64.3 866.8h0M70.8 866.2h0" stroke="#ee1c2a" stroke-width="3.8" stroke-linecap="round" fill="none"/>
<path d="M68.3,859.6 55.7,860.6 74.2,865.8 67.7,864 73.7,851 72.5,861.5 56.3,862.5 68.5,865.4 66.6,861.3 64.3,861.6 68.6,859.4 70.3,865.9 73.7,864.9 69.1,856.6 75.7,851.8 66.5,864.2 61.5,860.2 55.7,861.4 72.6,854.5 68.9,855.9 55.4,866.7 59.5,864.7 74.6,854.8 57.6,862.7 58.5,861.1 66.3,859.4 71.4,853 60.6,865.8 69.2,855.2 59.4,865.2 67.9,863.6 70.2,853.5 67.9,864.2 59.1,864.5 65.4,864.9 73.7,863.9 73.8,852.8 71,866.1 67.8,859.2 63.8,862.1 61.3,861.6 74.4,852.5 69.4,856.5 65.2,864.1 56.3,863.3 71.9,862.4 63,859.3 61.2,866.3 72.1,856.4 58.5,864.2 66.7,861 60.8,860.8 68.3,858.3 66.6,862.3 75.9,852.5 72.4,858.1 63.1,865.1 66.9,856.2 74,856.7 70.7,856.8 57.7,866.8 71.6,861.7 60.2,867.1 59.6,866.8 64,866.9 64.1,866.1 64,866.5 76.1,866.8 62.8,866.9 65.4,865.7 68.9,866.6 55.5,867.1 59,867 69.4,865.8 75,865.7 57.9,866.5 70,865.7 65.7,866.7" stroke="none" fill="none" marker-start="url(#r1L)" marker-mid="url(#r1L)" marker-end="url(#r1L)"/>
<path d="M150.6 866.9h0M103 846.8h0M167.4 844.8h0M169.2 852.5h0M116.4 866.3h0M175.2 865.9h0M90.3 866.2h0M135.7 861.5h0M139.9 852.4h0M176.2 864.6h0M162.5 856.8h0M155.6 847.6h0M163.1 857.3h0M99.9 858.4h0M152.3 866.3h0M127.8 866.3h0M153 861.4h0M140 864.6h0M179.2 862.6h0M172.7 852.8h0M178.3 856.7h0M133 861.5h0M169.9 835.6h0M156.9 861.6h0M171.6 863.2h0M97.7 866h0M108.7 859.2h0M83.3 851.8h0M122.6 862.7h0M94.6 851.1h0M177.2 830.1h0M116.6 865.2h0M125.7 859.5h0M115.3 848.6h0M125.7 847.4h0M109.1 864.1h0M80.2 865.5h0M99.7 850.8h0M177.5 850.4h0M134 866.1h0M104 849.3h0M105.3 866.6h0M142.2 856.2h0M155.3 851.7h0M162.6 858.4h0M96.1 866.9h0M169.3 841.6h0M146 845.9h0M139.7 861.7h0M96.3 864.8h0M178.8 858.5h0M114.5 860.7h0M110.8 859.3h0M164.6 848.2h0M140.7 866.8h0M134.4 860.2h0M146.3 862.4h0M169.1 833.6h0M117.7 850.2h0M106.4 836.9h0M111.1 861.8h0M92.4 863.9h0M87.2 858.7h0M163.4 856.3h0M79.7 863.4h0M86.2 863.6h0M170.1 864.9h0M98.2 847.9h0M84.1 832.2h0M117.6 865.9h0M93.8 865.6h0M173.5 820.3h0M103.9 862.2h0M127.9 855.1h0M81.3 862.3h0M157.7 858.3h0M133.2 861.1h0M162.8 864.6h0M177.4 861.3h0M90.7 866.9h0M158.9 834.6h0M139.5 863.1h0M116.7 863.1h0M139.5 840.7h0M165.8 847.5h0M129.5 854.1h0M144 863.7h0M124.7 860.4h0M167 826.4h0M121.9 849.5h0M85.2 845.7h0M134.3 847.5h0M166.3 853.4h0M109.4 859.6h0M116.6 856.4h0M87.4 862.8h0M82.2 858.4h0M132.8 854h0M163.3 842h0M147.7 865.8h0M117.2 860.4h0M108 864.8h0M114.5 867h0M97.6 863.5h0M130.6 861.3h0M123.5 853.4h0M85.8 867h0M121.6 846.9h0M112.5 861.4h0M168 864.6h0M173.1 858.8h0M87.8 864.1h0M165.3 858.5h0M177.8 855.2h0M99.5 863.1h0M92.5 858.6h0M114.8 852.4h0M85.2 860.7h0M97.9 866.7h0M117.8 849h0M84.9 861.3h0M97 863.9h0M101.3 860.6h0M154.6 861.9h0M139.2 857.3h0M84.8 849.9h0M128.4 858.3h0M161.3 833h0M151.2 862.8h0M137.8 865.9h0M164.6 859.9h0M165.9 860.5h0M88.6 851.1h0M109.6 845.2h0M133.6 838.6h0M147.3 854.4h0M149.2 858.8h0M90.2 858h0M152 865.1h0M98.9 861.2h0M89.9 866.5h0M89.3 858.4h0M166.4 859.1h0M85.8 863.5h0M173.7 865.7h0M127.1 861.2h0M175.8 864.8h0M178.1 850.2h0M169.9 865.9h0M154.6 864.4h0M177 862.7h0M95.8 854.8h0M130.3 862.3h0M154 859.9h0M122.1 851.5h0M133.8 858.2h0M83.9 865h0M100.4 851.4h0M174.9 846.7h0M116.6 866.6h0M95.1 826.3h0M133.8 856.1h0M95.4 865.4h0M87.5 849.9h0M125 837.8h0M82.5 858.9h0M176.7 865.9h0M118.2 851.2h0M124.6 851.6h0M110.9 858.2h0M136.3 863.9h0M139.6 856.4h0M131.6 861.4h0M85.5 849.5h0M89.2 838.4h0M179.6 865.1h0M179.5 865.7h0M127.4 864.1h0M120.8 867h0M79.7 853.3h0M170.1 866.6h0M109.8 860.3h0M109.8 865.6h0M154 859.3h0M146.9 859.9h0M79.8 866.3h0M172.2 861h0M135.5 862h0M139.6 866.8h0M153.3 864h0M105 862.2h0M153.9 841.4h0M103.3 857.3h0M97.1 859.3h0M167.9 857.9h0M122.5 866.7h0M154.6 862.4h0M98.9 856.7h0M152.3 865.9h0M127.2 862.2h0M122.6 864.8h0M144.1 855.2h0M98.7 842.8h0M138.9 843.7h0M165.1 842.1h0M93.8 864.4h0M121.6 863.2h0M174.5 862.9h0M173.3 864.2h0M133.6 858.8h0M130.1 863.4h0M173 851.7h0M94.7 830.4h0M122.1 866.5h0M105.9 863.3h0M99.3 839.3h0M145.9 865.9h0M119.2 862.7h0M137 866.8h0M113.7 865.1h0M90.6 862.8h0M120.1 862.9h0M128 852.5h0M96.3 846.3h0M117.6 859.6h0M116.9 862.4h0M80.3 858.3h0M129 860.9h0M151 865h0M133.5 849.9h0M117.3 865.9h0M124.5 853.7h0M179.5 855h0M134.3 866.2h0M88.3 866.1h0M150 853.9h0M98.5 858.5h0M164.2 860.6h0M146.4 865.6h0M159.5 847.7h0M102.7 865.1h0M123.2 862h0M149.3 863.2h0M156.1 852.1h0M86.6 838.2h0M138.9 861.8h0M114.4 857.6h0M174.3 855.5h0M145.5 858.1h0M128.9 859.5h0M162.7 864.8h0M127.9 861.1h0M97.1 864.6h0M124.9 858.6h0M145.4 851.9h0M79.3 860.6h0M83.7 849.7h0M108.7 856.6h0M129 848.9h0M113.7 866.4h0M115.7 859.1h0M88.6 845.9h0M103.1 853.4h0M179.3 865.4h0M104.2 845.6h0M137.4 865.4h0M149.7 866.5h0M163.7 839.8h0M141.2 841.7h0M159.4 866h0M119 847.7h0M105.8 862h0M146.5 848.7h0M172.4 853.9h0M130.2 853.6h0M116.3 862.5h0M136.4 860.5h0M168 857.3h0M167.9 865.1h0M162.9 829.3h0M118.6 864.7h0M100.4 851.4h0M162.1 862.3h0M170 855.1h0M135.5 861.2h0M131.1 863.6h0M168.1 851.5h0M98.7 852.5h0M144.7 864.7h0M131.7 862.3h0M124.3 856.6h0M177.9 865.8h0M174.1 855.3h0M164.8 866.7h0M141.8 858.4h0M141.4 865.7h0M105.1 838.8h0M126.7 853.4h0M131.8 865.3h0M161.5 867h0M128.2 866.5h0M168.3 856.3h0M161 862.4h0M119.4 866.2h0M86.3 863.8h0M90.8 858.3h0M138.4 862.7h0M162.1 857.8h0M111.6 861.5h0M177.3 860.4h0M161.5 864.6h0M149.8 858.8h0M162.8 864.7h0M88 862.2h0M143.9 863.8h0M85.3 844.6h0M90.3 850.1h0M165.2 847.5h0M167.1 853.9h0M176.6 857.6h0M168.8 864.2h0M159.5 845.8h0M102.7 861h0M176.6 864.1h0M161.3 838.4h0M149.4 863.5h0M90.1 843.3h0M85.4 836.1h0M107.4 853.8h0M142.6 849.9h0M151 862.1h0M153.5 863.1h0M146.6 842.9h0M175.8 856.6h0M132 853.4h0M98.8 858.9h0M125.7 856.3h0M149.8 857.3h0M79.5 865h0M116.6 854.8h0M119.2 861.1h0M178.1 858.7h0M109.7 854.1h0M176.3 856.7h0M163.3 853.7h0M95.5 865.8h0M129 854.8h0M153.2 858.1h0M158.3 866.3h0M98.1 866.6h0M131.4 857.5h0M79.7 832.5h0M89.7 864.9h0M96.9 861.9h0M114.6 856.2h0M158.8 856.8h0M110.3 856.4h0M138.1 860.3h0M99.7 853.2h0M82.8 863.8h0M87.5 848.1h0M164.5 863.1h0M169.3 865.5h0M86.6 865.7h0M104 862.8h0M134.6 861.6h0M113.4 860.3h0M103.7 865h0M110.9 845.6h0M166.9 860.6h0M96.9 864.2h0M92.3 858h0M131.4 860h0M98.4 848h0M135.8 864.1h0M99.5 865h0M177.5 865.2h0M178.4 850.2h0M86.8 845.9h0M80.3 849.8h0M84 860.3h0M112.6 863.3h0M123.5 837.2h0M148.2 858.5h0M177.2 859.2h0M113.3 865.4h0M162.9 863.6h0M131.7 862.4h0M100.9 862.9h0M169.4 866.2h0M165 857.7h0M80.9 860.6h0M107.5 863.4h0M87 866.9h0M139.6 849.7h0M106.6 856.4h0M84.9 864h0M130 863.8h0M104.8 841.9h0M100.8 843.7h0M123.7 841.8h0M156.1 864.2h0M129.9 864h0M100.5 864h0M139.8 861.1h0M163.9 860.3h0M175.4 851.6h0M81.7 860.6h0M116.8 866h0M104.8 851.4h0M108.6 848.9h0M122.3 845.9h0M99.6 861.9h0M81.4 859.6h0M145.6 851.3h0M139.7 863.8h0M143 866.5h0M107.8 859.1h0M138.5 863.3h0M173.4 865.5h0M113.9 865.8h0M170.4 850.1h0M177.4 858.2h0M144.7 849.9h0M109.7 864.6h0M138.4 862.6h0M164.4 854.4h0M149 864.9h0M92 841.3h0M107 864.8h0M167.1 860.9h0M153.3 857.6h0M87.8 846.1h0M132.4 858.1h0M164.3 863h0M109.7 852.8h0M139.7 863.1h0M157.2 864.7h0M157.1 843h0M157.6 863.3h0M144.7 855.6h0M83.7 866h0M179.3 852.6h0M154.5 865.6h0M174.6 846.4h0M161.5 854h0M110.6 867h0M88.7 862.1h0M104.8 866.2h0M142.6 856.7h0M79.5 841.4h0M142.3 861.9h0M114.9 858.4h0M138.7 850.1h0M159.7 863.2h0M87.8 851.3h0M151.9 859.9h0M90.8 856.9h0M99.8 856.6h0M152.8 844.4h0M119.4 853.7h0M116.9 853.1h0M99.3 867.1h0M111.2 864.6h0M98.3 857.3h0M114.2 848.4h0M130.6 856.1h0M97.9 834.3h0M134 860.1h0M108.8 866.3h0M169.6 865.9h0M116.7 835.7h0M106.5 864.5h0M177.5 849.4h0M133.8 852.4h0M163 863.4h0M98.1 855.3h0M171.3 855.7h0M94.4 858.8h0M171.2 841.9h0M86.3 864.8h0M111.8 854.4h0M160.4 866.7h0M159.3 854.6h0M161.3 856.9h0M133.9 865.9h0M172.8 862.5h0M166.9 854.3h0M99.2 865.2h0M132 866.3h0M126.9 865.5h0M115.5 849.9h0M112 849h0M130.9 856.9h0M149.9 866.5h0M174.8 846.2h0M92.1 863.6h0M97.3 842.6h0M131.3 857.1h0M132.6 857.2h0M107.7 865h0M139.1 860.3h0M99.5 859.2h0M99.1 860.3h0M116.9 852.4h0M176.5 864.4h0M85.7 832.3h0M122.7 866h0M178.9 854.5h0M109.7 865.3h0M84 866.6h0M164.4 849h0M124.4 859.1h0M109.7 859.5h0M142.1 865.6h0M141.9 866h0M138.1 862.1h0M164.2 863.5h0M155.1 857.8h0M136.2 854h0M106.4 855.6h0M125.6 846.8h0M134.6 858.6h0M132.7 860.9h0M170.6 860h0M108.2 863.4h0M115.3 852.9h0M172.8 861.8h0M152.7 854.3h0M98.5 851.3h0M157.9 845.4h0M90.7 854h0M101.1 866.8h0M164.5 857.4h0M176.6 865.3h0M169.2 855.5h0M96.8 860.6h0M105.4 854.8h0M105.1 865h0M150.6 856.2h0M169.3 851.5h0M154.1 856h0M96 861.8h0M154.6 863.3h0M86.7 856.9h0M176.1 865h0M178.1 864.3h0M93.8 840.6h0M176.2 849.2h0M156.9 862.4h0M122 855.2h0M135.4 858.6h0M126.4 861.5h0M97 866.7h0M164.4 857.1h0M173.1 848.2h0M139.1 866.2h0M154.4 864.8h0M140.8 847.9h0M172.8 858.5h0M171.5 852.5h0M107.6 855.6h0M101.8 863.9h0M85.2 848.9h0M94.4 857.4h0M88.1 860.8h0M179.4 855.3h0M109.9 865.4h0M129.8 865.6h0M174.5 853h0M173.1 859.5h0M160.6 849.7h0M81.7 866.8h0M149 862.3h0M160.3 867h0M177.4 845.4h0M158.8 855.9h0M84.2 864.9h0M171.7 860h0M108.1 850.4h0M111.3 855.3h0M167.4 854h0M122.1 861.9h0M178.4 838h0M128.7 866.3h0M126.5 854.9h0M105.8 859.2h0M79.9 866.4h0M103.6 864.7h0M102.1 827.6h0M97.3 866.9h0M131 852.4h0M133.7 866.5h0M138.2 856.6h0M105 867h0M178.4 853.4h0M111.4 838.6h0M143.1 841.4h0M91.2 843.2h0M127 866.6h0M123.1 866h0M166.2 865.9h0M154.5 866.8h0M163.6 866.6h0M100.4 865.9h0M79.9 866.5h0M90.5 866.5h0M167.9 865.7h0M86.6 866.6h0M82 866h0M157.5 866.1h0M104.8 865.9h0M120.5 867.1h0M105.6 867h0M170.1 866.7h0M168.3 866.3h0M94.9 867.1h0M160.7 866.8h0M98.5 866h0M82.9 866.7h0M177.3 866.4h0M150.5 866.7h0M164.1 866.4h0M151.7 866.9h0M131.4 866.3h0M106.4 866.4h0M89.6 865.9h0M135.4 866.5h0M124.7 866.6h0M145.4 867.1h0M135.5 865.9h0M121.2 866.3h0M115 866.7h0M116.9 866.9h0M130.7 866h0M175.2 866.7h0M173.8 866.4h0M118.9 866.5h0M161 866.6h0M116 866.8h0M162.2 865.8h0M104.5 866.3h0M141 867h0M140.7 866h0M122.8 865.9h0M87 866.9h0M107.1 867h0M92.2 866.5h0M102.6 866.5h0M178.2 866.9h0M82.3 867h0M140.3 866.2h0M90.1 866h0M175 866.2h0M92.5 865.8h0M100.1 866.5h0M111.6 866.4h0M104 866.9h0M145.2 865.9h0M97.6 867h0M150.4 866.7h0M137.5 866.2h0M146.3 866.5h0M111.8 866h0M108.5 867h0M154.2 866.4h0M163 865.9h0M117.8 865.9h0M144.6 866.8h0M136.4 865.9h0M178.1 866.7h0M120.3 866.5h0M134 866h0M164.9 866.8h0M138.5 866.6h0M158.8 866.6h0M153.3 866.3h0M113 866.3h0M169.5 866.6h0M172.5 867h0M126.2 866.1h0M91.4 866.5h0M93.6 866.9h0M163 866.6h0M98.6 866.5h0M92.6 866.5h0M140.8 866.8h0M113.5 865.6h0M114.6 866.8h0M156.8 866h0M131 865.7h0" stroke="#ffd60c" stroke-width="3.8" stroke-linecap="round" fill="none"/>
<path d="M118,860.2 155.3,855.6 103.4,866.5 143.9,858.5 102.3,831.8 98.1,864.9 162.1,865.8 87.8,860.1 139.8,861.1 87.7,864.3 154.2,863.5 109.3,861.4 133,865.2 82.7,864.8 122.6,862.8 160.4,864 124.6,841.8 150.4,846.1 98.8,839.5 87.2,864.2 106.1,858.4 102.9,834.1 146.9,856.9 84.7,851.2 178.3,863.5 171.1,866.2 172.9,846.5 175.9,847.3 105.9,864.6 131.9,853 133.5,861.1 177.3,863.6 123.5,857.4 177.7,862 137.9,865.5 116.4,857.3 139.3,866.2 145.4,861.4 177.5,854.2 88.1,855.6 165.3,852.4 98.7,844.5 161.8,840.2 170.9,861.5 148.9,862.8 103.8,853.8 146.5,857.9 169.4,854.3 179.2,859.9 137.7,850.8 154.3,863.5 127.3,858.6 99.4,859.2 130.5,864.8 154.1,844.5 127.9,853.9 168,865.4 105.6,853.9 107.5,854.2 146.2,863.1 102.3,861.1 139.2,863.6 81.9,862.5 141.8,861.3 88.1,831.2 176,864.7 130.2,857.1 99.6,862.5 103.4,864.9 106.6,864.4 150.8,840.1 157.2,845.5 172.4,863.8 177.2,863.4 168.3,864 112.6,863.3 86.3,863.9 171,858 138.8,864.1 156.3,860.2 90.7,844.8 159,863.9 167.2,828.8 107.4,855.3 100.4,853.1 130.5,843.8 156.1,854.9 101,857.3 122.4,864.5 109.2,847.9 99.5,863.7 135.6,858.4 79.9,866.7 85.4,851.6 109.9,865.7 148.2,850.1 102.1,843.8 144.3,860.5 155.9,852.8 176.8,867.1 101.8,849.7 96.2,850.9 120.9,864.5 129.4,865.4 161.8,862.3 96.5,856.1 121.9,866.8 104.3,860.2 175.4,863.6 120.2,857.8 88.1,838.1 86,863.7 94.9,858.2 134.1,857.2 104.9,854.2 159,850.3 153.8,847.4 125.8,866 172.5,850.2 86.2,856 94.5,851.3 116.6,862.8 162.7,857.9 165.4,853.6 136.1,863.3 170.8,862 109.8,845 123.7,865.7 179.3,865.8 88.1,858.7 101.4,866.2 140.8,855.9 87.7,863.4 144.7,865.4 129.6,865 161.9,862.4 114.4,863 129.9,857.8 125.8,855.3 108.6,860.3 104.9,848.1 111.2,852.1 173.8,864.1 172.7,832.8 130.2,860.5 171.1,860.8 138.4,863.8 138.5,843.9 109.5,863.6 152,860.8 173.7,858.7 144.5,862.7 154.8,866.6 174.9,857.6 129.6,839.7 126.4,859.9 89.4,861.6 148.4,855.6 174.5,866.1 136.2,863.2 163.6,862.4 119.8,847.5 97.7,854.8 165.3,828.2 83.3,845.3 107.1,863.1 114.5,855.8 93.4,856.6 156.3,848.1 125.5,854.2 101.5,858.5 151.7,864 128.3,864 174.9,864.3 124.9,854.3 80.3,862.2 123.3,865.1 90.1,855 157.1,865.6 123.4,857.7 98,863.8 140.4,861.7 150.4,862.2 104.1,864.1 150.7,865.8 154.7,854.6 96.9,865.5 115.5,865.9 113.6,866.4 80.4,866.5 149.1,866.3 136.4,866.1 174.4,866.6 84.4,865.7 146.1,865.8 139.7,867 132.9,866.6 115.5,867.1 172.8,866 166.5,865.8 176.9,866.3 150.8,866.1 155.1,866.6 163.9,866.5 86.6,865.8 165.1,866.5 96,866.3 100.7,866.7 79.2,867 133.5,865.8 85.7,866.6 170.6,867.1" stroke="none" fill="none" marker-start="url(#r2L)" marker-mid="url(#r2L)" marker-end="url(#r2L)"/>
<path d="M184.4 855h0M203 847.2h0M206 834.1h0M193.3 863.1h0M198.1 821.2h0M195.7 849.8h0M194.3 846.1h0M207.5 844.4h0M192.4 855.5h0M196.6 809.9h0M205.4 818.3h0M191.7 815.1h0M182.6 852.7h0M189.1 832.4h0M182.5 855.2h0M192.5 824.6h0M201.9 861.9h0M188.1 863.2h0M205.3 861.2h0M187.9 866.8h0" stroke="#d1bdac" stroke-width="3.8" stroke-linecap="round" fill="none"/>
<path d="M197.8,807.4 195.7,820.6 190.6,847 192.9,849.5 189.3,821.9 191,840.4 209.2,818.6 186.1,814.4 197,864.3 201.9,828 191.7,853.6 194.2,833.7 191.9,856.2 209,859.3 200.7,855.4 206.1,860.4 184.8,823.4 182.2,854.7 195.8,859.9 202.1,853.2 189.5,866.1 190,831.6 191.4,853.1 195.8,864.9 191.1,861.9 202.1,840.8 200.7,855 199.1,848.7 191.6,860.3 199.7,853.2 183.6,827.4 206.8,819.9 188.6,812.1 206.4,818.2 192.9,814.4 185,865.4 191,811.3 193.6,827.4 209.9,825.3 193.6,839 189.5,840.3 191.7,842.4 199.5,808.9 185.9,856.5 189,864.1 195.5,843.1 192.1,853 196.7,855.6 208.8,822.7 197.3,862.4 196.9,808.3 195.2,821 199,853.8 205.7,818.6 184.7,833.4 190.8,857.5 188.8,818.5 201.9,843.5 195.9,860.6 194,857.7 202,831.8 186.9,866.6 191.5,847.8 206.4,846.9 208.1,847.3 207.1,845.4 194.1,863.3 185.2,814.3 192,866.9 200.8,862.6 183.9,866.5 188.6,825.7 191,823.8 187.5,823.8 201.5,811.5 202.1,829.8 185.4,848.8 182.8,841.1 184.5,845.7 187.3,851.4 197.8,861 187.5,825.8 206.8,825.8 191.6,819.6 206.7,865.7 193.5,822.1 192.4,839.6 209,823.7 200.7,824.4 207,826.5 191.1,853.4 208,837.5 194.4,858.5 210.3,823 201.8,855.7 182.9,866.3 210.3,841.2 184.8,866.3 186.1,850.7 188.7,834 186.1,824.9 200.2,852.5 190.6,833 185.3,846.3 183.2,841.9 193.9,851.8 203.9,840.1 192,827.1 206.8,853.5 207,838.8 203.5,822.7 206.9,837.1 187,862.7 191.4,850.7 209.7,841.6 182.5,833.1 204.4,849.7 196.8,821.2 205.8,819.7 196.5,826.7 209.9,821 199.9,865.9 206.4,826.5 193.8,855.1 208.1,837.1 206.4,817 191.2,864.3 192,847.5 203,815.3 205.6,853.3 205,863 210.6,846.6 204.3,815.2 194,847.4 184.2,866.5 201.1,865.6 203.7,866.2 204.4,866.4 186.7,866.1 200.4,866.4" stroke="none" fill="none" marker-start="url(#r4L)" marker-mid="url(#r4L)" marker-end="url(#r4L)"/>
<path d="M267.9 849.7h0M264.6 864.5h0M218.7 859.4h0M261.1 838.8h0M252.2 861.8h0M226.5 863.1h0M227.5 866.9h0M245.6 858.9h0M270.8 866.5h0M260.3 861.5h0M265.5 862h0M245.8 852.7h0M245 849.6h0M234.7 847.3h0M220.7 835.3h0M215.1 852.7h0M242.8 854.2h0M233.5 860.3h0M268.7 848h0M260.1 860.4h0M240.7 843.6h0M260.7 848.8h0M242.6 866.2h0M264.9 850.9h0M263 863.4h0M217.9 858.2h0M254.6 861.7h0M248.8 862.9h0M214 851.8h0M247 856.5h0M221.6 866.1h0M255.4 859.1h0M238.4 860.7h0M262.4 864h0M231.8 856.6h0M268.9 860.8h0M242.5 864.1h0M255.1 843.7h0M268.9 864.6h0M237.9 861.4h0M232.6 865.3h0M255.8 866.2h0M262.4 866.9h0M255.8 864h0M227.3 861.6h0M259.7 862h0M239.1 849h0M229.7 863.5h0M228.9 859.1h0M215.5 863h0M241.7 861.4h0M213.5 865.7h0M266.7 860.2h0M243.9 861.4h0M268.7 850.4h0M215.9 862.9h0M271.4 866.8h0M259.4 863.9h0M263.8 866.1h0M238.4 862.6h0M225.4 821.2h0M242.2 862.5h0M264.2 861.5h0M259 856.1h0M260.8 866h0M260.4 862.7h0M260.9 840.4h0M262.3 844.2h0M234.8 842h0M265.7 862.2h0M215.3 865.9h0M239.8 853.5h0M268.1 866.5h0M219.4 854.4h0M218.9 865.7h0M214.7 863.5h0M224.9 866.6h0M246.3 852h0M255.3 865.9h0M215.1 850.6h0M240.2 844.3h0M248.4 862h0M262.4 864.6h0M268.5 838.4h0M241.6 865.2h0M225.2 857.5h0M262.6 862.4h0M262.7 854.2h0M220.2 865.6h0M242.2 844.1h0M259.8 850.5h0M270.2 865.5h0M255 864.8h0M217.8 861h0M267.1 864.1h0M234.8 848.7h0M236.3 849.8h0M230.9 855.6h0M232.1 864.2h0M267.4 842.3h0M267.3 858.8h0M238.9 855.8h0M254.4 850.8h0M233.3 850.4h0M266.9 862.3h0M267 866.6h0M228.5 856.3h0M260.3 864.6h0M270.3 859.7h0M216.1 845.4h0M258 865.2h0M262.2 865h0M240.7 864.8h0M234.9 863.9h0M270.8 863.2h0M219.5 850.8h0M252.5 861.4h0M255.4 844.8h0M240.8 852.1h0M252.9 863.3h0M261.2 850.7h0M260.2 847.2h0M239.1 866h0M258.7 866.7h0M236.7 855.6h0M252.4 866.5h0M240.3 865.2h0M236.4 856.6h0M271.2 855.7h0M255.6 855.2h0M242.2 862.6h0M261.5 866.5h0M263.1 861.7h0M263.8 860.5h0M253.3 863.9h0M217.1 840.8h0M240.5 837.4h0M241 861.4h0M246.5 844.7h0M225.8 860.4h0M252.2 861.2h0M253.7 866.8h0M218.4 865.5h0M263.5 859.9h0M254.5 859.1h0M213.7 866h0M229.7 864.6h0M247.2 866.9h0M222.4 852.2h0M230.1 857.9h0M239.8 861.5h0M246.4 832.7h0M256.1 863h0M215.8 858.9h0M252.6 861.8h0M226.7 864h0M267.9 865.6h0M269.2 859.4h0M257.4 862.6h0M255.9 864.1h0M224 830.8h0M242.4 839.2h0M268.7 863.6h0M230.8 861h0M263.3 863h0M244.8 857.1h0M226.8 866.2h0M219.8 856.3h0M238.6 849.1h0M263.7 856.8h0M227.4 819.2h0M229.4 855.3h0M256.7 866.6h0M246.8 856.3h0M262.6 864.5h0M217.6 860.7h0M265.6 862.8h0M254 866.6h0M238.5 839.2h0M216.3 864.6h0M266 864.8h0M250.4 860.9h0M266.3 851.8h0M218.4 847.4h0M263.9 841.5h0M262.1 863.3h0M260.6 861.8h0M255 864.4h0M233.9 855.8h0M242.5 866.3h0M223.6 856.6h0M239.9 866.6h0M223.2 858.1h0M232.4 863h0M252.2 863.7h0M256.8 866.8h0M226.4 861.4h0M259.7 846.9h0M264.8 862.3h0M229.6 860.5h0M240.5 856.3h0M236.5 857.4h0M232.5 858.9h0M227.8 834.2h0M229.6 866.3h0M267 854.8h0M240.7 861.8h0M222.4 856.8h0M252.5 860.5h0M253.4 866.1h0M242.1 862.7h0M262.4 859.2h0M240.7 858.1h0M224.6 865.1h0M260.3 859.8h0M250.1 864.2h0M222.3 865.6h0M231.4 866.1h0M229.6 853.7h0M224.3 860.5h0M270.7 866.4h0M236.7 859.8h0M253.7 862h0M224.8 849.8h0M216.8 855.2h0M238.2 861.1h0M235.2 863.6h0M248.8 866.8h0M237.8 863h0M263.6 858.1h0M237.3 830.6h0M265.1 865.3h0M252.2 854.8h0M226.5 865.8h0M226.1 832.9h0M241.2 850h0M258.6 856.2h0M226.1 841h0M250.7 866.9h0M268.4 863.3h0M265.8 854.9h0M232.6 858.8h0M264.1 851.4h0M221.7 860.8h0M229 863.1h0M256.4 849h0M253.4 864.3h0M232.2 862.8h0M227.9 859.8h0M242 822.8h0M246.3 863.3h0M228.7 847.8h0M262 861.7h0M230.4 850.9h0M223.3 866.2h0M246.5 851.2h0M234.8 846.1h0M225.9 865.5h0M269.7 865.5h0M255.5 862.7h0M234.9 863.7h0M221 857.8h0M249.8 853.9h0M247 860.7h0M256.3 866.4h0M262.1 861h0M248.3 849.7h0M251.1 866.5h0M214.5 862.9h0M253.1 863.2h0M262.9 866.8h0M246.3 834.2h0M228.3 860.6h0M264.1 860.4h0M217.3 861.8h0M215.5 864.8h0M214.3 865h0M224.1 859.9h0M243.9 859.2h0M241.2 866.4h0M266.4 860.9h0M243.6 863.6h0M229.6 859.2h0M228.8 819.3h0M243 858.4h0M250.1 861.5h0M259.9 866.4h0M270 864.5h0M255.1 852.5h0M256.3 856.6h0M234.3 865.7h0M241.1 866.9h0M253.2 834.9h0M231.1 857.2h0M226.2 859.7h0M253.9 862.9h0M260.1 855h0M220.9 862.4h0M233.3 865.7h0M238.4 860h0M237.7 859.9h0M227.7 860.3h0M258.6 851.5h0M241.6 848.3h0M233.9 852.1h0M246.2 865.3h0M232.6 861.2h0M257.6 832.4h0M252.1 863.5h0M249.6 862.6h0M231.3 859.3h0M225.6 861.3h0M267.7 861.3h0M246.5 866.1h0M245 849.4h0M263.1 866.5h0M233.3 865.5h0M217.8 863.3h0M236.5 863h0M232.6 866.9h0M265.8 864.2h0M234.7 860.9h0M238.9 859.9h0M242.1 858.7h0M230.4 840.5h0M258.5 857.5h0M216.4 857h0M232.2 855.2h0M254.1 847.2h0M249.6 863.6h0M258.9 850.5h0M226.6 860.4h0M244.8 860.9h0M270.5 859.3h0M237.9 857.4h0M271.1 854.2h0M255.5 856.8h0M268.3 866.9h0M248.4 866.6h0M266.9 848.2h0M221.2 856.9h0M259.7 860.7h0M222.8 836.4h0M238.6 866.5h0M213.4 852.8h0M234.1 866.9h0M264.2 861.1h0M224 863h0M224 825.1h0M271.1 857.9h0M259.5 863.5h0M229.5 846.7h0M265.6 839.8h0M221.6 860.7h0M239 864.6h0M220.9 866.3h0M259.7 862.5h0M250.3 865.2h0M224.5 861.7h0M268.2 842.3h0M215.6 861.3h0M235.2 860.6h0M256.9 840.3h0M258.4 831.6h0M230 857.3h0M232.5 866.8h0M259.2 866.5h0M264.5 857.2h0M271 864.5h0M246 862.7h0M232.5 862.9h0M257.7 864.1h0M228.3 866.9h0M245.9 853.7h0M266 847.7h0M242.6 840.4h0M234.5 862.3h0M248.2 858.8h0M264.9 856.8h0M226.5 845.2h0M266.2 861.8h0M217.6 863.5h0M258.3 865.1h0M226.1 856.7h0M232.5 840.7h0M247.9 857.9h0M237.1 861.5h0M243.7 843.8h0M232 860.9h0M222 854.3h0M255.7 855.1h0M213.9 858.6h0M253.7 866h0M237.2 866.9h0M250.8 866.7h0M220.3 861.4h0M225.2 848.7h0M255.7 842.3h0M226.6 851.6h0M256.6 865.1h0M243.6 863.8h0M270.9 863.3h0M268 865.5h0M228.8 864.4h0M225.1 839.4h0M217.8 849.4h0M243.4 860.8h0M249.9 858.8h0M237.5 866h0M266.7 856.5h0M231.6 858.9h0M226 858.7h0M219.8 863.5h0M234.8 860.9h0M248.2 857.1h0M265.1 856.9h0M266.1 861.2h0M218 856.7h0M257.4 851.4h0M226.9 841h0M262.3 849.9h0M256.9 840.7h0M250.9 853h0M221.3 848.4h0M227.6 862.2h0M258.8 839.4h0M245.1 862.1h0M237.6 855.9h0M237.6 860h0M231 861h0M229.6 854h0M257.7 864.2h0M244.9 840h0M265.1 851.5h0M225.3 865.8h0M246.4 859.4h0M265.2 842.6h0M249.5 857.8h0M270.3 865.7h0M249.1 862.5h0M215.4 849.9h0M218.2 863.8h0M268.2 857.7h0M218 861.5h0M247.6 827h0M261.5 866.4h0M222.6 863.8h0M239.3 851.3h0M259.5 860.4h0M233.8 857.5h0M237.3 865h0M233.5 838.9h0M219.4 844.2h0M248 863.8h0M229.9 842.8h0M217.6 862.7h0M259.9 864.3h0M254.5 862h0M237.4 859.9h0M256 865.8h0M243.8 864.7h0M228.7 843.1h0M266.9 866.2h0M261.2 867h0M264.8 865.9h0M213.2 866.1h0M216.8 866.2h0M239.9 867h0M258.7 866.8h0M267 866.7h0M237.3 865.9h0M230.7 866.7h0M236 866.1h0M227.4 866.7h0M224.7 867h0M249.8 866.7h0M230.9 866.4h0M234.9 866.3h0M263.2 866.2h0M234 866.9h0M238.7 866.3h0M263.1 867h0M266.1 866.4h0M213.8 866.5h0M267.5 866.3h0M239.4 866.2h0M220.4 866.2h0M237.7 865.7h0M227.2 866.4h0M262.8 866.9h0M216.2 866.6h0M224 866.9h0M222.8 866.8h0M218.4 866.8h0M215.9 866.1h0M243.9 866.8h0M258.7 866.7h0M236.8 866.8h0M248.6 866.7h0M252.2 866.8h0M235.6 866.3h0M219 867h0M250.7 866.8h0M214.3 865.7h0M243.9 865.9h0M240.7 866h0M247 866.9h0M248.4 866.5h0M250.3 867.1h0M214.3 865.8h0M270.1 866.7h0M214 867h0M245.9 867.1h0M233.5 865.7h0M244.7 865.8h0M254.7 866h0M247.8 866.8h0M263.4 866.1h0M225.7 866.4h0M270.9 866.1h0M271 866.5h0M233.7 867h0M232.3 867h0M225.4 866.6h0M267.9 867h0M265.2 865.8h0M224.8 865.9h0M240.9 866.1h0M228.6 866.7h0M239.8 866h0M233.4 866.5h0M238.4 866h0M247 867h0" stroke="#f9a516" stroke-width="3.8" stroke-linecap="round" fill="none"/>
<path d="M262.7,857 254.6,855.6 270.2,855.3 260.4,861.4 234.6,858.4 227.2,849.6 224.4,854 262.1,859.4 254.1,823.1 246.2,867 218.1,856.7 266.5,859.4 253.6,860.1 216,826.1 266.3,844.4 259,862.7 230.6,842.5 245.9,859.4 241.5,842.8 224.3,834.2 225.1,862.9 226.4,866.6 244.8,857.3 217.2,856 233.2,865.4 258,864.6 255.3,864.4 248.1,863.8 249,864.4 244.3,854.9 269.5,858.3 233.9,860.1 268.3,862.5 249.5,864.5 225.5,852.7 244.2,826.9 263.9,864.1 267.7,854.7 226.8,861 226,864.7 230.6,865.9 269,843.8 240.8,851.8 251.8,867 222.9,839.9 226.9,849.5 270.9,852.3 267,865.6 255.5,859.4 231.6,856.6 264,854.1 227.9,847.5 216,860.4 219.6,858.5 220.3,866.5 253.4,863.2 258,865.4 230.2,864.4 271.1,863.4 227.3,860 260.1,861.4 242.7,861.2 248.4,864 239.4,863.7 226.9,865.2 227.5,865 222.9,863.1 269.2,866.4 231.8,867 271.3,855.8 256.4,865.2 227.4,861.8 252.1,862.6 242,846.4 228.9,842.2 269.1,863.5 229,865.7 254.3,853.2 252.9,842 269.9,857.6 217.6,838.8 234.2,862.5 244.5,850.1 242.3,863.4 263.6,853.2 229.7,846.5 235.9,848.4 229,859.8 227.5,858.2 247.1,866.6 267.5,863.3 257,856.1 233.5,861.9 235,834.3 245,864 228.1,858.4 236.1,845.4 248.5,860.5 254.9,864.1 223.6,866.5 223.7,851.2 225.8,866 229.3,860.9 263.8,859.7 268.6,862 242.9,854.5 235.1,850.7 248.8,865.4 237.5,850.7 251.3,848.8 258.3,857.8 232.8,864.4 247,863.8 242.4,843.8 262,865.6 223.9,861.8 218.4,863.8 241.8,850.3 264.1,867 219,865.1 238.9,836.7 235.4,862.8 229.8,867 233.8,862.8 216.7,865.9 244.4,859 252.9,853.7 251.8,864.7 269.6,855.8 229.1,856.9 240.3,866.6 254.6,861.6 220.2,860.8 266.2,860 240.8,860.7 219.7,865.2 221.6,860.1 247,864.3 222.6,857.8 217.3,857.8 234.4,866.6 248.9,858.3 266.5,859.2 271,864.1 234.9,865.6 255.5,856.4 255.9,864.4 214.8,833.1 215.5,862.8 224.2,818.8 219.4,863.8 264.4,865.4 249.4,862.8 240.5,865 242.8,864.2 260.1,866 264.2,866.9 219.7,861.2 235.8,865.2 224.2,835.7 253.5,851.4 225.4,820.6 245.5,842.9 217,864 259.9,838.4 243.9,855 233.5,854.5 218,858.5 238.8,865.6 260,864.7 237.7,857.2 228.1,866.4 236,857.7 243.9,851.2 235.4,844.3 265.8,856.9 264.6,866.5 238.2,864.4 249.8,848.7 243.9,856.2 254.5,863.7 225.2,836.8 245,861 232.7,846.4 250.9,832.9 260.1,858.9 247.6,862.2 264.2,844.3 242.8,865.4 217.3,861 265.4,866 240.8,865.5 252.6,863.9 249.5,865.5 245.4,865.5 264,859.9 237.6,847.9 229.5,864.1 235.4,861.4 235.2,855 230.3,859.1 231.2,866.8 271.1,863.2 213.2,856.6 233.8,849.6 228.8,846.8 268.5,866.8 213.8,861.7 213.5,857.8 243.5,861.3 241.4,862 218.3,863.3 238.2,862.2 261.1,862.4 249.8,865.7 260.5,859.3 213.4,844.6 248.4,861.8 214.3,864.7 214,862.5 223.8,861.9 218.7,822.7 245.1,866.9 249.6,831.1 215.2,843.3 266.9,857.4 242.7,857.9 226.5,862.3 250.5,857 242.2,857.9 229.6,859.7 267.4,866.4 242.8,855.9 227.1,858.7 231.7,863 224.7,856.7 235.8,846.2 260.2,854 248.5,846.9 223.7,824.7 248.9,863.6 260.7,852.9 218.7,851.9 221.2,862.8 249.6,851.3 255.3,854.2 213.7,865 216.1,862.9 269.5,841.5 220.2,863.9 265.6,867 270.1,842.3 248,861.5 237.1,866.4 228.6,866.3 254.4,867 213.5,866.6 267.9,866 256.4,866.9 217.6,866.8 250.4,865.7 218,867 239.3,866.8 227.6,865.7 257.4,866.7 223.1,867.1 223.8,865.8 237.5,866.8 225.7,866 239,865.8 220.4,865.7 231.2,867.1 234.9,866.9 232.4,866 223.7,866.3 253.2,866.6 246.9,866.6 231,866.7 227,865.9 269.9,866.9 239,866.6 259.4,867 247.8,866.1 227.3,865.8 245.5,866.5 227.8,865.9 258.5,866.4 243.4,866.2 238.9,866 256.7,866.9" stroke="none" fill="none" marker-start="url(#r5L)" marker-mid="url(#r5L)" marker-end="url(#r5L)"/>
<path d="M348.8 857.5h0M279.2 833.4h0M292.8 850.1h0M301.2 840.6h0M303 859.1h0M305.4 862.5h0M277 844h0M285.6 833.3h0M285.5 864.3h0M322.3 838.9h0M328.7 835.8h0M324.8 846.4h0M309.7 866.7h0M342 835h0M298 859.2h0M279.5 846.3h0M288.4 859.7h0M323.6 861.3h0M320.4 854.1h0M317.8 866.3h0M328.2 863.3h0M353.9 862.6h0M318.6 861.4h0M353.4 866.8h0M286.9 855.4h0M317.1 841.2h0M276 862.7h0M289 861.3h0M334.8 862.5h0M327.7 859.7h0M343.7 859.6h0M322.8 856.3h0M304.3 866.6h0M352.1 837.4h0M280.6 855.7h0M321.3 862.3h0M353.5 862.3h0M333.8 864.2h0M321.7 840.5h0M337.4 856.3h0M281.6 857.2h0M325.9 838.7h0M290.2 829.4h0M287 840.7h0M343.4 818h0M278.7 831.5h0M357.1 828h0M325.7 855.7h0M354.5 861.8h0M341.9 863.4h0M328.9 860.4h0M327.6 848.4h0M277.9 859.6h0M333.9 858.5h0M352.1 862.1h0M294.4 833.6h0M322.2 839.5h0M297.8 848.2h0M311.8 866.3h0M353.3 858h0M320 857.4h0M279.7 858.3h0M282.3 830.5h0M311.4 833.6h0M280.3 866.7h0M280.5 845.1h0M292.2 856.7h0M319.5 857.1h0M279.3 867.1h0M285.2 851.5h0M332.8 843.2h0M316 850.3h0M290.6 865.4h0M289.8 858.9h0M328.2 843.1h0M302 863h0M342 866.3h0M325.2 863.5h0M302.3 851.7h0M290.7 858.5h0M309 850.3h0M284.4 864.3h0M327.8 845.5h0M347.8 818.6h0M305.3 822.9h0M357.4 845.3h0M332.3 859.9h0M285.8 845.9h0M284.1 829.1h0M330.9 825.9h0M321.2 840.2h0M290.5 859.9h0M282.6 861.2h0M355.8 856.3h0M355.9 853.1h0M285 852.4h0M335.6 858.7h0M349.8 849.4h0M289.7 853.8h0M313.6 857.9h0M294.1 866.7h0M323.9 835.5h0M276.3 858.8h0M327.4 853h0M335.1 866.5h0M275.9 864.3h0M344.6 852.2h0M324.2 862.1h0M299.1 863.4h0M311.5 846.6h0M290.5 850.1h0M348.2 820.3h0M309.2 836.4h0M279.1 854.5h0M324.9 842.3h0M340.9 821.2h0M313.7 865.7h0M356.4 845.4h0M323.9 846.2h0M283.3 844.8h0M354 866.3h0M309.9 827.4h0M312.2 859.4h0M280.6 859.7h0M346.1 863.9h0M320.6 862h0M338.6 859.5h0M357.1 863.7h0M304.9 846.6h0M307.4 864.4h0M321.6 863.3h0M274.7 863.5h0M307.2 860.2h0M354.7 857.2h0M317 841.6h0M334.3 862.5h0M352.4 864.4h0M329 842.7h0M312.3 839.6h0M285.2 852.4h0M348.5 864.8h0M318.5 866.5h0M322.6 861.8h0M355.6 851.6h0M344.5 842.1h0M356.9 857h0M318 857.6h0M337.2 848.4h0M289.2 852.8h0M343.8 867h0M297.3 861.4h0M286.3 832.2h0M305 843h0M343.6 839h0M331.8 863.8h0M308.5 860.7h0M349.1 854.1h0M317.5 863.2h0M314.1 860.2h0M328.9 842.5h0M318.5 861.8h0M308.2 859.4h0M278 866.7h0M312.6 862.8h0M277.2 862.7h0M274.5 864.9h0M355 860.3h0M346.4 866.6h0M284.8 853h0M339.1 853.9h0M347.1 829.8h0M299.9 859.6h0M324.9 857.1h0M337.1 866.1h0M333.3 861.2h0M331.6 859h0M350.8 852.9h0M284.3 844.1h0M306.7 855.2h0M289.7 862.1h0M284.4 832.8h0M340.4 863.7h0M326.5 846.3h0M333.4 856.3h0M292.5 866.2h0M341.5 864.6h0M282 836.9h0M303 854.2h0M344.5 861.8h0M309.5 866.8h0M319.5 823.6h0M328.2 820h0M291.8 854.6h0M308.2 862.1h0M278.9 865.3h0M338.4 849.1h0M302.5 829h0M275.2 856.5h0M318.2 861.6h0M311.8 860.3h0M299.6 860.6h0M324.4 842.8h0M322.4 855.4h0M346 840.5h0M355.7 859.6h0M326.9 829.6h0M329 846.1h0M324.8 852.5h0M299.6 832.2h0M354 853.9h0M305.4 854.4h0M291.3 864.7h0M350.4 858.4h0M301.2 866h0M315.8 827.4h0M288.7 861.1h0M349 854.6h0M288.2 851.5h0M347 847.8h0M305.7 867h0M301.9 853.1h0M355.3 824.9h0M288 856.8h0M275.6 852.3h0M279.7 855.5h0M296.1 860.8h0M309.6 864.1h0M305.1 843.8h0M278.1 864.9h0M333.1 857h0M281.5 839.2h0M335.5 813.2h0M302.4 864.8h0M341 866.5h0M351.1 865h0M309.6 864.5h0M340 854.3h0M335.3 839.1h0M347.6 859.6h0M323.4 848.5h0M334.1 860.4h0M357.4 863.1h0M312.9 865.6h0M306.8 858.3h0M339.4 866.4h0M300.9 827.8h0M315.1 850h0M298.2 838.8h0M311 865.6h0M291.9 862.7h0M350.6 855.7h0M319.3 843.9h0M288.4 855.7h0M349.7 855.7h0M321.1 853.5h0M309.9 852.1h0M329 817.4h0M274.7 865.6h0M302.3 864.1h0M303.6 824.4h0M350.6 859.3h0M315.1 866.6h0M340.1 863.7h0M315.5 860.8h0M344.9 862.1h0M306.4 860.5h0M283.1 863.2h0M302.8 856.3h0M347.1 846.1h0M330 853h0M340 839.6h0M278 866.7h0M340.3 843.1h0M299.7 846.4h0M306.5 821.5h0M348.1 850.7h0M322.1 859.6h0M348.4 863.5h0M306.3 861.8h0M285.1 864.7h0M347.8 827.9h0M313.9 857.2h0M355.4 855.7h0M277.2 856.5h0M331.8 858.9h0M290.8 847.1h0M297.6 856.5h0M300.4 858.8h0M274.5 846.2h0M279.3 856.4h0M342.8 854.7h0M329.3 844.2h0M313 828.9h0M299.8 864.5h0M331.1 863.3h0M303.6 867h0M290.2 856.4h0M327.2 866.9h0M282.9 853h0M275.8 836.7h0M333.2 838.3h0M339 830.6h0M302.5 858.8h0M302.9 844.5h0M299.7 858.9h0M275.9 826.7h0M281 844.2h0M320.3 866.4h0M353.6 846.5h0M301.4 865.2h0M310.5 855.5h0M300 861.4h0M331.2 854.4h0M355 843.8h0M281.5 840.5h0M275.9 853.2h0M304.8 864.2h0M344.9 820.1h0M337.9 864.9h0M284.2 825.1h0M343.3 821.9h0M347.2 839.2h0M354.5 839.6h0M289.6 862.6h0M299.7 856.7h0M327.6 865h0M342.1 829.7h0M294.3 847.4h0M302 845.8h0M306.5 844.1h0M294.4 859.9h0M323.2 830.3h0M351.3 851.4h0M311.3 860.2h0M349.2 865.1h0M320.5 864.7h0M316.7 861.9h0M343.1 856.2h0M291.9 847.4h0M322.8 848.6h0M286.9 856h0M286.4 822.4h0M328.4 866.6h0M315.8 863.2h0M321.1 859.3h0M279.9 860.2h0M328.8 864.9h0M282.3 848.1h0M321.2 851.3h0M281.1 858h0M328.8 853.2h0M328.1 862.5h0M334.9 863.6h0M326.7 862h0M329.9 848h0M344 822.6h0M349.1 858.5h0M350.3 864.7h0M332.2 843.3h0M354.7 843.3h0M350.7 855.2h0M324.6 865.2h0M324.9 862.2h0M332.4 827.9h0M317.6 853.2h0M333.7 865.9h0M336.6 866.7h0M301.3 863.7h0M326.3 844.6h0M340.8 862h0M279.9 858.9h0M295.3 857h0M312.1 866.1h0M308.4 844.6h0M274.9 858.7h0M355.3 856.4h0M301.2 858h0M300.7 863h0M354.2 852.3h0M345.9 866.5h0M281.9 855h0M353.1 823.7h0M301.1 856.5h0M327.7 863.2h0M354.5 834.3h0M300.5 855.3h0M294.4 833.3h0M311.6 859.4h0M292.7 854.5h0M288.8 858.1h0M292.8 864.6h0M340.7 848.4h0M280.4 858.8h0M297.4 858.7h0M349.7 840.4h0M350.7 852.5h0M325 829.9h0M305.9 845h0M303.1 840.6h0M279 855h0M311.4 841.5h0M310.9 837.3h0M337 840.5h0M316.4 865.7h0M332 865.7h0M278 866.8h0M310.6 866.2h0M292.6 866.7h0M292.6 865.6h0M345 865.7h0M281.9 866.4h0M336.8 865.9h0M283.8 865.7h0M322.1 866.3h0M302.3 865.7h0M300.6 866.5h0M303.3 866.6h0M331.4 866.1h0M306.8 866.8h0M283.1 866.1h0M335.2 866.9h0M303.3 867h0M283.1 866.1h0M337.8 866.8h0M314.7 866.5h0M319.1 866.1h0M278.3 866.6h0M355 867.1h0M300.2 866.9h0M327.2 866.8h0M295.6 866.5h0M319.9 866.5h0M290.1 867h0M286.5 866.1h0M275.6 865.8h0M298 866.6h0M347.1 866.3h0M288.3 867h0M348.9 866.3h0M292.3 866.2h0M289.6 866.6h0M301.1 866.1h0M308.5 866.6h0M285.9 866.7h0M300.4 866.3h0M293.1 867h0M328.8 866h0M321.8 866.1h0M292.8 866.9h0M290.3 865.7h0M326.4 866h0M354.2 866.1h0M307.4 866.6h0M320.4 866.4h0M287.9 866.9h0M294.5 866.3h0M343.5 866.7h0M331.8 865.8h0M357.5 865.7h0M309.9 865.9h0M305.4 866h0M281.8 865.9h0M343.2 867h0M297.2 866.1h0M284.3 865.9h0M318.4 866.6h0M299.3 865.8h0M316.1 866.2h0M291.6 866.1h0M350.6 866.8h0M338.8 866.7h0M356.3 866.9h0M350.5 866.3h0M274.8 865.7h0M356.6 866.9h0M353 866.5h0M335 865.8h0M282 866.7h0M333.9 866.1h0M330.9 866.9h0M297.8 866h0M275.7 866.1h0M357.6 866.4h0M326.2 866.3h0M274.8 867.1h0M326.7 866.6h0M321.8 865.7h0M318.5 865.8h0M347.5 866h0M353.1 866.2h0M329.1 866h0M329.5 866.7h0M286.5 865.7h0M274.1 867.1h0M343.1 866.4h0M294.6 866.8h0M305.3 865.8h0M278.2 866.7h0M299.9 865.7h0M278.8 865.7h0M334.5 865.9h0M299.4 866.9h0M329.2 866.8h0M335.6 866.3h0" stroke="#9252b6" stroke-width="3.8" stroke-linecap="round" fill="none"/>
<path d="M293.3,825.4 289,831.2 303.5,844 311.6,851.3 333.2,851 303.5,846.5 354.9,849.7 337.1,855.8 309.9,833.9 343.4,849.6 314.8,863.2 342,866.7 278.6,863.5 356.1,854.9 299.4,856.6 308.2,860.3 329.8,839.4 332.9,855.8 293,846.1 337.7,857.6 315.4,866 292.4,864.9 336.5,839.4 295.4,833.2 319.8,865.1 345.7,866.1 314.8,866.2 347.8,847.8 314.5,853.8 309.4,839.1 304.6,860 321,862.6 297.6,830.4 344.6,852.5 350.1,857.9 348.2,852.2 307.7,858.5 282.6,834.8 308.6,858.6 300.9,848 330.5,863.6 351.6,862.7 299.5,830 290.1,848.4 288.1,866.2 292.2,860 304.6,831.5 277.4,859 290.7,861.4 302.5,848.7 282.1,862.6 285.8,863 302.5,855.1 328.3,866.7 311.1,861.3 327.3,854 352.7,841.3 338.3,853.4 328,859.4 281,833.8 308.3,862.3 347.4,862.7 350.6,839.6 312.9,861.7 285.6,840.9 325,861.4 318.7,856.7 300.4,840.8 328.3,864.2 285.3,860.5 333.7,827.4 340.3,841.1 304.7,861.7 307.4,842.9 350.4,850.5 309.7,837.1 342.9,863.3 344.1,838.5 317.6,834.1 282,859.8 288.3,839.2 311.5,856.8 290.9,849.5 337,859.2 300.7,845.5 316.8,857.6 334,866.8 341.3,860.8 289.4,857.9 334.3,859.1 292.6,859.8 310.3,859.1 294.4,846.2 336.9,843.2 348.8,845.6 340.5,858.4 353.3,858.5 302.1,860.2 323.3,860.4 332.9,865.9 334.4,843.6 353.2,842.6 349.4,863.6 283.4,848.4 335.1,849.5 335.8,864.9 330,858 277.9,851.8 301,853.6 277.7,866.7 314.3,839.9 349.3,858.1 329.3,832.4 357.2,847.4 349.2,862.9 299.6,841.9 296.1,860.3 336.4,865.7 326.7,862.6 341.9,863.8 341.7,838 291.6,829.7 329.7,828.7 287.7,855 332.3,862.1 295.9,861.4 341.3,860.2 338.4,843.7 347.5,826.2 323.2,862.8 341.8,849.8 328.8,862.1 319,863.7 332.2,842.2 287.9,853.5 334,854.1 310.3,841.7 306.1,824.7 289,864.6 289.7,853.6 274.2,866.3 317.9,828.7 342.7,829.9 281.2,859.7 313.6,861 308.1,859.9 329.3,862.8 289,862.7 339.3,855.9 289.4,866 296.6,842.2 353.4,860.4 283.3,863.1 285.3,853.8 279.6,847.8 307,838.5 350.1,857.7 341.7,844.2 334.9,860.1 275.5,864.6 300,857.6 348.6,865.7 334.5,860.1 322,866.9 314.7,824.5 335.6,851.3 333.4,828 341.1,859.8 304.2,864.3 319.7,861.8 347.7,843.1 320.9,856.1 306.8,860.3 355.8,864.3 319,844 307.8,855.7 297,854.3 322.2,856.6 302.4,860.9 312.2,856.6 303.7,833.5 324.6,834.3 281.9,833.4 275.8,826.7 296.8,835.8 278.4,857.3 280.3,862.5 341.9,831.5 316.7,839.4 326.2,864.9 278.5,862.8 308.3,863.9 352.7,860.1 285.7,864.6 285,849 323.7,848.9 347.4,851.1 318.9,842.2 325.1,856 304.9,856.2 331.9,842.3 319.2,860 286.8,858.5 323.9,861.7 345.8,863.2 321.1,861.4 336.5,851.8 343.8,841.5 286.2,843.1 303.2,866.5 326.3,863.9 285.6,844.1 356.1,864.6 343.1,829.7 338.6,862.9 343.9,828.6 316.2,857.6 321,858.2 350.1,839 351.1,865.1 342.6,863.4 343.3,862.1 301.2,846.9 331.5,855.1 342.3,866.2 342,840.5 277.9,821.4 331.2,851.7 321.6,840.9 320.5,843.2 306.9,833.2 286.8,858.5 278.8,864.8 309.9,858.7 298.7,866.7 353.5,835.8 288,843.2 298.7,841.5 325.8,847.1 326.6,838.9 305.8,855.9 351.6,840 311.5,856.4 342.5,858.7 356.2,858.1 345,842.5 356.7,864.1 301.3,865 339.9,863.5 316.9,847.9 303.6,860.7 289.6,862.9 355.4,841.1 324.7,848.3 308.8,856.3 332.5,844.3 341.5,851.4 344.8,866.9 326.9,862.5 334.9,860.2 302,862.1 303.2,846.8 294.7,826.9 315.8,866.4 338.5,853.9 342.2,866.7 336.4,828.8 347.3,850.4 303.1,849.4 342,866.1 327.4,824.2 281.8,860.2 348.5,859.7 350.1,845.2 289.5,860.9 293.9,865.4 355.6,849.5 313.1,860.8 337.5,853.8 301.7,861 289.9,863.5 327,865.1 308.5,843.2 331.5,846.6 282.8,863.8 338.3,854.3 322.9,864 347,864.5 305.2,857.7 283.5,859.7 347.4,834.8 350.8,861.9 299.4,862.6 357.6,865.9 320.5,837.8 343.2,863 291.7,830.9 338.1,866.1 282.3,865.2 305.6,826.4 286.2,861.6 353.9,848.6 303.3,851.2 296.5,851 307.2,851.6 325.5,859.3 316.4,863 288.7,848.3 306.8,867 318,848.5 356.8,856.8 331,863.9 323.9,865.6 312.6,861.2 309.7,830.5 343.4,831.2 295.1,860.7 320.7,832.8 327.9,849.4 295.3,863.5 357.6,857.2 332,822.4 327.1,814.5 357.5,866 353.6,852.5 327,859.2 333,846 287.6,858.2 305.7,822 331.3,844.1 329.6,866.5 289.9,856.8 280.6,851 275.9,846 311.4,860.5 279.8,866.6 339.6,865.9 276.7,866.1 292.2,866.7 300.7,866 340.8,866.5 357.3,865.7 315.5,867 292.1,866.7 331.8,866.7 310.5,865.9 294,866.7 308,867 326.8,865.7 342.3,866.9 350,866.8 284.8,866.2 329.7,866 323,866.7 326.1,866 306.4,866.7 284.4,865.7 319.9,866.2 287.1,866.2 307.1,866.4 347.5,866.6 295.8,865.9 306,866.2 328.9,865.7 291.7,865.8 346.4,865.9 295.9,865.7 276.8,865.7 352.9,866.3 280.8,866.9 285.6,865.6 280.7,867 313.2,866.6 336.7,866.9 306.3,866.9 280.7,866.3 295.9,866.4 289.1,866.5 289,866.3 351.7,866.8 354.5,866.4 322.4,866.6 331.5,866.7 291,866.7 321.1,867 334.7,865.7 314.7,866.2 357.3,866 292.2,867 326.2,866.4 338.5,866 354.7,866.5 296,865.9 335.5,866.1 303.6,866.2 296.2,866.9 350.6,865.9 314.8,866.7 346.4,865.7 282.3,866.9 352.9,867 324.2,866.5 355.5,866.2 314.3,867 354,866.9 290.1,866 318.6,866.1 335.4,865.8 342.7,865.8 341,866.5 325.7,865.9 353.5,866 311.3,866.6 349.3,866.4 307.6,866.3 322,866.5 309.4,866.4 344.9,866.8" stroke="none" fill="none" marker-start="url(#r6L)" marker-mid="url(#r6L)" marker-end="url(#r6L)"/>
<path d="M362.7 865.1h0M364.7 853.8h0M362.5 865.3h0M362.2 861.9h0M362.1 862.7h0M362.7 865.6h0M360 863.5h0M362.5 865.3h0M364.6 866.8h0M361.7 853.3h0M364.6 865.6h0M361.9 861.3h0M360.7 855.3h0M362.5 865.7h0M360.8 865.4h0M362.3 866.7h0M362.7 865.7h0M362.2 852.8h0M360 866.5h0M364.7 866.5h0" stroke="#c9e58d" stroke-width="3.8" stroke-linecap="round" fill="none"/>
<path d="M363.9,865.6 361.9,856.2 364.5,859 364.2,853.2 361.8,861 364.7,853.9 362.2,856.4 361.8,851.8 363.2,862.6 363.2,858.1 361.7,866 363.6,867 362.7,866.8" stroke="none" fill="none" marker-start="url(#r7L)" marker-mid="url(#r7L)" marker-end="url(#r7L)"/>
<path d="M370.3 853.2h0M374 860.4h0M368 857.7h0M372.4 861.1h0M370.5 854.8h0M372 859.6h0M370.9 858.1h0M369.3 853.3h0M378.2 856.4h0M368.2 837.9h0M372.7 866.8h0M368.4 843h0M368.7 862.6h0M368.1 856.5h0M379.6 847.2h0M371.4 866.1h0M369.9 861.8h0M368.5 865.4h0M373.6 864.9h0M379.2 857.6h0M370.8 834.1h0M379.6 854.4h0M374.9 862h0M374.8 847.7h0M371.6 865h0M367.7 830.8h0M370.1 860.7h0M370.3 833.9h0M374.6 848.5h0M375.6 845.7h0M373.1 864.9h0M377.2 860.9h0M369.1 839.8h0M378.8 859.9h0M374.5 866.8h0M378.2 838.5h0M370 860.3h0M375.9 847h0M370.7 848.6h0M375.9 836.6h0M373.7 862.7h0M368.3 865.2h0M375.3 857.4h0M377.6 864h0M370.2 861.1h0M375 862.9h0M378.9 851.6h0M373.4 864h0M375 861h0M379 860.8h0M375 851.3h0M376.8 858.2h0M370.6 844.9h0M374.4 862.5h0M368.1 862.9h0M377.4 847.5h0M376 863.5h0M370.8 828.6h0M373.4 845.6h0M376.6 846.7h0M368.1 827.8h0M372.3 827.3h0M373.4 861.3h0M379.4 857.4h0M373.9 859.5h0M379.4 861h0M374.6 852.8h0M373.1 863.5h0M376 848.8h0M375.5 856.7h0M369.3 854.7h0M373.9 840.9h0M371.8 862.8h0M368.1 854.4h0M378.9 837.2h0M378.4 855.2h0M372.9 829.8h0M374.5 851.7h0M374.4 866.7h0M378 854.2h0M371.6 855.5h0M370.5 866.4h0M374.5 865.7h0M368.7 867.1h0M369.1 866.2h0M371.6 865.9h0M368.3 867.1h0M375.3 867h0M367.3 865.9h0M375.9 865.9h0M369.9 866.8h0M369.4 867h0M373.1 866.6h0" stroke="#e8418f" stroke-width="3.8" stroke-linecap="round" fill="none"/>
<path d="M375.4,849.7 370.3,864.4 378.7,857.2 371.4,866 371.6,835.3 368.6,861.1 378.8,862.4 370.3,863.8 375.4,862.1 375.8,864.6 372,860.9 378.5,864.6 373.1,865.3 370.1,865.9 368.5,862.9 376.2,862.7 377.3,844.5 372.5,854.7 368.9,867.1 374.8,865.3 376.6,844.9 379.3,854.8 376.8,865.1 378.9,862 370.5,859.9 370.5,859.7 370.6,853 379,843.3 368.9,865.3 367.8,857.4 372.7,845.6 368.5,861.7 372,862.4 367.4,861.5 378,864.7 370.5,857.1 377.2,857.7 367.2,866.5 375.6,844.3 372.2,854.5 379.6,861 370,840.3 373.1,843.9 375.4,854.1 374.1,836.4 371.2,847.8 378.4,852.8 368.9,860.5 377.6,861 378.7,838.5 378.1,850.2 374.6,863.1 369.9,846.3 368.7,856.7 367.4,852 372,866.9 369,866.9 371,832.6 376,849.7 373.1,861.7 376.3,849.5 369.5,848 374.1,866.5 376.4,864.3 378.3,846.9 372,853.6 372.1,832.6 378.6,856.1 378.1,852.8 375.9,857.6 370.6,851.2 375.9,859.8 371.3,851.4 371.4,844.4 378.2,830.2 373,859.1 376.6,860.9 377.2,866.6 375.7,866.7 372.6,866.8 378.6,866.4 375.7,866 370.3,865.9 377.2,866.7 378.8,867 378.9,865.8 372.4,866.1 369.1,865.8" stroke="none" fill="none" marker-start="url(#r9L)" marker-mid="url(#r9L)" marker-end="url(#r9L)"/>
<path d="M398.1 862.8h0M399.1 855h0M383.5 863.6h0M397.2 861.6h0M395 864h0M384.7 859.3h0M400 852.1h0M400.2 851.4h0M392.5 861.5h0M389.7 866.3h0M401.2 856.6h0M401.9 855.6h0M395 850.4h0M384.1 866.6h0M391.5 855.6h0M386.9 857.7h0M395.5 859.6h0M389.8 857.3h0M386.6 860.1h0M390.7 846.5h0M399.1 864.5h0M394.5 864.6h0M388.4 855.5h0M401.5 866.5h0M392.5 867h0M387.2 853.8h0M402.7 860h0M391.3 861.3h0M382.5 856.6h0M397.1 858.9h0M384.3 859.7h0M402.1 865.4h0M388.4 846.9h0M397.2 861.1h0M391.6 849.5h0M400.6 853.6h0M401.2 866.3h0M386.6 855.9h0M402.8 856.7h0M382.7 866.4h0M387.7 863.2h0M384.2 854.3h0M384.1 864.4h0M394 867h0M395.1 867h0M398.3 866.3h0M396.6 866.9h0M402.6 866.8h0M393.9 865.9h0" stroke="#e6bcdf" stroke-width="3.8" stroke-linecap="round" fill="none"/>
<path d="M398.3,860.8 393.3,866.7 396.7,860 384.4,856.5 394,865.5 389,851 400.1,866.7 393,863.8 398.2,863 390.4,866.3 401,859 388,855.5 401,859.9 399.8,857.2 402.7,866 390.4,858.7 391.4,862.9 398.9,847.4 383.4,860.8 400.4,863.4 402.5,854.2 392.2,842.4 390.4,850.6 390.1,854.7 388,866.3 398.3,865.2 389.2,857.5 390.1,866.8 397.8,848.5 383.3,861.9 396.9,854.2 397.9,865 393.3,861.8 393.8,849.8 387.5,867 399.9,863.2 391.7,850 400,861.5 391.5,851.2 400.7,861.8 391.6,850.7 384.4,864.6 394.9,855.2 396.6,855.7 400.2,853.6 394.5,849.8 389,866.7 387.5,863.1 384.9,847.5 400.5,860.7 384.9,853.6 392.8,858.2 397.2,861.6 399.6,859.1 399,857.2 393,865.1 395.3,866.3 383.1,854.3 386,867 400,865 389.9,846.9 395.4,865 400.2,859.3 402.3,861.6 395,864 391.9,862.4 384.9,864.7 393.2,867 394.1,863.3 383.1,860.7 390.5,865.2 400.5,861.6 391.5,864.4 393.7,857.4 390.3,866.8 394.1,859.3 383.9,859.7 399.6,854.8 392.3,864.2 386.3,862.7 386.5,858.2 400.7,864 382.3,858.8 382.3,866.5 395.1,866.7 390.5,866.9 388.8,866.1 399.3,866.1 385.5,866 394.5,866.8 392.4,867 390.8,865.9 400.3,866.9 384.7,866 400.4,865.7" stroke="none" fill="none" marker-start="url(#r10L)" marker-mid="url(#r10L)" marker-end="url(#r10L)"/>
<path d="M408.4 849h0M411.8 860h0M416.3 864.2h0M420.4 857.9h0M423.1 865.4h0M410.5 858h0M409.8 862.5h0M414 849.1h0M408 855.5h0M408 862.1h0M406.1 853.1h0M415.7 860.2h0M414.6 863.1h0M410.8 855.7h0M422 859.1h0M405.3 855.3h0M417.6 862.9h0M413.3 856.6h0M421.6 861.4h0M407.5 867.1h0M405.7 849.8h0M411.3 850.7h0M405.4 856.2h0M409.5 855.4h0M423.2 850.6h0M410.9 856.3h0M413.4 863.2h0M410 861.8h0M417.6 865.2h0M415.9 860.2h0M423.2 867.1h0M413.9 855h0M414 861.5h0M423 862.4h0M412.8 853h0M408 866.5h0M412.3 855.8h0M413.1 848.1h0M414.5 858.3h0M420.9 851.3h0M420.5 852.4h0M409.8 866.2h0M415.4 856.9h0M419.1 859.7h0M420.2 855.7h0M405.4 855.9h0M422.3 863.1h0M422.3 854.2h0M417.7 866.5h0M407.3 861.4h0M407.8 845.2h0M420.4 866.9h0M418.4 853.9h0M422.7 861.9h0M413.4 849.6h0M412.6 856.5h0M420.9 862.5h0M420.9 850.1h0M416.2 864.5h0M421.2 858.2h0M410.6 849.6h0M409.6 854.8h0M418.9 866.3h0M410.8 865.8h0M407 866h0M419.1 866.1h0M412.8 866.9h0M416.5 866.4h0M411.8 866.2h0M419.6 866.1h0M420.5 866.9h0" stroke="#213fa0" stroke-width="3.8" stroke-linecap="round" fill="none"/>
<path d="M410.6,853.6 418,866 409.5,861.8 416.2,856.4 415,859.8 419.5,858.9 405.3,850.1 411.7,867.1 413.1,848.3 422.1,863 408.6,866.9 417,862.8 414.9,860.8 410.2,858.2 413.4,856.7 421,850.4 422.1,854.3 422.2,866.2 408.3,856.6 417.7,854.5 416.6,863 418.9,864.2 423,859.6 417.2,866.7 408.7,858.7 409.6,867.1 418.7,857.3 420.2,860.4 411.5,851 416.1,852.1 417.4,863 407.8,847.5 417.5,863.1 406.1,851.4 421.1,854.1 406.1,867 417.1,857.9 413.9,856.4 420.3,862.9 410.2,861.1 420.8,859.6 415.4,865.6 422.3,852.2 412.9,864.1 413.7,856.4 411.9,855.8 413.4,857.4 406.7,850.8 409.3,859.9 416.1,859.8 413,864.1 406.2,857.5 410.7,851.1 408.8,854.5 407.9,857.6 423.2,862.5 422.4,862.8 423.4,850.6 418.3,866.3 411,856.8 423,854.9 416.2,866.9 414.8,866 418,866.3" stroke="none" fill="none" marker-start="url(#r11L)" marker-mid="url(#r11L)" marker-end="url(#r11L)"/>
<path d="M429.5 862.3h0M429.8 863.2h0M428.7 860.7h0M427.3 857.8h0M426.2 852.4h0M430.4 866h0M429.7 856.6h0M428.3 853.7h0M428.9 866.2h0M430.7 852.3h0M427.4 852.7h0M429.8 858.7h0M427.1 854.8h0M428.6 866.3h0M429.4 862.2h0M431.8 857.6h0M428.3 842.3h0M427.5 852.5h0M430.4 852h0M428.8 850.8h0M428 851.3h0M427.8 850.1h0M427.3 860.3h0M429.7 862.5h0M427.9 843h0M426.1 866.4h0M426.9 859.9h0M426.8 854.6h0M429 848h0M431.7 849.7h0M431.6 848.4h0M428.1 866.6h0M427.7 864.4h0M426.1 862.8h0M431.7 865.2h0M427.4 848.5h0M431.8 865.7h0M430 865.8h0" stroke="#8d5a2c" stroke-width="3.8" stroke-linecap="round" fill="none"/>
<path d="M426.2,857.5 428.5,863.3 426.3,843.7 429.5,848.7 426.7,852.2 426.4,852.4 430.1,853.7 429.7,864.6 429.5,856.2 426.2,843.9 425.8,842.9 428.7,853.8 429.6,848.5 431.6,855.5 429.3,850.7 431.7,859.1 431.2,863 430.9,850.3 431.7,867.1 430.5,851.2 429.4,857.8 429.2,866.2 430.1,867.1 429.9,865.9" stroke="none" fill="none" marker-start="url(#r14L)" marker-mid="url(#r14L)" marker-end="url(#r14L)"/>
<path d="M440.1 856.9h0M441.4 866.7h0M437.6 840.5h0M434.9 866.6h0M449.1 859.2h0M435.6 840.7h0M442.4 862.1h0M450.9 839.3h0M453.5 847.8h0M453.6 849.3h0M456.2 859.3h0M446.7 845.1h0M440.1 858.9h0M442.1 830.9h0M448.3 861.2h0M438.7 859.3h0M449 850.4h0M447.1 863.6h0M456.9 861h0M443.8 859.2h0M442.3 860h0M457.6 853.2h0M448 851.9h0M455 861.8h0M450.3 864.1h0M446.7 859.7h0M442.4 840.7h0M447.4 855.4h0M437.3 855.3h0M451.5 865.9h0M455.6 865.9h0M456.4 866.7h0M439 865.6h0M459.2 866.4h0M456 866.8h0" stroke="#d386c8" stroke-width="3.8" stroke-linecap="round" fill="none"/>
<path d="M459.7,837.9 458.4,852.6 435.6,861.3 437.6,866.3 443,853.3 452.7,858.6 446.6,854.2 443.3,858.7 456.3,848.8 452.9,866.2 442,858.4 446.5,851.7 445.5,851.5 447.2,866.2 440.3,866.5 455.5,859.4 453.9,833.5 438.7,861.7 440.7,846.6 453.1,829.7 456.6,856.8 442.6,864.9 452.4,865.8 434.7,864.3 451,863.6 456.8,860.4 452.7,864 438.7,866.4 449.1,852.3 457.4,865.3 439.1,855.7 451.5,847.5 449.5,860 435.1,863.5 443,864.6 455.2,836.3 443.6,865.6 440.5,829.5 458.6,830.8 434.6,865.8 440.2,855.3 446.4,862.4 434.3,831 435.8,864.1 443.3,866.9 450.5,845 451.7,845 444.5,846.6 452.5,835.2 446.1,849.8 436.6,843.3 446.1,845.3 434.7,865.8 441.9,838.9 434.5,831.6 449.8,845.1 437.9,831 451.5,840 455.8,866.5 453.5,848 449.3,851.6 443.9,862.6 457.2,860.9 443.8,852.1 434.8,862.4 456.9,858.2 435.7,858.3 457,832.7 456.6,864.7 453.2,858.9 445.7,854.9 450.3,826 452.7,841.2 456.4,862.2 447.6,855.9 438.7,859.9 459.9,850.3 458,859.5 457.4,857 445.7,846.6 437.8,850.5 458.6,866.9 449.6,855.7 435.4,860.6 452.3,847.1 457.3,856.2 440.3,850.3 450.1,860.3 442.9,864.5 447.7,860.4 440.4,850.5 442.1,835.7 435.8,861.2 439,865.7 456.6,848.3 453.2,863.9 439,866.3 440.2,866.6 455.5,853.8 458.7,851 436.8,865.6 453.9,850.2 449.7,849.5 443,856.9 451.6,832 445.7,855.5 458.1,863.6 443.9,864.3 447.1,858.2 439.4,860.4 446.8,866.2 441.7,858.4 446.3,864.9 447.1,839.2 445.7,865 437.6,864.2 453.7,831.9 438.8,866.5 453.2,864.8 441.8,837.3 442.7,862.3 444.1,859.5 447.6,863.3 450.8,848.6 438.2,847.6 440.7,841.7 453.3,842.6 445.3,854.8 444.9,863.7 450.9,857.9 446.8,862.5 441.6,858.4 436.9,858.4 448.3,863.8 449.8,837.7 439.6,860.7 455,860.5 438,830.1 434.9,848.1 442.6,841.8 453.2,857 458.9,847.8 436.8,849 445.7,865.1 436.9,849.7 455.3,863.7 445.2,843.9 435.3,842.2 434.6,861.4 443.7,863.9 444.1,860.6 450.9,858.6 434.8,843.2 442.3,857.6 456.5,849.6 439.5,864.3 440.4,842.6 442.2,846.2 456.5,846.1 435.6,856.4 453.5,861.3 449.5,842.6 444.9,851.7 453.7,854.9 455.7,865.8 447.4,866.5 438.4,866.7 443.1,866.9 435.5,866.8 439.7,866.2 458,866 434.6,866.9 457,866.2 452,866.9 454.3,866.8 441.7,866 455.6,865.8 443.2,866 451.4,866.2 457.4,865.8 452.9,866.4 459,865.9 446.9,866.3 458.2,866.9 455.4,866.7 444.7,867" stroke="none" fill="none" marker-start="url(#r15L)" marker-mid="url(#r15L)" marker-end="url(#r15L)"/>
<path d="M472.5 862.1h0M469.2 855.3h0M470.3 849.1h0M473.6 852.8h0M466.6 865h0M466.1 861.8h0M463 861.7h0M463.7 854.3h0M465.4 866.2h0M469.3 864.1h0M465 863h0M470.6 857.7h0M471.6 861.6h0M467.3 860.6h0M464.5 864.8h0M468.9 860.3h0M472.9 866.2h0M469.4 855h0M465.6 864.1h0M465.1 847.8h0M465.7 860.7h0M471 853.9h0M473.6 865.2h0M462.7 858.7h0M466.7 866h0M467.9 853.8h0M468.5 851.9h0M469 849.9h0M467.3 864.2h0M463.5 857.4h0M464.9 854.2h0M468.6 861.3h0M471.3 866.9h0M470.6 854.5h0M469.4 859.9h0M473.4 860.6h0M465.5 860h0M471 862.7h0M468.4 864h0M463.7 863.5h0M466 846.4h0M473.1 866.6h0M472.4 865.8h0M468.6 851.5h0M466.2 861.9h0M470.6 859.7h0M469 867.1h0M466.4 851.8h0M473 854.8h0M470.8 855.1h0M463.9 855.6h0M466.9 858h0M469.5 848.3h0M470.6 858.3h0M468.7 865.8h0M463.9 867h0M470.6 866.6h0M472.2 867h0M467.7 866.3h0M473.1 866.4h0M465.7 866.2h0M464.6 866.2h0M465.1 866.9h0" stroke="#a6d645" stroke-width="3.8" stroke-linecap="round" fill="none"/>
<path d="M471.1,846.7 470.9,867 464.4,853.2 469,861 469.2,866.3 473.2,849.6 471.3,861.2 472.4,864.1 467.5,860.9 473.7,863.4 463.6,856 464,850.5 472.2,861.4 473.4,859.2 468.4,866.1 462.7,864.4 471.3,866.9 466.2,856.8 473.8,862 473.5,855.1 468.5,859.1 466.9,862.8 465.4,862.5 469,847.9 467.6,852.6 471.1,852.1 466.9,854.2 465.7,853.4 470.3,855.3 470.2,846.6 463.1,850.4 472.6,850.8 463.7,860.8 468.8,865 472.3,851.1 466.9,848.6 472.9,862.2 470.3,864.1 467,846.8 468.9,862.5 469.1,866.3 467.4,852.1 466.8,847.5 467.9,863 467.8,866.8 469.2,866.7 465.8,866.1 470.1,865.7 470.9,866.3" stroke="none" fill="none" marker-start="url(#r16L)" marker-mid="url(#r16L)" marker-end="url(#r16L)"/>
<path d="M489.9 844.8h0M490.1 863.5h0M482.9 858.5h0M488.6 851.1h0M484.1 862.6h0M487.9 849.6h0M480.6 850.5h0M481.8 866.6h0M488.4 858.9h0M480.6 857.4h0M490.5 855.4h0M485.8 862.5h0M486.6 867h0M490.7 856.8h0M483.4 850.1h0M483.1 862.2h0M483 850.9h0M486 849.8h0M488.6 859.8h0M485.2 850.3h0M487.8 865.8h0M482.2 849.8h0M482.6 845.2h0M480.9 864h0M487.8 866.1h0M484 855.6h0M490.3 858.1h0M486.2 846.2h0M484.4 866h0M485.7 850.1h0M486.4 836.5h0M482.4 858.5h0M482.2 861.1h0M487.1 866.1h0M481.8 854.6h0M487.2 866.5h0M487.9 851.5h0M484.3 857.7h0M489.7 854h0M485.8 862.8h0M486.7 865.3h0M483.3 854.8h0M485.9 843.7h0M488.9 866h0M487.8 851.5h0M482.2 848.3h0M485 845.8h0M488.1 851.1h0M481.3 856.8h0M488.1 865.3h0M486.7 865.9h0M483.8 867.1h0M480.7 866.6h0M481.9 866.3h0M483.3 866.9h0M486.4 866.4h0" stroke="#d7c27a" stroke-width="3.8" stroke-linecap="round" fill="none"/>
<path d="M485,841.4 489.3,838 485.9,860.1 490,845.7 490,859.7 486.3,840.6 484.3,855.1 481.3,852.9 482.3,866.3 480.8,857.5 481.5,859.8 485.7,838.7 482.4,859.1 489.3,864.9 483.3,855.6 481.6,854.4 486.7,865.7 485.6,862.2 483.5,858.1 485.8,836.9 488.9,849 488.8,852.6 481.9,864.5 483.8,865.5 486.3,844 488,860 483.4,842.5 485.4,856.3 484.6,851.1 484.6,848.9 483.5,863.2 486.6,841.8 487.2,845.7 486.1,856.8 483.9,855.3 483,842.6 488.1,844.9 485.4,853.5 485.6,854.5 483.4,858.3 485.2,842.5 482.1,866 490.1,846.1 485.1,845.6 488,843.9 482.3,856.6 485.6,860.1 485.9,862.1 488.3,840.6 484.3,855.5 489.4,844.6 486.2,847.3 482.7,847.4 489.3,839.1 487.6,854.5 481.5,865.4 489.6,861.7 482.7,842.1 490.1,866.1 481.1,854.3 484.5,858.1 485.2,851 489.5,860.7 482.2,862.1 480.3,861.8 487,850.7 481.1,864.8 485.8,863.9 487.6,861 490.1,856 487.7,865.7 482,838.8 487.6,856.6 484.5,850 487.5,846.9 482.8,842.6 488.3,854.6 482.8,848.4 488.6,861.7 490,858.9 489.5,861.9 483.9,861.2 487.7,861.8 483.7,855.6 482,866.5 489.9,867 489.3,865.8 482.5,866.6 484.2,866.5 489.5,865.7 488,866.5 485.8,866.6 483.6,866.5 489.4,866.8 486.6,865.7 485.1,866.8 484.5,866.8 487.5,865.8" stroke="none" fill="none" marker-start="url(#r18L)" marker-mid="url(#r18L)" marker-end="url(#r18L)"/>
<path d="M498.6 857h0M497 845.4h0M497.4 866.2h0M501.7 864.8h0M499.3 853.7h0M500.7 864.6h0M499.1 862.6h0M496.4 841.3h0M499.3 860.4h0M500 842.3h0M501.6 861.9h0M497.3 862.3h0M498.2 846.6h0M495 863h0M496.5 853.4h0M501.2 845.5h0M500.9 857.5h0M500 851.8h0M494.1 856h0M499.8 849.7h0M500.7 846.8h0M500.4 863.2h0M498 861h0M494.1 865.3h0M500.8 855.8h0M499.3 857.7h0M495.7 841.3h0M497.3 863.4h0M499.8 852h0M500.7 852.7h0M499.2 859.8h0M495.9 859.8h0M496.6 861.7h0M497.1 845.7h0M500.7 848.3h0M493.8 862h0M493.8 860.9h0M493.8 866.3h0M499.9 866.1h0M498.6 866.2h0M494 864.6h0M497.8 846.3h0M497.3 847.3h0M498.1 852.9h0M494 853.7h0M498.3 857.9h0M495.6 854.7h0M500.8 861.3h0M500.6 852.4h0M499.9 848.8h0M501 843.4h0M496.6 842.9h0M498.3 853.2h0M498.7 845.4h0M499.3 859.1h0M500.7 852.8h0M494.3 861.1h0M499.6 866.6h0M496.7 856.7h0M496.4 863h0M501 864.9h0M497.7 858h0M499.9 847.6h0M501.7 866.6h0M495.4 866.2h0M499.9 866.5h0M494.1 866.6h0M496.3 866.2h0M501.3 866.6h0M498.2 866.5h0M500.3 865.9h0M498.7 867h0" stroke="#ee3636" stroke-width="3.8" stroke-linecap="round" fill="none"/>
<path d="M495,855.8 495.4,857.5 494.8,860.5 498.9,844.8 497.3,866.7 500.6,861 496.2,853.4 497,862.6 500.8,853.4 496.9,850.6 500.3,860 501.2,853.5 501.8,860.1 499.9,854.5 498.2,847.7 498.9,846.5 496.6,847.7 497.1,857.8 494.3,848.9 497.7,855.7 496.4,860.2 500.9,858.4 494.7,863.9 501.5,853.7 496.8,867 495.7,848.7 501.2,851.8 498.7,846.4 498.9,864.8 500.6,851.3 498.4,844 497,853.6 499.4,859.3 497.4,851.9 495.4,866.4 495,866.8 493.3,853.5 497.3,865.7 495,866.6 494.5,866 499.4,865.8 497.6,865.9 499.7,866.6" stroke="none" fill="none" marker-start="url(#r22L)" marker-mid="url(#r22L)" marker-end="url(#r22L)"/>
<path d="M194.1 816.6h0M196.4 816.1h0" stroke="#d1bdac" stroke-width="3.8" stroke-linecap="round" fill="none"/>
<path d="M192.6,814.7 196.7,818.7 188.5,815.4 186.4,814.7 189.7,817.6 188.8,817.5 190.2,813.4 189.8,816 184,813.3 193.6,820.4 192.2,817.3 186.7,815.1 187.6,815 188.8,812.3" stroke="none" fill="none" marker-start="url(#r4L)" marker-mid="url(#r4L)" marker-end="url(#r4L)"/>
<path d="M206.2 818.7h0M195.6 813.7h0M210 821.7h0M196.5 814.3h0" stroke="#d1bdac" stroke-width="3.8" stroke-linecap="round" fill="none"/>
<path d="M204.4,818.5 198.5,812.7 207.1,816.8 198.1,817.3 202.6,815.1 206.3,819.3 210.1,816.1 198.7,812.2 203,814.1 203.4,812.9 192.9,810.7 206.1,815.3" stroke="none" fill="none" marker-start="url(#r4L)" marker-mid="url(#r4L)" marker-end="url(#r4L)"/>
<path d="M189.4 856.4h0M194.7 857.5h0M186.6 844h0M192.2 849.4h0" stroke="#d1bdac" stroke-width="3.8" stroke-linecap="round" fill="none"/>
<path d="M195.5,857.2 185.3,847.9 194.1,856.4 198.2,860.3 192.4,850.5 194.3,851" stroke="none" fill="none" marker-start="url(#r4L)" marker-mid="url(#r4L)" marker-end="url(#r4L)"/>
<path d="M66.5,815.1" stroke="none" fill="none" marker-start="url(#r1L)" marker-mid="url(#r1L)" marker-end="url(#r1L)"/>
<path d="M64.5,815.5" stroke="none" fill="none" marker-start="url(#r1L)" marker-mid="url(#r1L)" marker-end="url(#r1L)"/>
<path d="M68,815" stroke="none" fill="none" marker-start="url(#r1L)" marker-mid="url(#r1L)" marker-end="url(#r1L)"/>
<path d="M57.2,821.2" stroke="none" fill="none" marker-start="url(#r1L)" marker-mid="url(#r1L)" marker-end="url(#r1L)"/>
<path d="M68.8 821.2h0" stroke="#ee1c2a" stroke-width="3.8" stroke-linecap="round" fill="none"/>
<path d="M68 823h0" stroke="#ee1c2a" stroke-width="3.8" stroke-linecap="round" fill="none"/>
<path d="M70.3,826.2" stroke="none" fill="none" marker-start="url(#r1L)" marker-mid="url(#r1L)" marker-end="url(#r1L)"/>
<path d="M65.7,829.2" stroke="none" fill="none" marker-start="url(#r1L)" marker-mid="url(#r1L)" marker-end="url(#r1L)"/>
<path d="M56.5 827.7h0" stroke="#ee1c2a" stroke-width="3.8" stroke-linecap="round" fill="none"/>
<path d="M57.2 829.2h0" stroke="#ee1c2a" stroke-width="3.8" stroke-linecap="round" fill="none"/>
<path d="M55.7 833.1h0" stroke="#ee1c2a" stroke-width="3.8" stroke-linecap="round" fill="none"/>
<path d="M57.2 834.6h0" stroke="#ee1c2a" stroke-width="3.8" stroke-linecap="round" fill="none"/>
<path d="M57.2 838.5h0" stroke="#ee1c2a" stroke-width="3.8" stroke-linecap="round" fill="none"/>
<path d="M58.8 840.8h0" stroke="#ee1c2a" stroke-width="3.8" stroke-linecap="round" fill="none"/>
<path d="M59.5 843.1h0" stroke="#ee1c2a" stroke-width="3.8" stroke-linecap="round" fill="none"/>
<path d="M62.6 844.6h0" stroke="#ee1c2a" stroke-width="3.8" stroke-linecap="round" fill="none"/>
<path d="M64.9,843.8" stroke="none" fill="none" marker-start="url(#r1L)" marker-mid="url(#r1L)" marker-end="url(#r1L)"/>
<path d="M65.7 846.2h0" stroke="#ee1c2a" stroke-width="3.8" stroke-linecap="round" fill="none"/>
<path d="M57.2 850.8h0" stroke="#ee1c2a" stroke-width="3.8" stroke-linecap="round" fill="none"/>
<path d="M56.5 854.6h0" stroke="#ee1c2a" stroke-width="3.8" stroke-linecap="round" fill="none"/>
<path d="M68.8 850.8h0" stroke="#ee1c2a" stroke-width="3.8" stroke-linecap="round" fill="none"/>
<path d="M74.9 850.8h0" stroke="#ee1c2a" stroke-width="3.8" stroke-linecap="round" fill="none"/>
<path d="M72 853.5h0" stroke="#ee1c2a" stroke-width="3.8" stroke-linecap="round" fill="none"/>
<path d="M65.7,856.2" stroke="none" fill="none" marker-start="url(#r1L)" marker-mid="url(#r1L)" marker-end="url(#r1L)"/>
<path d="M68.8,857" stroke="none" fill="none" marker-start="url(#r1L)" marker-mid="url(#r1L)" marker-end="url(#r1L)"/>
<path d="M61 857h0" stroke="#ee1c2a" stroke-width="3.8" stroke-linecap="round" fill="none"/>
<path d="M75 856h0" stroke="#ee1c2a" stroke-width="3.8" stroke-linecap="round" fill="none"/>
<path d="M60 849h0" stroke="#ee1c2a" stroke-width="3.8" stroke-linecap="round" fill="none"/>
<path d="M86.1 665.8h0" stroke="#e2d444" stroke-width="3.8" stroke-linecap="round" fill="none"/>
<path d="M84.2 684.6h0" stroke="#e2d444" stroke-width="3.8" stroke-linecap="round" fill="none"/>
<path d="M83.6,721" stroke="none" fill="none" marker-start="url(#r2oL)" marker-mid="url(#r2oL)" marker-end="url(#r2oL)"/>
<path d="M84.2,723.9" stroke="none" fill="none" marker-start="url(#r2oL)" marker-mid="url(#r2oL)" marker-end="url(#r2oL)"/>
<path d="M86.7,748.5" stroke="none" fill="none" marker-start="url(#r2oL)" marker-mid="url(#r2oL)" marker-end="url(#r2oL)"/>
<path d="M83.6,752.4" stroke="none" fill="none" marker-start="url(#r2oL)" marker-mid="url(#r2oL)" marker-end="url(#r2oL)"/>
<path d="M85.2 771.9h0" stroke="#e2d444" stroke-width="3.8" stroke-linecap="round" fill="none"/>
<path d="M86.1 779.5h0" stroke="#e2d444" stroke-width="3.8" stroke-linecap="round" fill="none"/>
<path d="M84.2,783" stroke="none" fill="none" marker-start="url(#r2oL)" marker-mid="url(#r2oL)" marker-end="url(#r2oL)"/>
<path d="M85.6 788.8h0" stroke="#e2d444" stroke-width="3.8" stroke-linecap="round" fill="none"/>
<path d="M85.2,794.2" stroke="none" fill="none" marker-start="url(#r2oL)" marker-mid="url(#r2oL)" marker-end="url(#r2oL)"/>
<path d="M85.7 782.3h0" stroke="#e2d444" stroke-width="3.8" stroke-linecap="round" fill="none"/>
<path d="M85.7,787.7" stroke="none" fill="none" marker-start="url(#r2oL)" marker-mid="url(#r2oL)" marker-end="url(#r2oL)"/>
<path d="M85.7 794.6h0" stroke="#e2d444" stroke-width="3.8" stroke-linecap="round" fill="none"/>
<path d="M85.7 799.2h0" stroke="#e2d444" stroke-width="3.8" stroke-linecap="round" fill="none"/>
<path d="M85.7 807.7h0" stroke="#e2d444" stroke-width="3.8" stroke-linecap="round" fill="none"/>
<path d="M105.5 787.2h0" stroke="#e2d444" stroke-width="3.8" stroke-linecap="round" fill="none"/>
<path d="M100.3 800h0" stroke="#e2d444" stroke-width="3.8" stroke-linecap="round" fill="none"/>
<path d="M100.3 803.8h0" stroke="#e2d444" stroke-width="3.8" stroke-linecap="round" fill="none"/>
<path d="M100.3 808.5h0" stroke="#e2d444" stroke-width="3.8" stroke-linecap="round" fill="none"/>
<path d="M100.3 813h0" stroke="#e2d444" stroke-width="3.8" stroke-linecap="round" fill="none"/>
<path d="M100.3 816.9h0" stroke="#e2d444" stroke-width="3.8" stroke-linecap="round" fill="none"/>
<path d="M84.2,816.9" stroke="none" fill="none" marker-start="url(#r2L)" marker-mid="url(#r2L)" marker-end="url(#r2L)"/>
<path d="M83.4,824.6" stroke="none" fill="none" marker-start="url(#r2L)" marker-mid="url(#r2L)" marker-end="url(#r2L)"/>
<path d="M78,824.6" stroke="none" fill="none" marker-start="url(#r2L)" marker-mid="url(#r2L)" marker-end="url(#r2L)"/>
<path d="M92.6 820h0" stroke="#ffd60c" stroke-width="3.8" stroke-linecap="round" fill="none"/>
<path d="M161.5 813.8h0" stroke="#ffd60c" stroke-width="3.8" stroke-linecap="round" fill="none"/>
<path d="M169.2 820h0" stroke="#ffd60c" stroke-width="3.8" stroke-linecap="round" fill="none"/>
<path d="M177 826.2h0" stroke="#ffd60c" stroke-width="3.8" stroke-linecap="round" fill="none"/>
<path d="M116.2,827" stroke="none" fill="none" marker-start="url(#r2L)" marker-mid="url(#r2L)" marker-end="url(#r2L)"/>
<path d="M135.4,827" stroke="none" fill="none" marker-start="url(#r2L)" marker-mid="url(#r2L)" marker-end="url(#r2L)"/>
<path d="M135.4 833h0" stroke="#ffd60c" stroke-width="3.8" stroke-linecap="round" fill="none"/>
<path d="M165.4 830h0" stroke="#ffd60c" stroke-width="3.8" stroke-linecap="round" fill="none"/>
<path d="M168 829h0" stroke="#ffd60c" stroke-width="3.8" stroke-linecap="round" fill="none"/>
<path d="M171.5 841.5h0" stroke="#ffd60c" stroke-width="3.8" stroke-linecap="round" fill="none"/>
<path d="M110,830" stroke="none" fill="none" marker-start="url(#r2L)" marker-mid="url(#r2L)" marker-end="url(#r2L)"/>
<path d="M95,826" stroke="none" fill="none" marker-start="url(#r2L)" marker-mid="url(#r2L)" marker-end="url(#r2L)"/>
<path d="M105,822" stroke="none" fill="none" marker-start="url(#r2L)" marker-mid="url(#r2L)" marker-end="url(#r2L)"/>
<path d="M90,828" stroke="none" fill="none" marker-start="url(#r2L)" marker-mid="url(#r2L)" marker-end="url(#r2L)"/>
<path d="M196.5,784.2" stroke="none" fill="none" marker-start="url(#r4L)" marker-mid="url(#r4L)" marker-end="url(#r4L)"/>
<path d="M202.7,784.6" stroke="none" fill="none" marker-start="url(#r4L)" marker-mid="url(#r4L)" marker-end="url(#r4L)"/>
<path d="M201.9,794.6" stroke="none" fill="none" marker-start="url(#r4L)" marker-mid="url(#r4L)" marker-end="url(#r4L)"/>
<path d="M201.9,798.5" stroke="none" fill="none" marker-start="url(#r4L)" marker-mid="url(#r4L)" marker-end="url(#r4L)"/>
<path d="M191.9,801.5" stroke="none" fill="none" marker-start="url(#r4L)" marker-mid="url(#r4L)" marker-end="url(#r4L)"/>
<path d="M191.9,806" stroke="none" fill="none" marker-start="url(#r4L)" marker-mid="url(#r4L)" marker-end="url(#r4L)"/>
<path d="M185.8,807.7" stroke="none" fill="none" marker-start="url(#r4L)" marker-mid="url(#r4L)" marker-end="url(#r4L)"/>
<path d="M198,806" stroke="none" fill="none" marker-start="url(#r4L)" marker-mid="url(#r4L)" marker-end="url(#r4L)"/>
<path d="M204.2,804.6" stroke="none" fill="none" marker-start="url(#r4L)" marker-mid="url(#r4L)" marker-end="url(#r4L)"/>
<path d="M204.2,810" stroke="none" fill="none" marker-start="url(#r4L)" marker-mid="url(#r4L)" marker-end="url(#r4L)"/>
<path d="M195,812.3" stroke="none" fill="none" marker-start="url(#r4L)" marker-mid="url(#r4L)" marker-end="url(#r4L)"/>
<path d="M207.3,814.6" stroke="none" fill="none" marker-start="url(#r4L)" marker-mid="url(#r4L)" marker-end="url(#r4L)"/>
<path d="M201.5,790" stroke="none" fill="none" marker-start="url(#r4L)" marker-mid="url(#r4L)" marker-end="url(#r4L)"/>
<path d="M247.3 796.2h0" stroke="#f9a516" stroke-width="3.8" stroke-linecap="round" fill="none"/>
<path d="M248.8 800.8h0" stroke="#f9a516" stroke-width="3.8" stroke-linecap="round" fill="none"/>
<path d="M247.3 804.6h0" stroke="#f9a516" stroke-width="3.8" stroke-linecap="round" fill="none"/>
<path d="M242.7 810.8h0" stroke="#f9a516" stroke-width="3.8" stroke-linecap="round" fill="none"/>
<path d="M245.8 814.6h0" stroke="#f9a516" stroke-width="3.8" stroke-linecap="round" fill="none"/>
<path d="M232.7,822.3" stroke="none" fill="none" marker-start="url(#r5L)" marker-mid="url(#r5L)" marker-end="url(#r5L)"/>
<path d="M216.5 827.7h0" stroke="#f9a516" stroke-width="3.8" stroke-linecap="round" fill="none"/>
<path d="M248 795.4h0" stroke="#f9a516" stroke-width="3.8" stroke-linecap="round" fill="none"/>
<path d="M249.6 805.4h0" stroke="#f9a516" stroke-width="3.8" stroke-linecap="round" fill="none"/>
<path d="M247.3 814.6h0" stroke="#f9a516" stroke-width="3.8" stroke-linecap="round" fill="none"/>
<path d="M248.8 828.5h0" stroke="#f9a516" stroke-width="3.8" stroke-linecap="round" fill="none"/>
<path d="M260.4 830.8h0" stroke="#f9a516" stroke-width="3.8" stroke-linecap="round" fill="none"/>
<path d="M294.2,792.3" stroke="none" fill="none" marker-start="url(#r6L)" marker-mid="url(#r6L)" marker-end="url(#r6L)"/>
<path d="M291.2,801.5" stroke="none" fill="none" marker-start="url(#r6L)" marker-mid="url(#r6L)" marker-end="url(#r6L)"/>
<path d="M278.8,803" stroke="none" fill="none" marker-start="url(#r6L)" marker-mid="url(#r6L)" marker-end="url(#r6L)"/>
<path d="M276.5 806.2h0" stroke="#9252b6" stroke-width="3.8" stroke-linecap="round" fill="none"/>
<path d="M275.8 810.8h0" stroke="#9252b6" stroke-width="3.8" stroke-linecap="round" fill="none"/>
<path d="M283.5 811.5h0" stroke="#9252b6" stroke-width="3.8" stroke-linecap="round" fill="none"/>
<path d="M278.8 815.4h0" stroke="#9252b6" stroke-width="3.8" stroke-linecap="round" fill="none"/>
<path d="M284.2 815.4h0" stroke="#9252b6" stroke-width="3.8" stroke-linecap="round" fill="none"/>
<path d="M305 806.2h0" stroke="#9252b6" stroke-width="3.8" stroke-linecap="round" fill="none"/>
<path d="M306.5 810h0" stroke="#9252b6" stroke-width="3.8" stroke-linecap="round" fill="none"/>
<path d="M307.3 814.6h0" stroke="#9252b6" stroke-width="3.8" stroke-linecap="round" fill="none"/>
<path d="M280.4 823h0" stroke="#9252b6" stroke-width="3.8" stroke-linecap="round" fill="none"/>
<path d="M282 825h0" stroke="#9252b6" stroke-width="3.8" stroke-linecap="round" fill="none"/>
<path d="M303.5 823.8h0" stroke="#9252b6" stroke-width="3.8" stroke-linecap="round" fill="none"/>
<path d="M305 825.5h0" stroke="#9252b6" stroke-width="3.8" stroke-linecap="round" fill="none"/>
<path d="M298.8,826.9" stroke="none" fill="none" marker-start="url(#r6L)" marker-mid="url(#r6L)" marker-end="url(#r6L)"/>
<path d="M321.2 826.9h0" stroke="#9252b6" stroke-width="3.8" stroke-linecap="round" fill="none"/>
<path d="M274.2 828.5h0" stroke="#9252b6" stroke-width="3.8" stroke-linecap="round" fill="none"/>
<path d="M340.3 784.2h0" stroke="#9252b6" stroke-width="3.8" stroke-linecap="round" fill="none"/>
<path d="M334.2,788.5" stroke="none" fill="none" marker-start="url(#r6L)" marker-mid="url(#r6L)" marker-end="url(#r6L)"/>
<path d="M339.5 790h0" stroke="#9252b6" stroke-width="3.8" stroke-linecap="round" fill="none"/>
<path d="M341 793h0" stroke="#9252b6" stroke-width="3.8" stroke-linecap="round" fill="none"/>
<path d="M341.8 797h0" stroke="#9252b6" stroke-width="3.8" stroke-linecap="round" fill="none"/>
<path d="M326.5 807h0" stroke="#9252b6" stroke-width="3.8" stroke-linecap="round" fill="none"/>
<path d="M325.7 810.8h0" stroke="#9252b6" stroke-width="3.8" stroke-linecap="round" fill="none"/>
<path d="M335 803.8h0" stroke="#9252b6" stroke-width="3.8" stroke-linecap="round" fill="none"/>
<path d="M340.3 809.2h0" stroke="#9252b6" stroke-width="3.8" stroke-linecap="round" fill="none"/>
<path d="M344.2,806.9" stroke="none" fill="none" marker-start="url(#r6L)" marker-mid="url(#r6L)" marker-end="url(#r6L)"/>
<path d="M348 811.5h0" stroke="#9252b6" stroke-width="3.8" stroke-linecap="round" fill="none"/>
<path d="M354.2 815.4h0" stroke="#9252b6" stroke-width="3.8" stroke-linecap="round" fill="none"/>
<path d="M352.6 819.2h0" stroke="#9252b6" stroke-width="3.8" stroke-linecap="round" fill="none"/>
<path d="M350.3 820.8h0" stroke="#9252b6" stroke-width="3.8" stroke-linecap="round" fill="none"/>
<path d="M356.5 823h0" stroke="#9252b6" stroke-width="3.8" stroke-linecap="round" fill="none"/>
<path d="M330 815h0" stroke="#9252b6" stroke-width="3.8" stroke-linecap="round" fill="none"/>
<path d="M336 818h0" stroke="#9252b6" stroke-width="3.8" stroke-linecap="round" fill="none"/>
<path d="M342,816" stroke="none" fill="none" marker-start="url(#r6L)" marker-mid="url(#r6L)" marker-end="url(#r6L)"/>
<path d="M328 820h0" stroke="#9252b6" stroke-width="3.8" stroke-linecap="round" fill="none"/>
<path d="M359.5,828.5" stroke="none" fill="none" marker-start="url(#r7L)" marker-mid="url(#r7L)" marker-end="url(#r7L)"/>
<path d="M361,835" stroke="none" fill="none" marker-start="url(#r7L)" marker-mid="url(#r7L)" marker-end="url(#r7L)"/>
<path d="M362 840h0" stroke="#c9e58d" stroke-width="3.8" stroke-linecap="round" fill="none"/>
<path d="M367.5 794.6h0" stroke="#e8418f" stroke-width="3.8" stroke-linecap="round" fill="none"/>
<path d="M368.8,801.5" stroke="none" fill="none" marker-start="url(#r9L)" marker-mid="url(#r9L)" marker-end="url(#r9L)"/>
<path d="M371.8 810h0" stroke="#e8418f" stroke-width="3.8" stroke-linecap="round" fill="none"/>
<path d="M372.6 814.6h0" stroke="#e8418f" stroke-width="3.8" stroke-linecap="round" fill="none"/>
<path d="M368,819.2" stroke="none" fill="none" marker-start="url(#r9L)" marker-mid="url(#r9L)" marker-end="url(#r9L)"/>
<path d="M379.5 812.3h0" stroke="#e8418f" stroke-width="3.8" stroke-linecap="round" fill="none"/>
<path d="M379.5,823" stroke="none" fill="none" marker-start="url(#r9L)" marker-mid="url(#r9L)" marker-end="url(#r9L)"/>
<path d="M367.2 828.5h0" stroke="#e8418f" stroke-width="3.8" stroke-linecap="round" fill="none"/>
<path d="M372.6 833h0" stroke="#e8418f" stroke-width="3.8" stroke-linecap="round" fill="none"/>
<path d="M378.8 842.3h0" stroke="#e8418f" stroke-width="3.8" stroke-linecap="round" fill="none"/>
<path d="M400 776.2h0" stroke="#ebd0e6" stroke-width="3.8" stroke-linecap="round" fill="none"/>
<path d="M400 794.6h0" stroke="#ebd0e6" stroke-width="3.8" stroke-linecap="round" fill="none"/>
<path d="M402.3 797h0" stroke="#ebd0e6" stroke-width="3.8" stroke-linecap="round" fill="none"/>
<path d="M402.3 815.4h0" stroke="#ebd0e6" stroke-width="3.8" stroke-linecap="round" fill="none"/>
<path d="M400.8 819.2h0" stroke="#ebd0e6" stroke-width="3.8" stroke-linecap="round" fill="none"/>
<path d="M401.5 826h0" stroke="#ebd0e6" stroke-width="3.8" stroke-linecap="round" fill="none"/>
<path d="M401.5 831.5h0" stroke="#ebd0e6" stroke-width="3.8" stroke-linecap="round" fill="none"/>
<path d="M402 837h0" stroke="#ebd0e6" stroke-width="3.8" stroke-linecap="round" fill="none"/>
<path d="M400.5 822h0" stroke="#ebd0e6" stroke-width="3.8" stroke-linecap="round" fill="none"/>
<path d="M403 810h0" stroke="#ebd0e6" stroke-width="3.8" stroke-linecap="round" fill="none"/>
<path d="M384.2,837.7" stroke="none" fill="none" marker-start="url(#r10L)" marker-mid="url(#r10L)" marker-end="url(#r10L)"/>
<path d="M392.6,846.2" stroke="none" fill="none" marker-start="url(#r10L)" marker-mid="url(#r10L)" marker-end="url(#r10L)"/>
<path d="M406.2 840.8h0" stroke="#213fa0" stroke-width="3.8" stroke-linecap="round" fill="none"/>
<path d="M425.4 842.3h0" stroke="#8d5a2c" stroke-width="3.8" stroke-linecap="round" fill="none"/>
<path d="M427.7 848.5h0" stroke="#8d5a2c" stroke-width="3.8" stroke-linecap="round" fill="none"/>
<path d="M430 847h0" stroke="#8d5a2c" stroke-width="3.8" stroke-linecap="round" fill="none"/>
<path d="M436.3,757.3" stroke="none" fill="none" marker-start="url(#r15L)" marker-mid="url(#r15L)" marker-end="url(#r15L)"/>
<path d="M439,762.5" stroke="none" fill="none" marker-start="url(#r15L)" marker-mid="url(#r15L)" marker-end="url(#r15L)"/>
<path d="M437.8 771h0" stroke="#d386c8" stroke-width="3.8" stroke-linecap="round" fill="none"/>
<path d="M439.2 773.4h0" stroke="#d386c8" stroke-width="3.8" stroke-linecap="round" fill="none"/>
<path d="M440.2 775.8h0" stroke="#d386c8" stroke-width="3.8" stroke-linecap="round" fill="none"/>
<path d="M434.9,788.8" stroke="none" fill="none" marker-start="url(#r15L)" marker-mid="url(#r15L)" marker-end="url(#r15L)"/>
<path d="M448.4 787.3h0" stroke="#d386c8" stroke-width="3.8" stroke-linecap="round" fill="none"/>
<path d="M441.6,792.6" stroke="none" fill="none" marker-start="url(#r15L)" marker-mid="url(#r15L)" marker-end="url(#r15L)"/>
<path d="M445.5,792.1" stroke="none" fill="none" marker-start="url(#r15L)" marker-mid="url(#r15L)" marker-end="url(#r15L)"/>
<path d="M447,793" stroke="none" fill="none" marker-start="url(#r15L)" marker-mid="url(#r15L)" marker-end="url(#r15L)"/>
<path d="M440.2,796" stroke="none" fill="none" marker-start="url(#r15L)" marker-mid="url(#r15L)" marker-end="url(#r15L)"/>
<path d="M438.8,798.4" stroke="none" fill="none" marker-start="url(#r15L)" marker-mid="url(#r15L)" marker-end="url(#r15L)"/>
<path d="M445.5 798.4h0" stroke="#d386c8" stroke-width="3.8" stroke-linecap="round" fill="none"/>
<path d="M434.6,788.5" stroke="none" fill="none" marker-start="url(#r15L)" marker-mid="url(#r15L)" marker-end="url(#r15L)"/>
<path d="M444.6,792.3" stroke="none" fill="none" marker-start="url(#r15L)" marker-mid="url(#r15L)" marker-end="url(#r15L)"/>
<path d="M438.5,796.9" stroke="none" fill="none" marker-start="url(#r15L)" marker-mid="url(#r15L)" marker-end="url(#r15L)"/>
<path d="M446.2,799.2" stroke="none" fill="none" marker-start="url(#r15L)" marker-mid="url(#r15L)" marker-end="url(#r15L)"/>
<path d="M437,804.6" stroke="none" fill="none" marker-start="url(#r15L)" marker-mid="url(#r15L)" marker-end="url(#r15L)"/>
<path d="M442.3,804.6" stroke="none" fill="none" marker-start="url(#r15L)" marker-mid="url(#r15L)" marker-end="url(#r15L)"/>
<path d="M448.5,810.8" stroke="none" fill="none" marker-start="url(#r15L)" marker-mid="url(#r15L)" marker-end="url(#r15L)"/>
<path d="M438.5,817.7" stroke="none" fill="none" marker-start="url(#r15L)" marker-mid="url(#r15L)" marker-end="url(#r15L)"/>
<path d="M443,816.2" stroke="none" fill="none" marker-start="url(#r15L)" marker-mid="url(#r15L)" marker-end="url(#r15L)"/>
<path d="M435.4,822.3" stroke="none" fill="none" marker-start="url(#r15L)" marker-mid="url(#r15L)" marker-end="url(#r15L)"/>
<path d="M440,826.2" stroke="none" fill="none" marker-start="url(#r15L)" marker-mid="url(#r15L)" marker-end="url(#r15L)"/>
<path d="M441.5,830.8" stroke="none" fill="none" marker-start="url(#r15L)" marker-mid="url(#r15L)" marker-end="url(#r15L)"/>
<path d="M450.8,829.2" stroke="none" fill="none" marker-start="url(#r15L)" marker-mid="url(#r15L)" marker-end="url(#r15L)"/>
<path d="M457.7,828.5" stroke="none" fill="none" marker-start="url(#r15L)" marker-mid="url(#r15L)" marker-end="url(#r15L)"/>
<path d="M444.6,836.2" stroke="none" fill="none" marker-start="url(#r15L)" marker-mid="url(#r15L)" marker-end="url(#r15L)"/>
<path d="M448,837" stroke="none" fill="none" marker-start="url(#r15L)" marker-mid="url(#r15L)" marker-end="url(#r15L)"/>
<path d="M453,832" stroke="none" fill="none" marker-start="url(#r15L)" marker-mid="url(#r15L)" marker-end="url(#r15L)"/>
<path d="M436,812" stroke="none" fill="none" marker-start="url(#r15L)" marker-mid="url(#r15L)" marker-end="url(#r15L)"/>
<path d="M446,822" stroke="none" fill="none" marker-start="url(#r15L)" marker-mid="url(#r15L)" marker-end="url(#r15L)"/>
<path d="M471.9,824" stroke="none" fill="none" marker-start="url(#r16L)" marker-mid="url(#r16L)" marker-end="url(#r16L)"/>
<path d="M475,824" stroke="none" fill="none" marker-start="url(#r16L)" marker-mid="url(#r16L)" marker-end="url(#r16L)"/>
<path d="M468.1,830" stroke="none" fill="none" marker-start="url(#r16L)" marker-mid="url(#r16L)" marker-end="url(#r16L)"/>
<path d="M470.4 833.8h0" stroke="#a6d645" stroke-width="3.8" stroke-linecap="round" fill="none"/>
<path d="M468,836" stroke="none" fill="none" marker-start="url(#r16L)" marker-mid="url(#r16L)" marker-end="url(#r16L)"/>
<path d="M476.5 805h0" stroke="#c41a66" stroke-width="4.2" stroke-linecap="round" fill="none"/>
<path d="M477 806.5h0" stroke="#c41a66" stroke-width="4.2" stroke-linecap="round" fill="none"/>
<path d="M477.5 836h0" stroke="#c41a66" stroke-width="4.2" stroke-linecap="round" fill="none"/>
<path d="M476.8 843h0" stroke="#c41a66" stroke-width="4.2" stroke-linecap="round" fill="none"/>
<path d="M477.5 849h0" stroke="#c41a66" stroke-width="4.2" stroke-linecap="round" fill="none"/>
<path d="M476.2 851h0" stroke="#c41a66" stroke-width="4.2" stroke-linecap="round" fill="none"/>
<path d="M477.8 856h0" stroke="#c41a66" stroke-width="4.2" stroke-linecap="round" fill="none"/>
<path d="M476.5 859.5h0" stroke="#c41a66" stroke-width="4.2" stroke-linecap="round" fill="none"/>
<path d="M477.2 865h0" stroke="#c41a66" stroke-width="4.2" stroke-linecap="round" fill="none"/>
<path d="M478,838" stroke="none" fill="none" marker-start="url(#r17L)" marker-mid="url(#r17L)" marker-end="url(#r17L)"/>
<path d="M478.8 832.3h0" stroke="#c41a66" stroke-width="4.2" stroke-linecap="round" fill="none"/>
<path d="M476.5 840h0" stroke="#c41a66" stroke-width="4.2" stroke-linecap="round" fill="none"/>
<path d="M475.7 845.2h0" stroke="#c41a66" stroke-width="4.2" stroke-linecap="round" fill="none"/>
<path d="M477.2 853.6h0" stroke="#c41a66" stroke-width="4.2" stroke-linecap="round" fill="none"/>
<path d="M476.5 862.7h0" stroke="#c41a66" stroke-width="4.2" stroke-linecap="round" fill="none"/>
<path d="M476 848h0" stroke="#c41a66" stroke-width="4.2" stroke-linecap="round" fill="none"/>
<path d="M477 858h0" stroke="#c41a66" stroke-width="4.2" stroke-linecap="round" fill="none"/>
<path d="M484,836.1" stroke="none" fill="none" marker-start="url(#r18L)" marker-mid="url(#r18L)" marker-end="url(#r18L)"/>
<path d="M488.6,835.3" stroke="none" fill="none" marker-start="url(#r18L)" marker-mid="url(#r18L)" marker-end="url(#r18L)"/>
<path d="M486,840" stroke="none" fill="none" marker-start="url(#r18L)" marker-mid="url(#r18L)" marker-end="url(#r18L)"/>
<path d="M498.5 812.6h0" stroke="#ee3636" stroke-width="3.8" stroke-linecap="round" fill="none"/>
<path d="M497.8,830.8" stroke="none" fill="none" marker-start="url(#r22L)" marker-mid="url(#r22L)" marker-end="url(#r22L)"/>
<path d="M494,840" stroke="none" fill="none" marker-start="url(#r22L)" marker-mid="url(#r22L)" marker-end="url(#r22L)"/>
<path d="M496,838" stroke="none" fill="none" marker-start="url(#r22L)" marker-mid="url(#r22L)" marker-end="url(#r22L)"/>
<path d="M500 835.3h0" stroke="#000000" stroke-width="3.8" stroke-linecap="round" fill="none"/>
<path d="M500.8 846.7h0" stroke="#000000" stroke-width="3.8" stroke-linecap="round" fill="none"/>
<path d="M500.8 861.2h0" stroke="#000000" stroke-width="3.8" stroke-linecap="round" fill="none"/>
<path d="M500.8 865.7h0" stroke="#000000" stroke-width="3.8" stroke-linecap="round" fill="none"/>
<rect x="38.3" y="10.7" width="480.10" height="261.30" fill="none" stroke="#222" stroke-width="1.15"/>
<line x1="32.6" y1="262.50" x2="38.3" y2="262.50" stroke="#222" stroke-width="1.1"/>
<text transform="translate(29.0,262.50) rotate(-90)" text-anchor="middle" font-size="10" fill="#111">0</text>
<line x1="32.6" y1="205.87" x2="38.3" y2="205.87" stroke="#222" stroke-width="1.1"/>
<text transform="translate(29.0,205.87) rotate(-90)" text-anchor="middle" font-size="10" fill="#111">5</text>
<line x1="32.6" y1="149.23" x2="38.3" y2="149.23" stroke="#222" stroke-width="1.1"/>
<text transform="translate(29.0,149.23) rotate(-90)" text-anchor="middle" font-size="10" fill="#111">10</text>
<line x1="32.6" y1="92.59" x2="38.3" y2="92.59" stroke="#222" stroke-width="1.1"/>
<text transform="translate(29.0,92.59) rotate(-90)" text-anchor="middle" font-size="10" fill="#111">15</text>
<line x1="32.6" y1="35.96" x2="38.3" y2="35.96" stroke="#222" stroke-width="1.1"/>
<text transform="translate(29.0,35.96) rotate(-90)" text-anchor="middle" font-size="10" fill="#111">20</text>
<text x="11.0" y="9.0" font-size="10.8" font-weight="bold" fill="#111">A</text>
<text transform="translate(9.7,180.25) rotate(-90)" font-size="10.9" font-weight="bold" fill="#111">Log<tspan font-size="7.2" font-weight="normal" dy="2.2" fill="#222" style="stroke:none">10</tspan><tspan dy="-2.2"> (P-value)</tspan></text>
<line x1="38.3" y1="228.5" x2="518.4" y2="228.5" stroke="#111" stroke-width="1.3" stroke-dasharray="2.3 1.8"/>
<rect x="38.3" y="299.0" width="480.10" height="260.90" fill="none" stroke="#222" stroke-width="1.15"/>
<line x1="32.6" y1="550.70" x2="38.3" y2="550.70" stroke="#222" stroke-width="1.1"/>
<text transform="translate(29.0,550.70) rotate(-90)" text-anchor="middle" font-size="10" fill="#111">0</text>
<line x1="32.6" y1="471.57" x2="38.3" y2="471.57" stroke="#222" stroke-width="1.1"/>
<text transform="translate(29.0,471.57) rotate(-90)" text-anchor="middle" font-size="10" fill="#111">5</text>
<line x1="32.6" y1="392.43" x2="38.3" y2="392.43" stroke="#222" stroke-width="1.1"/>
<text transform="translate(29.0,392.43) rotate(-90)" text-anchor="middle" font-size="10" fill="#111">10</text>
<line x1="32.6" y1="313.30" x2="38.3" y2="313.30" stroke="#222" stroke-width="1.1"/>
<text transform="translate(29.0,313.30) rotate(-90)" text-anchor="middle" font-size="10" fill="#111">15</text>
<text x="11.3" y="300.2" font-size="10.8" font-weight="bold" fill="#111">B</text>
<text transform="translate(9.7,468.35) rotate(-90)" font-size="10.9" font-weight="bold" fill="#111">Log<tspan font-size="7.2" font-weight="normal" dy="2.2" fill="#222" style="stroke:none">10</tspan><tspan dy="-2.2"> (P-value)</tspan></text>
<line x1="38.3" y1="502.9" x2="518.4" y2="502.9" stroke="#111" stroke-width="1.45" stroke-dasharray="2.6 1.6"/>
<rect x="38.3" y="625.2" width="480.10" height="250.70" fill="none" stroke="#222" stroke-width="1.15"/>
<line x1="32.6" y1="867.10" x2="38.3" y2="867.10" stroke="#222" stroke-width="1.1"/>
<text transform="translate(29.0,867.10) rotate(-90)" text-anchor="middle" font-size="10" fill="#111">0</text>
<line x1="32.6" y1="803.60" x2="38.3" y2="803.60" stroke="#222" stroke-width="1.1"/>
<text transform="translate(29.0,803.60) rotate(-90)" text-anchor="middle" font-size="10" fill="#111">2</text>
<line x1="32.6" y1="740.10" x2="38.3" y2="740.10" stroke="#222" stroke-width="1.1"/>
<text transform="translate(29.0,740.10) rotate(-90)" text-anchor="middle" font-size="10" fill="#111">4</text>
<line x1="32.6" y1="676.60" x2="38.3" y2="676.60" stroke="#222" stroke-width="1.1"/>
<text transform="translate(29.0,676.60) rotate(-90)" text-anchor="middle" font-size="10" fill="#111">6</text>
<text x="10.1" y="626.7" font-size="10.8" font-weight="bold" fill="#111">C</text>
<text transform="translate(9.7,789.45) rotate(-90)" font-size="10.9" font-weight="bold" fill="#111">Log<tspan font-size="7.2" font-weight="normal" dy="2.2" fill="#222" style="stroke:none">10</tspan><tspan dy="-2.2"> (P-value)</tspan></text>
<line x1="38.3" y1="772.1" x2="518.4" y2="772.1" stroke="#333" stroke-width="1.5" stroke-dasharray="2.9 1.35"/>
<circle cx="396.0" cy="28.9" r="2.6" fill="#000"/>
<circle cx="396.0" cy="40.0" r="2.0" fill="none" stroke="#000" stroke-width="1.15"/>
<text x="416.6" y="31.9" font-size="8" fill="#111">Genotyped</text>
<text x="416.6" y="43.0" font-size="8" fill="#111">Imputed</text>
<circle cx="396.0" cy="315.5" r="2.6" fill="#000"/>
<circle cx="396.0" cy="327.3" r="2.0" fill="none" stroke="#000" stroke-width="1.15"/>
<text x="416.6" y="318.9" font-size="8" fill="#111">Genotyped</text>
<text x="416.6" y="330.7" font-size="8" fill="#111">Imputed</text>
<circle cx="395.8" cy="637.0" r="2.6" fill="#000"/>
<circle cx="395.8" cy="648.1" r="2.0" fill="none" stroke="#000" stroke-width="1.15"/>
<text x="416.6" y="641.2" font-size="8" fill="#111">Genotyped</text>
<text x="416.6" y="651.7" font-size="8" fill="#111">Imputed</text>
<text x="465" y="24.6" font-size="8.3" fill="#111">SHBG</text>
<text x="465" y="312" font-size="8.3" fill="#111">SHBG</text>
<text x="44.5" y="197.0" font-size="8.3" fill="#111">HSD3B2</text>
<text x="328.8" y="452" font-size="8.3" fill="#111">ESR1</text>
<text x="70.5" y="632.1" font-size="8.3" fill="#111">SRD5A2</text>
<text x="418.5" y="723.6" font-size="8.15" fill="#111">CYP19A1</text>
<rect x="60.1" y="563.6" width="15.2" height="8.8" fill="#e8202a" stroke="#222" stroke-width="0.9"/>
<text class="lg" x="39.9" y="570.8" font-size="6.5" fill="#333">Chr 1</text>
<rect x="102.4" y="563.6" width="15.2" height="8.8" fill="#f7d02c" stroke="#222" stroke-width="0.9"/>
<text class="lg" x="82.2" y="570.8" font-size="6.5" fill="#333">Chr 2</text>
<rect x="144.8" y="563.6" width="15.2" height="8.8" fill="#6a94d8" stroke="#222" stroke-width="0.9"/>
<text class="lg" x="124.6" y="570.8" font-size="6.5" fill="#333">Chr 3</text>
<rect x="187.1" y="563.6" width="15.2" height="8.8" fill="#d3bea6" stroke="#222" stroke-width="0.9"/>
<text class="lg" x="166.9" y="570.8" font-size="6.5" fill="#333">Chr 4</text>
<rect x="229.5" y="563.6" width="15.2" height="8.8" fill="#f7a12a" stroke="#222" stroke-width="0.9"/>
<text class="lg" x="209.3" y="570.8" font-size="6.5" fill="#333">Chr 5</text>
<rect x="271.8" y="563.6" width="15.2" height="8.8" fill="#8f55ac" stroke="#222" stroke-width="0.9"/>
<text class="lg" x="251.6" y="570.8" font-size="6.5" fill="#333">Chr 6</text>
<rect x="314.1" y="563.6" width="15.2" height="8.8" fill="#c9e58d" stroke="#222" stroke-width="0.9"/>
<text class="lg" x="293.9" y="570.8" font-size="6.5" fill="#333">Chr 7</text>
<rect x="356.5" y="563.6" width="15.2" height="8.8" fill="#47b648" stroke="#222" stroke-width="0.9"/>
<text class="lg" x="336.3" y="570.8" font-size="6.5" fill="#333">Chr 8</text>
<rect x="398.8" y="563.6" width="15.2" height="8.8" fill="#e8418f" stroke="#222" stroke-width="0.9"/>
<text class="lg" x="378.6" y="570.8" font-size="6.5" fill="#333">Chr 9</text>
<rect x="441.2" y="563.6" width="15.2" height="8.8" fill="#efc3dd" stroke="#222" stroke-width="0.9"/>
<text class="lg" x="421.0" y="570.8" font-size="6.5" fill="#333">Chr 10</text>
<rect x="483.5" y="563.6" width="15.2" height="8.8" fill="#213fa0" stroke="#222" stroke-width="0.9"/>
<text class="lg" x="463.3" y="570.8" font-size="6.5" fill="#333">Chr 11</text>
<rect x="60.1" y="585.6" width="15.2" height="8.8" fill="#6fcfa8" stroke="#222" stroke-width="0.9"/>
<text class="lg" x="39.9" y="592.8" font-size="6.5" fill="#333">Chr 12</text>
<rect x="102.4" y="585.6" width="15.2" height="8.8" fill="#fbf142" stroke="#222" stroke-width="0.9"/>
<text class="lg" x="82.2" y="592.8" font-size="6.5" fill="#333">Chr 13</text>
<rect x="144.8" y="585.6" width="15.2" height="8.8" fill="#8d5a2c" stroke="#222" stroke-width="0.9"/>
<text class="lg" x="124.6" y="592.8" font-size="6.5" fill="#333">Chr 14</text>
<rect x="187.1" y="585.6" width="15.2" height="8.8" fill="#d386c8" stroke="#222" stroke-width="0.9"/>
<text class="lg" x="166.9" y="592.8" font-size="6.5" fill="#333">Chr 15</text>
<rect x="229.5" y="585.6" width="15.2" height="8.8" fill="#a6d645" stroke="#222" stroke-width="0.9"/>
<text class="lg" x="209.3" y="592.8" font-size="6.5" fill="#333">Chr 16</text>
<rect x="271.8" y="585.6" width="15.2" height="8.8" fill="#e51e7d" stroke="#222" stroke-width="0.9"/>
<text class="lg" x="251.6" y="592.8" font-size="6.5" fill="#333">Chr 17</text>
<rect x="314.1" y="585.6" width="15.2" height="8.8" fill="#d7c27a" stroke="#222" stroke-width="0.9"/>
<text class="lg" x="293.9" y="592.8" font-size="6.5" fill="#333">Chr 18</text>
<rect x="356.5" y="585.6" width="15.2" height="8.8" fill="#727272" stroke="#222" stroke-width="0.9"/>
<text class="lg" x="336.3" y="592.8" font-size="6.5" fill="#333">Chr 19</text>
<rect x="398.8" y="585.6" width="15.2" height="8.8" fill="#f2e98f" stroke="#222" stroke-width="0.9"/>
<text class="lg" x="378.6" y="592.8" font-size="6.5" fill="#333">Chr 20</text>
<rect x="441.2" y="585.6" width="15.2" height="8.8" fill="#ee3636" stroke="#222" stroke-width="0.9"/>
<text class="lg" x="421.0" y="592.8" font-size="6.5" fill="#333">Chr 22</text>
<rect x="483.5" y="585.6" width="15.2" height="8.8" fill="#000000" stroke="#222" stroke-width="0.9"/>
<text class="lg" x="463.3" y="592.8" font-size="6.5" fill="#333">Chr x</text>
</svg></body></html>
